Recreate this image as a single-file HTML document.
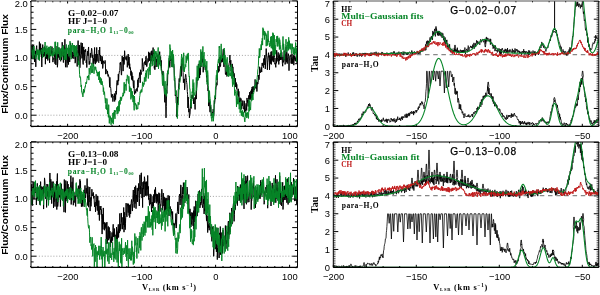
<!DOCTYPE html>
<html><head><meta charset="utf-8"><style>
html,body{margin:0;padding:0;background:#fff;width:600px;height:295px;overflow:hidden;font-family:"Liberation Sans",sans-serif;}
svg{display:block;will-change:transform;}
</style></head><body>
<svg width="600" height="295" viewBox="0 0 600 295"><line x1="36.0" y1="55.4" x2="294.5" y2="55.4" stroke="#999" stroke-width="0.9" stroke-dasharray="1 1.9"/>
<line x1="36.0" y1="115.2" x2="294.5" y2="115.2" stroke="#999" stroke-width="0.9" stroke-dasharray="1 1.9"/>
<path d="M67.60,126.3v-2.5M67.60,1.0v2.5M141.60,126.3v-2.5M141.60,1.0v2.5M215.60,126.3v-2.5M215.60,1.0v2.5M289.60,126.3v-2.5M289.60,1.0v2.5M30.60,126.3v-1.3M30.60,1.0v1.3M38.00,126.3v-1.3M38.00,1.0v1.3M45.40,126.3v-1.3M45.40,1.0v1.3M52.80,126.3v-1.3M52.80,1.0v1.3M60.20,126.3v-1.3M60.20,1.0v1.3M75.00,126.3v-1.3M75.00,1.0v1.3M82.40,126.3v-1.3M82.40,1.0v1.3M89.80,126.3v-1.3M89.80,1.0v1.3M97.20,126.3v-1.3M97.20,1.0v1.3M104.60,126.3v-1.3M104.60,1.0v1.3M112.00,126.3v-1.3M112.00,1.0v1.3M119.40,126.3v-1.3M119.40,1.0v1.3M126.80,126.3v-1.3M126.80,1.0v1.3M134.20,126.3v-1.3M134.20,1.0v1.3M149.00,126.3v-1.3M149.00,1.0v1.3M156.40,126.3v-1.3M156.40,1.0v1.3M163.80,126.3v-1.3M163.80,1.0v1.3M171.20,126.3v-1.3M171.20,1.0v1.3M178.60,126.3v-1.3M178.60,1.0v1.3M186.00,126.3v-1.3M186.00,1.0v1.3M193.40,126.3v-1.3M193.40,1.0v1.3M200.80,126.3v-1.3M200.80,1.0v1.3M208.20,126.3v-1.3M208.20,1.0v1.3M223.00,126.3v-1.3M223.00,1.0v1.3M230.40,126.3v-1.3M230.40,1.0v1.3M237.80,126.3v-1.3M237.80,1.0v1.3M245.20,126.3v-1.3M245.20,1.0v1.3M252.60,126.3v-1.3M252.60,1.0v1.3M260.00,126.3v-1.3M260.00,1.0v1.3M267.40,126.3v-1.3M267.40,1.0v1.3M274.80,126.3v-1.3M274.80,1.0v1.3M282.20,126.3v-1.3M282.20,1.0v1.3M297.00,126.3v-1.3M297.00,1.0v1.3" stroke="#000" stroke-width="1" fill="none"/>
<path d="M31.0,115.20h5.3M297.5,115.20h-5.3M31.0,86.60h5.3M297.5,86.60h-5.3M31.0,58.00h5.3M297.5,58.00h-5.3M31.0,29.40h5.3M297.5,29.40h-5.3M31.0,0.80h5.3M297.5,0.80h-5.3" stroke="#000" stroke-width="1" fill="none"/>
<path d="M31.0,126.64h2.6M297.5,126.64h-2.6M31.0,120.92h2.6M297.5,120.92h-2.6M31.0,109.48h2.6M297.5,109.48h-2.6M31.0,103.76h2.6M297.5,103.76h-2.6M31.0,98.04h2.6M297.5,98.04h-2.6M31.0,92.32h2.6M297.5,92.32h-2.6M31.0,80.88h2.6M297.5,80.88h-2.6M31.0,75.16h2.6M297.5,75.16h-2.6M31.0,69.44h2.6M297.5,69.44h-2.6M31.0,63.72h2.6M297.5,63.72h-2.6M31.0,52.28h2.6M297.5,52.28h-2.6M31.0,46.56h2.6M297.5,46.56h-2.6M31.0,40.84h2.6M297.5,40.84h-2.6M31.0,35.12h2.6M297.5,35.12h-2.6M31.0,23.68h2.6M297.5,23.68h-2.6M31.0,17.96h2.6M297.5,17.96h-2.6M31.0,12.24h2.6M297.5,12.24h-2.6M31.0,6.52h2.6M297.5,6.52h-2.6" stroke="#000" stroke-width="1.0" fill="none"/>
<text x="27.8" y="6.9" font-family="Liberation Sans" font-size="9.4" font-weight="normal" fill="#000" text-anchor="end" >2.0</text>
<text x="27.8" y="32.69999999999999" font-family="Liberation Sans" font-size="9.4" font-weight="normal" fill="#000" text-anchor="end" >1.5</text>
<text x="27.8" y="61.3" font-family="Liberation Sans" font-size="9.4" font-weight="normal" fill="#000" text-anchor="end" >1.0</text>
<text x="27.8" y="89.89999999999999" font-family="Liberation Sans" font-size="9.4" font-weight="normal" fill="#000" text-anchor="end" >0.5</text>
<text x="27.8" y="118.5" font-family="Liberation Sans" font-size="9.4" font-weight="normal" fill="#000" text-anchor="end" >0.0</text>
<text x="67.89999999999999" y="138.8" font-family="Liberation Sans" font-size="9.4" font-weight="normal" fill="#000" text-anchor="middle" >&#8722;200</text>
<text x="141.9" y="138.8" font-family="Liberation Sans" font-size="9.4" font-weight="normal" fill="#000" text-anchor="middle" >&#8722;100</text>
<text x="215.9" y="138.8" font-family="Liberation Sans" font-size="9.4" font-weight="normal" fill="#000" text-anchor="middle" >0</text>
<text x="289.90000000000003" y="138.8" font-family="Liberation Sans" font-size="9.4" font-weight="normal" fill="#000" text-anchor="middle" >100</text>
<text transform="translate(8.2,64) rotate(-90)" font-family="Liberation Sans" font-weight="bold" font-size="9.6" text-anchor="middle" textLength="99.5" lengthAdjust="spacingAndGlyphs">Flux/Continuum Flux</text>
<line x1="36.0" y1="196.4" x2="294.5" y2="196.4" stroke="#999" stroke-width="0.9" stroke-dasharray="1 1.9"/>
<line x1="36.0" y1="256.2" x2="294.5" y2="256.2" stroke="#999" stroke-width="0.9" stroke-dasharray="1 1.9"/>
<path d="M67.60,267.3v-2.5M67.60,142.0v2.5M141.60,267.3v-2.5M141.60,142.0v2.5M215.60,267.3v-2.5M215.60,142.0v2.5M289.60,267.3v-2.5M289.60,142.0v2.5M30.60,267.3v-1.3M30.60,142.0v1.3M38.00,267.3v-1.3M38.00,142.0v1.3M45.40,267.3v-1.3M45.40,142.0v1.3M52.80,267.3v-1.3M52.80,142.0v1.3M60.20,267.3v-1.3M60.20,142.0v1.3M75.00,267.3v-1.3M75.00,142.0v1.3M82.40,267.3v-1.3M82.40,142.0v1.3M89.80,267.3v-1.3M89.80,142.0v1.3M97.20,267.3v-1.3M97.20,142.0v1.3M104.60,267.3v-1.3M104.60,142.0v1.3M112.00,267.3v-1.3M112.00,142.0v1.3M119.40,267.3v-1.3M119.40,142.0v1.3M126.80,267.3v-1.3M126.80,142.0v1.3M134.20,267.3v-1.3M134.20,142.0v1.3M149.00,267.3v-1.3M149.00,142.0v1.3M156.40,267.3v-1.3M156.40,142.0v1.3M163.80,267.3v-1.3M163.80,142.0v1.3M171.20,267.3v-1.3M171.20,142.0v1.3M178.60,267.3v-1.3M178.60,142.0v1.3M186.00,267.3v-1.3M186.00,142.0v1.3M193.40,267.3v-1.3M193.40,142.0v1.3M200.80,267.3v-1.3M200.80,142.0v1.3M208.20,267.3v-1.3M208.20,142.0v1.3M223.00,267.3v-1.3M223.00,142.0v1.3M230.40,267.3v-1.3M230.40,142.0v1.3M237.80,267.3v-1.3M237.80,142.0v1.3M245.20,267.3v-1.3M245.20,142.0v1.3M252.60,267.3v-1.3M252.60,142.0v1.3M260.00,267.3v-1.3M260.00,142.0v1.3M267.40,267.3v-1.3M267.40,142.0v1.3M274.80,267.3v-1.3M274.80,142.0v1.3M282.20,267.3v-1.3M282.20,142.0v1.3M297.00,267.3v-1.3M297.00,142.0v1.3" stroke="#000" stroke-width="1" fill="none"/>
<path d="M31.0,256.20h5.3M297.5,256.20h-5.3M31.0,227.60h5.3M297.5,227.60h-5.3M31.0,199.00h5.3M297.5,199.00h-5.3M31.0,170.40h5.3M297.5,170.40h-5.3M31.0,141.80h5.3M297.5,141.80h-5.3" stroke="#000" stroke-width="1" fill="none"/>
<path d="M31.0,267.64h2.6M297.5,267.64h-2.6M31.0,261.92h2.6M297.5,261.92h-2.6M31.0,250.48h2.6M297.5,250.48h-2.6M31.0,244.76h2.6M297.5,244.76h-2.6M31.0,239.04h2.6M297.5,239.04h-2.6M31.0,233.32h2.6M297.5,233.32h-2.6M31.0,221.88h2.6M297.5,221.88h-2.6M31.0,216.16h2.6M297.5,216.16h-2.6M31.0,210.44h2.6M297.5,210.44h-2.6M31.0,204.72h2.6M297.5,204.72h-2.6M31.0,193.28h2.6M297.5,193.28h-2.6M31.0,187.56h2.6M297.5,187.56h-2.6M31.0,181.84h2.6M297.5,181.84h-2.6M31.0,176.12h2.6M297.5,176.12h-2.6M31.0,164.68h2.6M297.5,164.68h-2.6M31.0,158.96h2.6M297.5,158.96h-2.6M31.0,153.24h2.6M297.5,153.24h-2.6M31.0,147.52h2.6M297.5,147.52h-2.6" stroke="#000" stroke-width="1.0" fill="none"/>
<text x="27.8" y="147.9" font-family="Liberation Sans" font-size="9.4" font-weight="normal" fill="#000" text-anchor="end" >2.0</text>
<text x="27.8" y="173.7" font-family="Liberation Sans" font-size="9.4" font-weight="normal" fill="#000" text-anchor="end" >1.5</text>
<text x="27.8" y="202.3" font-family="Liberation Sans" font-size="9.4" font-weight="normal" fill="#000" text-anchor="end" >1.0</text>
<text x="27.8" y="230.9" font-family="Liberation Sans" font-size="9.4" font-weight="normal" fill="#000" text-anchor="end" >0.5</text>
<text x="27.8" y="259.5" font-family="Liberation Sans" font-size="9.4" font-weight="normal" fill="#000" text-anchor="end" >0.0</text>
<text x="67.89999999999999" y="279.8" font-family="Liberation Sans" font-size="9.4" font-weight="normal" fill="#000" text-anchor="middle" >&#8722;200</text>
<text x="141.9" y="279.8" font-family="Liberation Sans" font-size="9.4" font-weight="normal" fill="#000" text-anchor="middle" >&#8722;100</text>
<text x="215.9" y="279.8" font-family="Liberation Sans" font-size="9.4" font-weight="normal" fill="#000" text-anchor="middle" >0</text>
<text x="289.90000000000003" y="279.8" font-family="Liberation Sans" font-size="9.4" font-weight="normal" fill="#000" text-anchor="middle" >100</text>
<text transform="translate(8.2,205) rotate(-90)" font-family="Liberation Sans" font-weight="bold" font-size="9.6" text-anchor="middle" textLength="99.5" lengthAdjust="spacingAndGlyphs">Flux/Continuum Flux</text>
<line x1="334.3" y1="54.60" x2="597.8" y2="54.60" stroke="#888" stroke-width="1.1" stroke-dasharray="4.5 3.7" stroke-dashoffset="7.70"/>
<path d="M333.30,126.3v-2.5M333.30,1.0v2.5M416.30,126.3v-2.5M416.30,1.0v2.5M499.30,126.3v-2.5M499.30,1.0v2.5M582.30,126.3v-2.5M582.30,1.0v2.5M349.90,126.3v-1.3M349.90,1.0v1.3M366.50,126.3v-1.3M366.50,1.0v1.3M383.10,126.3v-1.3M383.10,1.0v1.3M399.70,126.3v-1.3M399.70,1.0v1.3M432.90,126.3v-1.3M432.90,1.0v1.3M449.50,126.3v-1.3M449.50,1.0v1.3M466.10,126.3v-1.3M466.10,1.0v1.3M482.70,126.3v-1.3M482.70,1.0v1.3M515.90,126.3v-1.3M515.90,1.0v1.3M532.50,126.3v-1.3M532.50,1.0v1.3M549.10,126.3v-1.3M549.10,1.0v1.3M565.70,126.3v-1.3M565.70,1.0v1.3M598.90,126.3v-1.3M598.90,1.0v1.3" stroke="#000" stroke-width="1" fill="none"/>
<path d="M333.3,126.30h5.0M598.8,126.30h-5.0M333.3,108.45h5.0M598.8,108.45h-5.0M333.3,90.60h5.0M598.8,90.60h-5.0M333.3,72.75h5.0M598.8,72.75h-5.0M333.3,54.90h5.0M598.8,54.90h-5.0M333.3,37.05h5.0M598.8,37.05h-5.0M333.3,19.20h5.0M598.8,19.20h-5.0M333.3,1.35h5.0M598.8,1.35h-5.0" stroke="#000" stroke-width="1" fill="none"/>
<path d="M333.3,124.52h2.2M598.8,124.52h-2.2M333.3,122.73h2.2M598.8,122.73h-2.2M333.3,120.94h2.2M598.8,120.94h-2.2M333.3,119.16h2.2M598.8,119.16h-2.2M333.3,117.38h2.2M598.8,117.38h-2.2M333.3,115.59h2.2M598.8,115.59h-2.2M333.3,113.80h2.2M598.8,113.80h-2.2M333.3,112.02h2.2M598.8,112.02h-2.2M333.3,110.23h2.2M598.8,110.23h-2.2M333.3,106.66h2.2M598.8,106.66h-2.2M333.3,104.88h2.2M598.8,104.88h-2.2M333.3,103.09h2.2M598.8,103.09h-2.2M333.3,101.31h2.2M598.8,101.31h-2.2M333.3,99.52h2.2M598.8,99.52h-2.2M333.3,97.74h2.2M598.8,97.74h-2.2M333.3,95.95h2.2M598.8,95.95h-2.2M333.3,94.17h2.2M598.8,94.17h-2.2M333.3,92.38h2.2M598.8,92.38h-2.2M333.3,88.81h2.2M598.8,88.81h-2.2M333.3,87.03h2.2M598.8,87.03h-2.2M333.3,85.25h2.2M598.8,85.25h-2.2M333.3,83.46h2.2M598.8,83.46h-2.2M333.3,81.67h2.2M598.8,81.67h-2.2M333.3,79.89h2.2M598.8,79.89h-2.2M333.3,78.10h2.2M598.8,78.10h-2.2M333.3,76.32h2.2M598.8,76.32h-2.2M333.3,74.53h2.2M598.8,74.53h-2.2M333.3,70.96h2.2M598.8,70.96h-2.2M333.3,69.18h2.2M598.8,69.18h-2.2M333.3,67.39h2.2M598.8,67.39h-2.2M333.3,65.61h2.2M598.8,65.61h-2.2M333.3,63.82h2.2M598.8,63.82h-2.2M333.3,62.04h2.2M598.8,62.04h-2.2M333.3,60.25h2.2M598.8,60.25h-2.2M333.3,58.47h2.2M598.8,58.47h-2.2M333.3,56.68h2.2M598.8,56.68h-2.2M333.3,53.11h2.2M598.8,53.11h-2.2M333.3,51.33h2.2M598.8,51.33h-2.2M333.3,49.54h2.2M598.8,49.54h-2.2M333.3,47.76h2.2M598.8,47.76h-2.2M333.3,45.97h2.2M598.8,45.97h-2.2M333.3,44.19h2.2M598.8,44.19h-2.2M333.3,42.40h2.2M598.8,42.40h-2.2M333.3,40.62h2.2M598.8,40.62h-2.2M333.3,38.83h2.2M598.8,38.83h-2.2M333.3,35.27h2.2M598.8,35.27h-2.2M333.3,33.48h2.2M598.8,33.48h-2.2M333.3,31.69h2.2M598.8,31.69h-2.2M333.3,29.91h2.2M598.8,29.91h-2.2M333.3,28.12h2.2M598.8,28.12h-2.2M333.3,26.34h2.2M598.8,26.34h-2.2M333.3,24.55h2.2M598.8,24.55h-2.2M333.3,22.77h2.2M598.8,22.77h-2.2M333.3,20.98h2.2M598.8,20.98h-2.2M333.3,17.41h2.2M598.8,17.41h-2.2M333.3,15.63h2.2M598.8,15.63h-2.2M333.3,13.84h2.2M598.8,13.84h-2.2M333.3,12.06h2.2M598.8,12.06h-2.2M333.3,10.27h2.2M598.8,10.27h-2.2M333.3,8.49h2.2M598.8,8.49h-2.2M333.3,6.70h2.2M598.8,6.70h-2.2M333.3,4.92h2.2M598.8,4.92h-2.2M333.3,3.13h2.2M598.8,3.13h-2.2" stroke="#333" stroke-width="0.8" fill="none"/>
<text x="329.9" y="129.6" font-family="Liberation Sans" font-size="9.4" font-weight="normal" fill="#000" text-anchor="end" >0</text>
<text x="329.9" y="111.74999999999999" font-family="Liberation Sans" font-size="9.4" font-weight="normal" fill="#000" text-anchor="end" >1</text>
<text x="329.9" y="93.89999999999999" font-family="Liberation Sans" font-size="9.4" font-weight="normal" fill="#000" text-anchor="end" >2</text>
<text x="329.9" y="76.05" font-family="Liberation Sans" font-size="9.4" font-weight="normal" fill="#000" text-anchor="end" >3</text>
<text x="329.9" y="58.19999999999999" font-family="Liberation Sans" font-size="9.4" font-weight="normal" fill="#000" text-anchor="end" >4</text>
<text x="329.9" y="40.349999999999994" font-family="Liberation Sans" font-size="9.4" font-weight="normal" fill="#000" text-anchor="end" >5</text>
<text x="329.9" y="22.49999999999999" font-family="Liberation Sans" font-size="9.4" font-weight="normal" fill="#000" text-anchor="end" >6</text>
<text x="329.9" y="6.8" font-family="Liberation Sans" font-size="9.4" font-weight="normal" fill="#000" text-anchor="end" >7</text>
<text x="333.6" y="138.8" font-family="Liberation Sans" font-size="9.4" font-weight="normal" fill="#000" text-anchor="middle" >&#8722;200</text>
<text x="416.6" y="138.8" font-family="Liberation Sans" font-size="9.4" font-weight="normal" fill="#000" text-anchor="middle" >&#8722;150</text>
<text x="499.6" y="138.8" font-family="Liberation Sans" font-size="9.4" font-weight="normal" fill="#000" text-anchor="middle" >&#8722;100</text>
<text x="582.5999999999999" y="138.8" font-family="Liberation Sans" font-size="9.4" font-weight="normal" fill="#000" text-anchor="middle" >&#8722;50</text>
<text transform="translate(318.3,63.8) rotate(-90)" font-family="Liberation Serif" font-weight="bold" font-size="10" text-anchor="middle" textLength="16.3" lengthAdjust="spacingAndGlyphs">Tau</text>
<line x1="334.3" y1="195.60" x2="597.8" y2="195.60" stroke="#888" stroke-width="1.1" stroke-dasharray="4.5 3.7" stroke-dashoffset="7.70"/>
<path d="M333.30,267.3v-2.5M333.30,142.0v2.5M416.30,267.3v-2.5M416.30,142.0v2.5M499.30,267.3v-2.5M499.30,142.0v2.5M582.30,267.3v-2.5M582.30,142.0v2.5M349.90,267.3v-1.3M349.90,142.0v1.3M366.50,267.3v-1.3M366.50,142.0v1.3M383.10,267.3v-1.3M383.10,142.0v1.3M399.70,267.3v-1.3M399.70,142.0v1.3M432.90,267.3v-1.3M432.90,142.0v1.3M449.50,267.3v-1.3M449.50,142.0v1.3M466.10,267.3v-1.3M466.10,142.0v1.3M482.70,267.3v-1.3M482.70,142.0v1.3M515.90,267.3v-1.3M515.90,142.0v1.3M532.50,267.3v-1.3M532.50,142.0v1.3M549.10,267.3v-1.3M549.10,142.0v1.3M565.70,267.3v-1.3M565.70,142.0v1.3M598.90,267.3v-1.3M598.90,142.0v1.3" stroke="#000" stroke-width="1" fill="none"/>
<path d="M333.3,267.30h5.0M598.8,267.30h-5.0M333.3,249.45h5.0M598.8,249.45h-5.0M333.3,231.60h5.0M598.8,231.60h-5.0M333.3,213.75h5.0M598.8,213.75h-5.0M333.3,195.90h5.0M598.8,195.90h-5.0M333.3,178.05h5.0M598.8,178.05h-5.0M333.3,160.20h5.0M598.8,160.20h-5.0M333.3,142.35h5.0M598.8,142.35h-5.0" stroke="#000" stroke-width="1" fill="none"/>
<path d="M333.3,265.51h2.2M598.8,265.51h-2.2M333.3,263.73h2.2M598.8,263.73h-2.2M333.3,261.94h2.2M598.8,261.94h-2.2M333.3,260.16h2.2M598.8,260.16h-2.2M333.3,258.38h2.2M598.8,258.38h-2.2M333.3,256.59h2.2M598.8,256.59h-2.2M333.3,254.81h2.2M598.8,254.81h-2.2M333.3,253.02h2.2M598.8,253.02h-2.2M333.3,251.24h2.2M598.8,251.24h-2.2M333.3,247.67h2.2M598.8,247.67h-2.2M333.3,245.88h2.2M598.8,245.88h-2.2M333.3,244.09h2.2M598.8,244.09h-2.2M333.3,242.31h2.2M598.8,242.31h-2.2M333.3,240.53h2.2M598.8,240.53h-2.2M333.3,238.74h2.2M598.8,238.74h-2.2M333.3,236.96h2.2M598.8,236.96h-2.2M333.3,235.17h2.2M598.8,235.17h-2.2M333.3,233.39h2.2M598.8,233.39h-2.2M333.3,229.81h2.2M598.8,229.81h-2.2M333.3,228.03h2.2M598.8,228.03h-2.2M333.3,226.25h2.2M598.8,226.25h-2.2M333.3,224.46h2.2M598.8,224.46h-2.2M333.3,222.68h2.2M598.8,222.68h-2.2M333.3,220.89h2.2M598.8,220.89h-2.2M333.3,219.11h2.2M598.8,219.11h-2.2M333.3,217.32h2.2M598.8,217.32h-2.2M333.3,215.54h2.2M598.8,215.54h-2.2M333.3,211.97h2.2M598.8,211.97h-2.2M333.3,210.18h2.2M598.8,210.18h-2.2M333.3,208.40h2.2M598.8,208.40h-2.2M333.3,206.61h2.2M598.8,206.61h-2.2M333.3,204.82h2.2M598.8,204.82h-2.2M333.3,203.04h2.2M598.8,203.04h-2.2M333.3,201.25h2.2M598.8,201.25h-2.2M333.3,199.47h2.2M598.8,199.47h-2.2M333.3,197.69h2.2M598.8,197.69h-2.2M333.3,194.12h2.2M598.8,194.12h-2.2M333.3,192.33h2.2M598.8,192.33h-2.2M333.3,190.55h2.2M598.8,190.55h-2.2M333.3,188.76h2.2M598.8,188.76h-2.2M333.3,186.98h2.2M598.8,186.98h-2.2M333.3,185.19h2.2M598.8,185.19h-2.2M333.3,183.41h2.2M598.8,183.41h-2.2M333.3,181.62h2.2M598.8,181.62h-2.2M333.3,179.83h2.2M598.8,179.83h-2.2M333.3,176.27h2.2M598.8,176.27h-2.2M333.3,174.48h2.2M598.8,174.48h-2.2M333.3,172.69h2.2M598.8,172.69h-2.2M333.3,170.91h2.2M598.8,170.91h-2.2M333.3,169.12h2.2M598.8,169.12h-2.2M333.3,167.34h2.2M598.8,167.34h-2.2M333.3,165.56h2.2M598.8,165.56h-2.2M333.3,163.77h2.2M598.8,163.77h-2.2M333.3,161.99h2.2M598.8,161.99h-2.2M333.3,158.42h2.2M598.8,158.42h-2.2M333.3,156.63h2.2M598.8,156.63h-2.2M333.3,154.84h2.2M598.8,154.84h-2.2M333.3,153.06h2.2M598.8,153.06h-2.2M333.3,151.28h2.2M598.8,151.28h-2.2M333.3,149.49h2.2M598.8,149.49h-2.2M333.3,147.70h2.2M598.8,147.70h-2.2M333.3,145.92h2.2M598.8,145.92h-2.2M333.3,144.13h2.2M598.8,144.13h-2.2" stroke="#333" stroke-width="0.8" fill="none"/>
<text x="329.9" y="270.6" font-family="Liberation Sans" font-size="9.4" font-weight="normal" fill="#000" text-anchor="end" >0</text>
<text x="329.9" y="252.75000000000003" font-family="Liberation Sans" font-size="9.4" font-weight="normal" fill="#000" text-anchor="end" >1</text>
<text x="329.9" y="234.90000000000003" font-family="Liberation Sans" font-size="9.4" font-weight="normal" fill="#000" text-anchor="end" >2</text>
<text x="329.9" y="217.05" font-family="Liberation Sans" font-size="9.4" font-weight="normal" fill="#000" text-anchor="end" >3</text>
<text x="329.9" y="199.20000000000002" font-family="Liberation Sans" font-size="9.4" font-weight="normal" fill="#000" text-anchor="end" >4</text>
<text x="329.9" y="181.35000000000002" font-family="Liberation Sans" font-size="9.4" font-weight="normal" fill="#000" text-anchor="end" >5</text>
<text x="329.9" y="163.5" font-family="Liberation Sans" font-size="9.4" font-weight="normal" fill="#000" text-anchor="end" >6</text>
<text x="329.9" y="147.8" font-family="Liberation Sans" font-size="9.4" font-weight="normal" fill="#000" text-anchor="end" >7</text>
<text x="333.6" y="279.8" font-family="Liberation Sans" font-size="9.4" font-weight="normal" fill="#000" text-anchor="middle" >&#8722;200</text>
<text x="416.6" y="279.8" font-family="Liberation Sans" font-size="9.4" font-weight="normal" fill="#000" text-anchor="middle" >&#8722;150</text>
<text x="499.6" y="279.8" font-family="Liberation Sans" font-size="9.4" font-weight="normal" fill="#000" text-anchor="middle" >&#8722;100</text>
<text x="582.5999999999999" y="279.8" font-family="Liberation Sans" font-size="9.4" font-weight="normal" fill="#000" text-anchor="middle" >&#8722;50</text>
<text transform="translate(318.3,204.8) rotate(-90)" font-family="Liberation Serif" font-weight="bold" font-size="10" text-anchor="middle" textLength="16.3" lengthAdjust="spacingAndGlyphs">Tau</text>
<defs>
<clipPath id="cTL"><rect x="31.0" y="1.0" width="266.5" height="125.3"/></clipPath>
<clipPath id="cBL"><rect x="31.0" y="142.0" width="266.5" height="125.30000000000001"/></clipPath>
<clipPath id="cTR"><rect x="333.3" y="1.0" width="265.49999999999994" height="125.3"/></clipPath>
<clipPath id="cBR"><rect x="333.3" y="142.0" width="265.49999999999994" height="125.30000000000001"/></clipPath>
</defs>
<g clip-path="url(#cTL)">
<polyline points="31.00,45.01 31.30,54.82 31.60,58.60 31.90,49.37 32.20,44.39 32.50,52.12 32.80,55.46 33.10,59.26 33.40,45.10 33.70,44.63 34.00,56.87 34.30,55.46 34.60,61.95 34.90,58.58 35.20,51.95 35.50,50.90 35.80,66.86 36.10,50.82 36.40,47.79 36.70,45.63 37.00,53.19 37.30,53.50 37.60,50.50 37.90,52.24 38.20,54.30 38.50,56.87 38.80,59.35 39.10,53.92 39.40,41.69 39.70,56.94 40.00,43.97 40.30,51.61 40.60,43.65 40.90,52.68 41.20,47.91 41.50,53.99 41.80,66.97 42.10,52.39 42.40,57.85 42.70,44.60 43.00,50.94 43.30,56.77 43.60,52.15 43.90,54.99 44.20,53.36 44.50,46.58 44.80,56.19 45.10,47.77 45.40,64.20 45.70,49.66 46.00,56.96 46.30,52.78 46.60,58.60 46.90,49.09 47.20,58.89 47.50,52.03 47.80,60.52 48.10,56.61 48.40,53.66 48.70,48.03 49.00,57.51 49.30,55.68 49.60,62.87 49.90,50.52 50.20,56.23 50.50,55.94 50.80,54.57 51.10,54.12 51.40,53.97 51.70,49.19 52.00,46.65 52.30,50.44 52.60,56.49 52.90,62.13 53.20,58.86 53.50,59.33 53.80,57.65 54.10,57.17 54.40,54.03 54.70,57.63 55.00,63.77 55.30,50.91 55.60,48.68 55.90,64.93 56.20,54.43 56.50,58.88 56.80,58.29 57.10,46.00 57.40,67.24 57.70,63.83 58.00,54.05 58.30,57.58 58.60,53.75 58.90,47.57 59.20,52.30 59.50,55.28 59.80,59.83 60.10,57.34 60.40,53.39 60.70,61.31 61.00,48.42 61.30,57.90 61.60,59.86 61.90,51.33 62.20,42.24 62.50,47.64 62.80,54.59 63.10,56.37 63.40,62.56 63.70,47.13 64.00,53.23 64.30,57.15 64.60,52.30 64.90,39.22 65.20,58.14 65.50,67.20 65.80,59.35 66.10,47.84 66.40,50.88 66.70,54.70 67.00,67.34 67.30,57.09 67.60,54.10 67.90,62.72 68.20,52.97 68.50,64.55 68.80,49.42 69.10,50.69 69.40,57.80 69.70,61.98 70.00,57.43 70.30,55.36 70.60,42.83 70.90,49.40 71.20,50.02 71.50,50.50 71.80,57.11 72.10,51.70 72.40,58.31 72.70,54.19 73.00,51.77 73.30,54.43 73.60,56.26 73.90,58.79 74.20,51.00 74.50,52.45 74.80,45.88 75.10,63.17 75.40,62.29 75.70,52.83 76.00,51.11 76.30,46.74 76.60,54.91 76.90,55.13 77.20,66.56 77.50,55.39 77.80,49.51 78.10,40.59 78.40,62.20 78.70,55.26 79.00,45.03 79.30,55.36 79.60,45.21 79.90,67.78 80.20,60.92 80.50,57.88 80.80,53.71 81.10,42.65 81.40,54.13 81.70,46.14 82.00,58.36 82.30,43.03 82.60,50.05 82.90,62.07 83.20,64.51 83.50,48.77 83.80,46.88 84.10,60.43 84.40,60.35 84.70,50.19 85.00,51.90 85.30,51.98 85.60,49.32 85.90,52.22 86.20,62.95 86.50,59.92 86.80,67.50 87.10,55.80 87.40,55.61 87.70,51.05 88.00,55.82 88.30,49.42 88.60,46.98 88.90,60.51 89.20,64.61 89.50,61.41 89.80,64.15 90.10,58.37 90.40,53.18 90.70,57.53 91.00,55.11 91.30,51.23 91.60,48.22 91.90,49.39 92.20,57.19 92.50,58.04 92.80,54.81 93.10,64.71 93.40,58.26 93.70,60.36 94.00,63.63 94.30,53.26 94.60,47.48 94.90,61.29 95.20,54.06 95.50,64.11 95.80,59.26 96.10,62.60 96.40,61.41 96.70,47.44 97.00,61.22 97.30,54.45 97.60,54.09 97.90,55.69 98.20,61.51 98.50,62.08 98.80,62.70 99.10,50.04 99.40,55.15 99.70,47.00 100.00,57.52 100.30,61.09 100.60,55.07 100.90,60.03 101.20,60.26 101.50,64.08 101.80,56.09 102.10,56.38 102.40,56.99 102.70,68.48 103.00,65.81 103.30,60.76 103.60,62.58 103.90,62.40 104.20,63.52 104.50,62.74 104.80,63.20 105.10,60.40 105.40,63.94 105.70,74.15 106.00,70.62 106.30,69.73 106.60,69.62 106.90,71.66 107.20,73.72 107.50,70.99 107.80,75.06 108.10,76.43 108.40,74.57 108.70,76.13 109.00,77.07 109.30,78.54 109.60,87.27 109.90,77.37 110.20,86.51 110.50,86.97 110.80,88.64 111.10,92.68 111.40,97.39 111.70,94.61 112.00,94.83 112.30,94.13 112.60,96.87 112.90,101.62 113.20,97.91 113.50,96.21 113.80,96.10 114.10,95.62 114.40,93.56 114.70,101.48 115.00,97.76 115.30,94.58 115.60,99.65 115.90,90.98 116.20,94.41 116.50,92.63 116.80,82.23 117.10,80.24 117.40,80.56 117.70,85.21 118.00,84.67 118.30,74.09 118.60,81.13 118.90,74.34 119.20,72.87 119.50,70.82 119.80,70.29 120.10,62.74 120.40,64.62 120.70,62.15 121.00,68.12 121.30,74.54 121.60,75.13 121.90,62.69 122.20,55.79 122.50,61.13 122.80,58.04 123.10,71.12 123.40,63.91 123.70,57.10 124.00,64.55 124.30,62.03 124.60,50.73 124.90,55.53 125.20,57.00 125.50,58.59 125.80,59.45 126.10,57.46 126.40,60.31 126.70,56.93 127.00,55.80 127.30,67.31 127.60,62.25 127.90,62.88 128.20,54.08 128.50,60.77 128.80,65.37 129.10,56.92 129.40,68.50 129.70,63.65 130.00,68.31 130.30,67.53 130.60,70.33 130.90,75.52 131.20,70.74 131.50,79.49 131.80,72.21 132.10,73.19 132.40,80.56 132.70,76.02 133.00,79.97 133.30,85.69 133.60,88.12 133.90,80.46 134.20,88.94 134.50,94.43 134.80,93.69 135.10,90.81 135.40,91.02 135.70,93.15 136.00,89.27 136.30,90.58 136.60,89.49 136.90,88.31 137.20,91.44 137.50,85.38 137.80,79.71 138.10,87.34 138.40,78.17 138.70,79.05 139.00,78.82 139.30,76.59 139.60,72.54 139.90,74.12 140.20,82.75 140.50,69.78 140.80,70.35 141.10,74.68 141.40,72.47 141.70,71.99 142.00,71.88 142.30,58.44 142.60,62.82 142.90,66.80 143.20,67.95 143.50,71.17 143.80,66.67 144.10,62.64 144.40,63.39 144.70,61.55 145.00,63.25 145.30,65.07 145.60,59.54 145.90,56.71 146.20,56.10 146.50,65.97 146.80,66.63 147.10,64.78 147.40,63.73 147.70,63.28 148.00,58.39 148.30,61.70 148.60,51.83 148.90,56.18 149.20,52.82 149.50,60.73 149.80,52.92 150.10,55.42 150.40,58.44 150.70,63.95 151.00,51.95 151.30,51.29 151.60,61.16 151.90,50.69 152.20,59.34 152.50,53.92 152.80,56.55 153.10,47.56 153.40,61.12 153.70,54.87 154.00,52.94 154.30,68.40 154.60,61.47 154.90,69.75 155.20,60.22 155.50,56.65 155.80,59.18 156.10,66.98 156.40,58.98 156.70,61.63 157.00,62.20 157.30,55.25 157.60,60.73 157.90,57.79 158.20,54.28 158.50,65.20 158.80,64.39 159.10,61.66 159.40,56.95 159.70,51.65 160.00,64.45 160.30,62.91 160.60,56.56 160.90,65.91 161.20,60.37 161.50,68.88 161.80,71.06 162.10,73.41 162.40,74.17 162.70,75.35 163.00,71.08 163.30,77.54 163.60,80.19 163.90,84.58 164.20,89.97 164.50,94.67 164.80,102.26 165.10,88.32 165.40,103.33 165.70,103.94 166.00,117.83 166.30,106.63 166.60,90.06 166.90,93.53 167.20,84.15 167.50,85.29 167.80,71.04 168.10,71.09 168.40,69.57 168.70,68.32 169.00,64.81 169.30,57.99 169.60,66.52 169.90,67.45 170.20,61.44 170.50,55.94 170.80,59.81 171.10,60.76 171.40,58.59 171.70,60.28 172.00,67.08 172.30,57.85 172.60,61.14 172.90,56.97 173.20,62.68 173.50,63.58 173.80,63.83 174.10,67.04 174.40,80.60 174.70,78.03 175.00,82.92 175.30,95.85 175.60,92.31 175.90,90.89 176.20,103.18 176.50,102.96 176.80,116.83 177.10,107.91 177.40,105.51 177.70,97.02 178.00,98.35 178.30,89.54 178.60,88.16 178.90,82.24 179.20,78.43 179.50,82.18 179.80,80.21 180.10,74.91 180.40,69.12 180.70,66.38 181.00,69.77 181.30,76.35 181.60,62.74 181.90,59.30 182.20,61.06 182.50,62.45 182.80,66.10 183.10,72.52 183.40,82.71 183.70,79.63 184.00,80.53 184.30,78.88 184.60,89.88 184.90,87.11 185.20,77.78 185.50,74.23 185.80,74.59 186.10,77.77 186.40,80.31 186.70,82.69 187.00,84.60 187.30,91.58 187.60,94.35 187.90,107.99 188.20,96.98 188.50,102.93 188.80,112.18 189.10,108.75 189.40,117.80 189.70,114.95 190.00,114.17 190.30,108.70 190.60,101.21 190.90,99.16 191.20,108.44 191.50,98.59 191.80,94.94 192.10,94.72 192.40,94.86 192.70,98.62 193.00,94.85 193.30,96.84 193.60,103.85 193.90,99.88 194.20,97.45 194.50,104.02 194.80,104.45 195.10,109.45 195.40,100.09 195.70,95.02 196.00,94.57 196.30,99.11 196.60,88.59 196.90,85.90 197.20,81.64 197.50,79.28 197.80,78.41 198.10,77.78 198.40,63.90 198.70,76.13 199.00,69.49 199.30,67.36 199.60,78.08 199.90,66.52 200.20,74.90 200.50,69.93 200.80,60.55 201.10,66.36 201.40,66.68 201.70,62.21 202.00,51.94 202.30,61.11 202.60,62.37 202.90,59.02 203.20,72.29 203.50,63.94 203.80,63.90 204.10,64.91 204.40,63.41 204.70,64.05 205.00,68.41 205.30,69.95 205.60,67.01 205.90,69.41 206.20,65.99 206.50,77.25 206.80,74.76 207.10,81.93 207.40,80.08 207.70,84.77 208.00,90.93 208.30,87.77 208.60,106.08 208.90,98.84 209.20,100.89 209.50,99.92 209.80,111.38 210.10,112.22 210.40,109.59 210.70,104.85 211.00,110.06 211.30,116.12 211.60,113.71 211.90,113.11 212.20,112.52 212.50,112.22 212.80,113.25 213.10,109.06 213.40,109.67 213.70,116.20 214.00,112.38 214.30,100.46 214.60,103.64 214.90,100.91 215.20,97.50 215.50,98.88 215.80,90.74 216.10,87.74 216.40,84.52 216.70,82.60 217.00,85.25 217.30,80.22 217.60,68.33 217.90,69.10 218.20,66.03 218.50,72.35 218.80,69.00 219.10,71.27 219.40,66.22 219.70,56.92 220.00,67.11 220.30,65.33 220.60,65.93 220.90,56.44 221.20,62.40 221.50,57.85 221.80,57.06 222.10,61.85 222.40,62.04 222.70,55.97 223.00,52.04 223.30,49.11 223.60,58.17 223.90,66.92 224.20,61.19 224.50,50.32 224.80,57.52 225.10,65.04 225.40,74.27 225.70,74.48 226.00,72.98 226.30,74.79 226.60,70.45 226.90,76.51 227.20,76.11 227.50,70.68 227.80,72.35 228.10,66.89 228.40,67.77 228.70,70.38 229.00,63.74 229.30,62.88 229.60,60.42 229.90,55.07 230.20,62.66 230.50,66.54 230.80,60.15 231.10,71.29 231.40,64.91 231.70,68.83 232.00,66.58 232.30,63.87 232.60,79.04 232.90,66.83 233.20,76.50 233.50,71.80 233.80,76.28 234.10,73.33 234.40,76.04 234.70,82.18 235.00,87.00 235.30,78.15 235.60,82.44 235.90,87.01 236.20,82.53 236.50,88.56 236.80,84.37 237.10,90.57 237.40,91.17 237.70,95.16 238.00,93.31 238.30,88.81 238.60,96.59 238.90,91.33 239.20,99.10 239.50,102.94 239.80,100.74 240.10,97.71 240.40,105.09 240.70,102.50 241.00,98.52 241.30,102.32 241.60,109.31 241.90,103.71 242.20,105.84 242.50,104.77 242.80,100.53 243.10,105.36 243.40,109.08 243.70,109.15 244.00,108.37 244.30,100.82 244.60,112.40 244.90,110.09 245.20,110.68 245.50,111.18 245.80,104.40 246.10,103.32 246.40,106.13 246.70,110.52 247.00,97.93 247.30,102.47 247.60,100.03 247.90,103.91 248.20,106.47 248.50,99.43 248.80,95.33 249.10,99.28 249.40,97.37 249.70,92.14 250.00,100.19 250.30,94.62 250.60,98.46 250.90,90.76 251.20,98.95 251.50,89.31 251.80,97.79 252.10,86.98 252.40,97.97 252.70,91.15 253.00,86.40 253.30,90.55 253.60,92.01 253.90,86.63 254.20,87.82 254.50,89.97 254.80,87.79 255.10,79.40 255.40,85.65 255.70,88.14 256.00,87.07 256.30,88.67 256.60,81.59 256.90,91.52 257.20,85.04 257.50,82.32 257.80,84.15 258.10,82.72 258.40,78.69 258.70,74.97 259.00,79.69 259.30,76.32 259.60,66.79 259.90,68.42 260.20,72.88 260.50,70.39 260.80,69.81 261.10,70.06 261.40,67.47 261.70,72.10 262.00,63.07 262.30,62.97 262.60,65.02 262.90,65.96 263.20,65.38 263.50,67.58 263.80,58.50 264.10,65.02 264.40,61.91 264.70,55.18 265.00,59.06 265.30,68.90 265.60,63.01 265.90,57.23 266.20,48.57 266.50,55.77 266.80,55.80 267.10,59.33 267.40,69.79 267.70,62.32 268.00,60.17 268.30,54.05 268.60,52.69 268.90,57.35 269.20,55.96 269.50,69.79 269.80,56.04 270.10,54.90 270.40,63.69 270.70,58.39 271.00,51.78 271.30,64.50 271.60,56.43 271.90,51.30 272.20,59.62 272.50,60.46 272.80,56.30 273.10,61.52 273.40,62.14 273.70,53.55 274.00,47.63 274.30,46.24 274.60,57.35 274.90,64.20 275.20,63.05 275.50,65.02 275.80,67.35 276.10,58.08 276.40,63.32 276.70,50.29 277.00,61.47 277.30,59.98 277.60,57.52 277.90,55.77 278.20,52.38 278.50,58.71 278.80,64.44 279.10,56.15 279.40,60.68 279.70,54.65 280.00,59.28 280.30,52.95 280.60,59.97 280.90,56.99 281.20,59.71 281.50,55.09 281.80,52.25 282.10,56.55 282.40,63.46 282.70,66.23 283.00,56.66 283.30,62.36 283.60,62.18 283.90,60.37 284.20,50.60 284.50,60.08 284.80,53.59 285.10,64.44 285.40,62.51 285.70,61.68 286.00,46.84 286.30,61.76 286.60,62.19 286.90,52.25 287.20,63.61 287.50,59.13 287.80,57.86 288.10,55.22 288.40,53.71 288.70,56.68 289.00,70.66 289.30,59.95 289.60,60.01 289.90,55.72 290.20,55.93 290.50,56.31 290.80,54.71 291.10,63.47 291.40,57.86 291.70,63.45 292.00,53.67 292.30,63.78 292.60,59.22 292.90,62.56 293.20,58.93 293.50,55.29 293.80,65.17 294.10,57.52 294.40,58.91 294.70,55.56 295.00,60.60 295.30,57.94 295.60,61.02 295.90,61.33 296.20,56.76 296.50,53.64 296.80,61.81 297.10,63.95 297.40,63.00" fill="none" stroke="#000" stroke-width="1.0" stroke-linejoin="round" />
<polyline points="31.00,45.78 31.30,52.42 31.60,50.39 31.90,49.58 32.20,55.31 32.50,51.74 32.80,50.38 33.10,58.60 33.40,49.50 33.70,46.45 34.00,46.01 34.30,49.36 34.60,54.05 34.90,54.81 35.20,55.94 35.50,58.76 35.80,58.24 36.10,54.06 36.40,56.79 36.70,54.13 37.00,49.30 37.30,54.84 37.60,51.81 37.90,50.74 38.20,59.54 38.50,54.65 38.80,49.64 39.10,51.26 39.40,60.60 39.70,50.58 40.00,54.50 40.30,54.04 40.60,53.60 40.90,53.90 41.20,49.61 41.50,49.68 41.80,50.89 42.10,50.09 42.40,54.76 42.70,57.71 43.00,47.95 43.30,53.70 43.60,47.57 43.90,48.72 44.20,50.53 44.50,51.92 44.80,49.73 45.10,42.02 45.40,57.03 45.70,50.38 46.00,48.91 46.30,54.19 46.60,49.05 46.90,45.71 47.20,53.41 47.50,53.12 47.80,48.11 48.10,54.79 48.40,52.92 48.70,46.86 49.00,58.44 49.30,52.48 49.60,46.84 49.90,53.21 50.20,51.90 50.50,55.28 50.80,45.96 51.10,55.55 51.40,55.15 51.70,54.15 52.00,53.81 52.30,56.63 52.60,54.23 52.90,51.85 53.20,47.97 53.50,55.79 53.80,55.27 54.10,52.51 54.40,51.92 54.70,54.21 55.00,41.85 55.30,52.57 55.60,41.84 55.90,52.25 56.20,55.52 56.50,58.88 56.80,49.37 57.10,52.98 57.40,50.96 57.70,42.31 58.00,54.16 58.30,51.16 58.60,51.49 58.90,47.43 59.20,51.04 59.50,51.53 59.80,56.33 60.10,52.36 60.40,60.22 60.70,49.51 61.00,50.07 61.30,50.90 61.60,47.84 61.90,57.14 62.20,53.65 62.50,45.92 62.80,51.45 63.10,55.61 63.40,45.28 63.70,51.56 64.00,49.99 64.30,59.97 64.60,52.57 64.90,49.24 65.20,48.61 65.50,58.43 65.80,48.96 66.10,59.86 66.40,44.52 66.70,50.00 67.00,49.79 67.30,47.91 67.60,49.86 67.90,53.47 68.20,48.01 68.50,44.90 68.80,56.04 69.10,56.51 69.40,47.83 69.70,51.81 70.00,41.14 70.30,54.72 70.60,45.18 70.90,48.28 71.20,59.17 71.50,45.40 71.80,50.53 72.10,46.13 72.40,42.99 72.70,45.71 73.00,51.46 73.30,45.11 73.60,47.97 73.90,53.24 74.20,49.66 74.50,45.02 74.80,56.27 75.10,50.73 75.40,55.86 75.70,46.00 76.00,56.96 76.30,45.75 76.60,45.17 76.90,51.24 77.20,52.36 77.50,55.65 77.80,53.50 78.10,59.46 78.40,64.84 78.70,60.94 79.00,61.63 79.30,67.87 79.60,74.65 79.90,77.54 80.20,76.66 80.50,77.19 80.80,82.15 81.10,86.98 81.40,84.96 81.70,92.17 82.00,91.83 82.30,94.23 82.60,93.45 82.90,96.96 83.20,93.23 83.50,89.04 83.80,93.25 84.10,89.70 84.40,92.14 84.70,89.30 85.00,86.73 85.30,87.19 85.60,84.36 85.90,82.21 86.20,82.96 86.50,83.74 86.80,80.50 87.10,78.79 87.40,76.18 87.70,78.05 88.00,75.92 88.30,77.45 88.60,75.19 88.90,80.13 89.20,68.11 89.50,72.34 89.80,73.72 90.10,74.43 90.40,65.80 90.70,66.26 91.00,69.75 91.30,73.08 91.60,72.78 91.90,62.83 92.20,68.75 92.50,72.73 92.80,68.74 93.10,65.06 93.40,66.38 93.70,64.31 94.00,73.71 94.30,68.59 94.60,68.15 94.90,66.71 95.20,69.57 95.50,66.94 95.80,66.87 96.10,70.46 96.40,69.96 96.70,72.64 97.00,71.69 97.30,76.21 97.60,72.49 97.90,74.35 98.20,74.98 98.50,71.96 98.80,79.98 99.10,74.35 99.40,71.39 99.70,82.45 100.00,81.03 100.30,77.34 100.60,83.62 100.90,84.41 101.20,84.49 101.50,78.65 101.80,84.83 102.10,81.30 102.40,84.03 102.70,85.32 103.00,85.27 103.30,91.79 103.60,87.67 103.90,94.64 104.20,93.90 104.50,91.71 104.80,96.16 105.10,99.67 105.40,103.15 105.70,98.28 106.00,108.85 106.30,104.94 106.60,109.58 106.90,98.54 107.20,101.28 107.50,113.88 107.80,108.14 108.10,112.83 108.40,117.35 108.70,104.66 109.00,115.08 109.30,123.41 109.60,118.39 109.90,115.55 110.20,118.73 110.50,116.68 110.80,121.34 111.10,124.81 111.40,117.80 111.70,122.02 112.00,120.47 112.30,122.53 112.60,122.83 112.90,112.95 113.20,124.16 113.50,122.45 113.80,112.33 114.10,116.27 114.40,110.13 114.70,115.91 115.00,118.87 115.30,110.60 115.60,111.78 115.90,110.53 116.20,110.66 116.50,109.54 116.80,107.42 117.10,114.19 117.40,109.81 117.70,106.34 118.00,113.47 118.30,105.85 118.60,111.14 118.90,101.35 119.20,111.28 119.50,102.87 119.80,100.04 120.10,104.43 120.40,96.91 120.70,97.05 121.00,101.01 121.30,97.34 121.60,99.49 121.90,97.51 122.20,96.86 122.50,95.37 122.80,96.42 123.10,92.79 123.40,95.75 123.70,94.12 124.00,82.52 124.30,82.23 124.60,93.18 124.90,84.89 125.20,86.18 125.50,84.13 125.80,84.58 126.10,90.62 126.40,79.10 126.70,80.94 127.00,79.76 127.30,74.86 127.60,75.38 127.90,78.76 128.20,80.88 128.50,83.54 128.80,76.24 129.10,78.87 129.40,91.71 129.70,86.29 130.00,91.12 130.30,87.81 130.60,87.97 130.90,99.39 131.20,88.40 131.50,90.68 131.80,97.52 132.10,96.24 132.40,91.34 132.70,98.88 133.00,102.11 133.30,95.05 133.60,99.65 133.90,105.62 134.20,110.34 134.50,96.06 134.80,102.39 135.10,105.40 135.40,102.99 135.70,103.68 136.00,105.59 136.30,109.22 136.60,104.74 136.90,109.50 137.20,108.55 137.50,107.77 137.80,108.91 138.10,102.11 138.40,102.64 138.70,104.84 139.00,104.77 139.30,102.59 139.60,97.14 139.90,95.69 140.20,91.73 140.50,93.20 140.80,90.34 141.10,90.36 141.40,89.41 141.70,92.37 142.00,91.22 142.30,86.95 142.60,81.84 142.90,84.93 143.20,85.83 143.50,86.54 143.80,82.99 144.10,84.48 144.40,77.40 144.70,81.92 145.00,81.35 145.30,75.80 145.60,73.17 145.90,81.37 146.20,70.37 146.50,77.39 146.80,72.08 147.10,70.89 147.40,70.53 147.70,68.78 148.00,69.99 148.30,78.53 148.60,76.19 148.90,67.24 149.20,69.67 149.50,71.27 149.80,63.40 150.10,74.93 150.40,64.38 150.70,66.88 151.00,57.36 151.30,55.63 151.60,55.51 151.90,56.75 152.20,66.07 152.50,58.13 152.80,64.90 153.10,57.24 153.40,53.99 153.70,60.32 154.00,56.91 154.30,49.47 154.60,59.18 154.90,65.57 155.20,57.40 155.50,51.53 155.80,53.93 156.10,51.26 156.40,57.00 156.70,53.09 157.00,58.05 157.30,59.86 157.60,66.65 157.90,52.48 158.20,47.48 158.50,68.83 158.80,62.10 159.10,57.65 159.40,62.82 159.70,54.70 160.00,58.25 160.30,66.10 160.60,62.39 160.90,66.97 161.20,70.73 161.50,70.89 161.80,70.81 162.10,77.17 162.40,83.84 162.70,85.54 163.00,75.14 163.30,85.67 163.60,72.41 163.90,76.54 164.20,87.13 164.50,88.92 164.80,93.88 165.10,81.18 165.40,94.61 165.70,89.06 166.00,90.68 166.30,95.34 166.60,96.33 166.90,82.00 167.20,73.15 167.50,73.25 167.80,70.79 168.10,74.25 168.40,67.04 168.70,60.94 169.00,57.44 169.30,55.32 169.60,60.39 169.90,44.53 170.20,49.04 170.50,48.66 170.80,59.65 171.10,55.03 171.40,51.36 171.70,59.66 172.00,66.96 172.30,62.50 172.60,49.99 172.90,56.78 173.20,67.42 173.50,54.49 173.80,61.93 174.10,70.63 174.40,80.09 174.70,76.39 175.00,86.04 175.30,88.24 175.60,94.75 175.90,91.03 176.20,90.49 176.50,95.33 176.80,109.57 177.10,116.68 177.40,118.55 177.70,109.01 178.00,103.50 178.30,104.71 178.60,97.23 178.90,88.02 179.20,89.33 179.50,83.50 179.80,82.51 180.10,80.70 180.40,74.77 180.70,69.92 181.00,66.87 181.30,58.77 181.60,54.14 181.90,55.57 182.20,64.18 182.50,57.69 182.80,64.07 183.10,69.26 183.40,70.58 183.70,52.82 184.00,66.14 184.30,71.99 184.60,67.38 184.90,68.32 185.20,64.44 185.50,65.68 185.80,66.75 186.10,55.63 186.40,62.69 186.70,57.20 187.00,60.52 187.30,53.96 187.60,58.83 187.90,58.24 188.20,52.92 188.50,57.04 188.80,71.69 189.10,76.59 189.40,75.99 189.70,88.84 190.00,88.61 190.30,98.61 190.60,98.99 190.90,105.74 191.20,107.40 191.50,99.24 191.80,100.84 192.10,91.70 192.40,93.17 192.70,87.53 193.00,79.46 193.30,98.19 193.60,83.59 193.90,82.70 194.20,91.70 194.50,94.79 194.80,95.60 195.10,93.76 195.40,93.83 195.70,93.58 196.00,89.72 196.30,77.40 196.60,90.51 196.90,79.08 197.20,65.74 197.50,78.84 197.80,70.92 198.10,71.41 198.40,80.30 198.70,64.90 199.00,63.48 199.30,60.53 199.60,66.36 199.90,68.18 200.20,65.73 200.50,63.55 200.80,49.44 201.10,62.31 201.40,66.11 201.70,56.04 202.00,55.01 202.30,51.36 202.60,57.68 202.90,46.41 203.20,66.83 203.50,55.82 203.80,54.63 204.10,52.21 204.40,63.43 204.70,67.05 205.00,59.34 205.30,64.70 205.60,66.52 205.90,71.53 206.20,70.62 206.50,75.32 206.80,61.19 207.10,84.44 207.40,71.21 207.70,70.64 208.00,74.75 208.30,85.32 208.60,90.53 208.90,102.44 209.20,99.15 209.50,90.69 209.80,96.11 210.10,98.45 210.40,100.89 210.70,106.22 211.00,107.20 211.30,118.17 211.60,117.41 211.90,121.37 212.20,118.48 212.50,113.18 212.80,117.76 213.10,113.00 213.40,121.23 213.70,116.75 214.00,104.85 214.30,101.09 214.60,98.47 214.90,95.52 215.20,98.01 215.50,86.62 215.80,85.66 216.10,77.25 216.40,74.85 216.70,80.18 217.00,70.17 217.30,78.41 217.60,63.84 217.90,63.33 218.20,60.39 218.50,58.92 218.80,63.19 219.10,46.39 219.40,47.86 219.70,46.08 220.00,62.50 220.30,55.40 220.60,55.90 220.90,56.54 221.20,43.87 221.50,59.55 221.80,56.45 222.10,58.09 222.40,57.42 222.70,56.99 223.00,57.69 223.30,55.29 223.60,57.67 223.90,62.92 224.20,47.99 224.50,64.78 224.80,64.17 225.10,55.23 225.40,64.23 225.70,63.53 226.00,59.54 226.30,71.63 226.60,64.07 226.90,62.86 227.20,57.27 227.50,75.50 227.80,65.93 228.10,66.91 228.40,64.98 228.70,76.74 229.00,66.88 229.30,75.53 229.60,73.80 229.90,74.09 230.20,73.28 230.50,76.11 230.80,71.61 231.10,64.70 231.40,64.60 231.70,78.45 232.00,67.68 232.30,81.46 232.60,86.65 232.90,72.48 233.20,83.40 233.50,84.41 233.80,81.29 234.10,77.69 234.40,86.71 234.70,95.48 235.00,89.63 235.30,91.55 235.60,93.44 235.90,94.76 236.20,97.11 236.50,107.03 236.80,94.18 237.10,90.99 237.40,104.20 237.70,99.05 238.00,100.24 238.30,97.11 238.60,104.00 238.90,103.88 239.20,109.19 239.50,106.26 239.80,102.06 240.10,112.73 240.40,110.24 240.70,101.55 241.00,109.78 241.30,115.74 241.60,112.02 241.90,111.11 242.20,116.15 242.50,110.37 242.80,110.51 243.10,117.07 243.40,114.05 243.70,112.15 244.00,116.83 244.30,117.42 244.60,121.23 244.90,122.02 245.20,117.19 245.50,116.09 245.80,111.14 246.10,116.14 246.40,112.93 246.70,118.06 247.00,117.33 247.30,116.02 247.60,112.29 247.90,113.50 248.20,118.18 248.50,118.46 248.80,107.89 249.10,99.59 249.40,111.22 249.70,101.05 250.00,106.54 250.30,107.07 250.60,110.09 250.90,102.27 251.20,101.38 251.50,98.50 251.80,100.72 252.10,93.88 252.40,99.42 252.70,97.44 253.00,99.92 253.30,92.71 253.60,93.69 253.90,91.97 254.20,89.91 254.50,85.27 254.80,85.41 255.10,86.34 255.40,86.64 255.70,87.32 256.00,80.18 256.30,81.99 256.60,81.98 256.90,81.59 257.20,77.25 257.50,74.54 257.80,69.85 258.10,68.67 258.40,65.20 258.70,56.45 259.00,57.89 259.30,48.38 259.60,57.70 259.90,56.75 260.20,49.36 260.50,49.85 260.80,47.99 261.10,44.44 261.40,50.05 261.70,41.11 262.00,41.51 262.30,38.05 262.60,45.13 262.90,27.70 263.20,35.28 263.50,28.91 263.80,31.98 264.10,31.25 264.40,39.56 264.70,31.31 265.00,31.99 265.30,35.61 265.60,32.91 265.90,33.06 266.20,46.21 266.50,35.07 266.80,34.53 267.10,45.79 267.40,39.38 267.70,44.85 268.00,30.84 268.30,37.91 268.60,42.10 268.90,40.92 269.20,42.80 269.50,46.69 269.80,43.39 270.10,46.31 270.40,44.64 270.70,36.74 271.00,41.99 271.30,48.21 271.60,36.12 271.90,44.40 272.20,45.10 272.50,49.19 272.80,32.67 273.10,55.03 273.40,33.59 273.70,42.47 274.00,55.70 274.30,35.12 274.60,55.79 274.90,44.70 275.20,54.26 275.50,51.70 275.80,44.39 276.10,39.14 276.40,41.96 276.70,36.44 277.00,36.07 277.30,46.31 277.60,35.92 277.90,46.43 278.20,44.07 278.50,43.82 278.80,38.75 279.10,37.73 279.40,49.53 279.70,39.57 280.00,41.88 280.30,44.29 280.60,49.33 280.90,56.90 281.20,56.93 281.50,50.32 281.80,49.76 282.10,49.81 282.40,44.94 282.70,45.09 283.00,36.46 283.30,49.69 283.60,43.76 283.90,48.94 284.20,59.72 284.50,51.93 284.80,53.71 285.10,52.27 285.40,44.13 285.70,43.73 286.00,39.20 286.30,44.41 286.60,48.77 286.90,51.93 287.20,51.37 287.50,46.19 287.80,41.79 288.10,48.69 288.40,50.34 288.70,37.29 289.00,49.30 289.30,40.67 289.60,46.40 289.90,48.32 290.20,43.57 290.50,46.38 290.80,49.42 291.10,43.70 291.40,53.45 291.70,53.39 292.00,52.83 292.30,43.73 292.60,48.73 292.90,48.06 293.20,50.66 293.50,54.39 293.80,47.13 294.10,50.38 294.40,55.04 294.70,48.52 295.00,54.60 295.30,50.44 295.60,42.53 295.90,50.49 296.20,51.62 296.50,48.48 296.80,61.95 297.10,48.81 297.40,42.69" fill="none" stroke="#078628" stroke-width="1.0" stroke-linejoin="round" />
</g>
<g clip-path="url(#cBL)">
<polyline points="31.00,197.45 31.30,201.92 31.60,184.79 31.90,183.97 32.20,194.20 32.50,205.46 32.80,194.65 33.10,181.87 33.40,185.09 33.70,190.99 34.00,199.18 34.30,191.39 34.60,188.55 34.90,189.67 35.20,192.92 35.50,185.52 35.80,191.60 36.10,193.77 36.40,204.94 36.70,191.19 37.00,199.52 37.30,183.34 37.60,198.68 37.90,193.05 38.20,187.39 38.50,191.58 38.80,199.12 39.10,189.20 39.40,200.18 39.70,204.22 40.00,205.06 40.30,205.06 40.60,181.62 40.90,194.73 41.20,186.45 41.50,199.68 41.80,192.62 42.10,193.87 42.40,195.82 42.70,187.28 43.00,192.90 43.30,186.29 43.60,209.07 43.90,188.47 44.20,192.33 44.50,177.89 44.80,180.25 45.10,185.46 45.40,198.76 45.70,198.57 46.00,194.62 46.30,187.14 46.60,207.41 46.90,184.06 47.20,185.46 47.50,196.38 47.80,184.36 48.10,194.64 48.40,200.38 48.70,191.96 49.00,195.85 49.30,192.88 49.60,187.10 49.90,172.98 50.20,182.70 50.50,192.59 50.80,179.30 51.10,188.10 51.40,194.39 51.70,203.60 52.00,181.61 52.30,188.45 52.60,194.62 52.90,197.09 53.20,181.57 53.50,208.01 53.80,186.20 54.10,201.76 54.40,191.27 54.70,196.26 55.00,206.56 55.30,198.76 55.60,194.05 55.90,184.81 56.20,187.68 56.50,181.40 56.80,209.56 57.10,180.39 57.40,173.50 57.70,206.57 58.00,203.60 58.30,190.23 58.60,200.05 58.90,186.48 59.20,188.52 59.50,197.36 59.80,196.50 60.10,189.55 60.40,206.59 60.70,199.36 61.00,194.50 61.30,183.74 61.60,194.53 61.90,190.85 62.20,192.84 62.50,199.99 62.80,188.83 63.10,195.68 63.40,200.01 63.70,196.44 64.00,212.17 64.30,179.50 64.60,193.13 64.90,184.09 65.20,193.13 65.50,212.41 65.80,180.52 66.10,191.39 66.40,199.02 66.70,194.52 67.00,201.14 67.30,181.35 67.60,201.65 67.90,186.22 68.20,184.16 68.50,198.43 68.80,197.73 69.10,188.14 69.40,187.46 69.70,192.40 70.00,193.93 70.30,192.68 70.60,186.01 70.90,175.69 71.20,204.48 71.50,195.49 71.80,184.33 72.10,181.77 72.40,188.71 72.70,190.93 73.00,177.46 73.30,205.23 73.60,197.60 73.90,191.75 74.20,197.04 74.50,196.12 74.80,202.64 75.10,195.56 75.40,204.23 75.70,206.46 76.00,192.00 76.30,190.93 76.60,187.61 76.90,192.69 77.20,188.88 77.50,194.61 77.80,196.92 78.10,198.74 78.40,185.67 78.70,202.98 79.00,192.25 79.30,193.81 79.60,190.74 79.90,179.33 80.20,196.69 80.50,181.15 80.80,203.26 81.10,195.11 81.40,206.75 81.70,199.81 82.00,200.23 82.30,205.56 82.60,194.59 82.90,206.64 83.20,193.99 83.50,196.94 83.80,189.88 84.10,199.14 84.40,200.12 84.70,191.27 85.00,185.42 85.30,194.86 85.60,198.31 85.90,194.05 86.20,188.12 86.50,190.05 86.80,193.43 87.10,178.56 87.40,191.27 87.70,205.56 88.00,186.57 88.30,194.04 88.60,207.15 88.90,200.44 89.20,201.87 89.50,194.73 89.80,186.97 90.10,211.09 90.40,197.80 90.70,197.42 91.00,206.39 91.30,201.08 91.60,196.37 91.90,189.21 92.20,195.46 92.50,196.04 92.80,193.31 93.10,192.68 93.40,192.39 93.70,198.39 94.00,195.98 94.30,202.72 94.60,207.00 94.90,203.22 95.20,201.94 95.50,211.99 95.80,206.93 96.10,194.30 96.40,199.53 96.70,205.71 97.00,199.61 97.30,210.63 97.60,196.01 97.90,195.95 98.20,214.70 98.50,213.13 98.80,200.54 99.10,211.80 99.40,220.54 99.70,206.24 100.00,206.68 100.30,207.41 100.60,209.75 100.90,206.00 101.20,214.64 101.50,209.57 101.80,219.81 102.10,234.07 102.40,214.28 102.70,227.12 103.00,229.41 103.30,207.93 103.60,223.93 103.90,223.75 104.20,222.24 104.50,230.23 104.80,222.73 105.10,228.55 105.40,224.23 105.70,226.50 106.00,222.74 106.30,244.03 106.60,228.83 106.90,222.14 107.20,243.61 107.50,241.34 107.80,229.46 108.10,226.61 108.40,226.35 108.70,240.20 109.00,229.77 109.30,227.42 109.60,238.40 109.90,231.06 110.20,232.84 110.50,246.83 110.80,239.75 111.10,242.53 111.40,236.73 111.70,242.58 112.00,232.45 112.30,240.12 112.60,240.57 112.90,230.42 113.20,224.30 113.50,236.69 113.80,232.06 114.10,236.95 114.40,228.52 114.70,236.17 115.00,239.02 115.30,248.38 115.60,244.45 115.90,234.74 116.20,241.64 116.50,227.10 116.80,239.12 117.10,231.65 117.40,239.48 117.70,232.27 118.00,228.03 118.30,224.37 118.60,237.52 118.90,228.93 119.20,233.08 119.50,231.12 119.80,213.41 120.10,231.24 120.40,224.18 120.70,229.07 121.00,229.32 121.30,212.95 121.60,222.53 121.90,223.62 122.20,226.04 122.50,229.18 122.80,217.37 123.10,219.80 123.40,225.01 123.70,207.48 124.00,232.16 124.30,212.26 124.60,227.14 124.90,218.43 125.20,229.71 125.50,223.26 125.80,215.22 126.10,203.13 126.40,215.12 126.70,215.87 127.00,216.83 127.30,203.53 127.60,205.95 127.90,205.66 128.20,212.63 128.50,203.74 128.80,208.56 129.10,215.59 129.40,205.13 129.70,217.54 130.00,209.21 130.30,204.57 130.60,214.02 130.90,208.94 131.20,202.44 131.50,199.53 131.80,203.07 132.10,205.47 132.40,211.05 132.70,203.72 133.00,196.18 133.30,189.96 133.60,201.83 133.90,202.34 134.20,207.66 134.50,193.77 134.80,186.97 135.10,203.60 135.40,194.81 135.70,185.65 136.00,208.68 136.30,202.08 136.60,195.04 136.90,196.57 137.20,187.88 137.50,201.92 137.80,189.95 138.10,189.56 138.40,190.58 138.70,183.40 139.00,200.98 139.30,206.00 139.60,198.29 139.90,174.86 140.20,189.01 140.50,186.01 140.80,194.09 141.10,173.14 141.40,172.79 141.70,186.49 142.00,198.09 142.30,188.17 142.60,207.57 142.90,182.15 143.20,189.14 143.50,187.30 143.80,181.38 144.10,197.06 144.40,176.73 144.70,178.63 145.00,184.03 145.30,182.78 145.60,195.71 145.90,181.78 146.20,189.95 146.50,181.69 146.80,195.73 147.10,185.36 147.40,189.08 147.70,175.41 148.00,195.42 148.30,186.36 148.60,199.58 148.90,198.08 149.20,199.75 149.50,205.40 149.80,201.35 150.10,193.88 150.40,202.66 150.70,204.18 151.00,194.60 151.30,206.53 151.60,212.03 151.90,203.28 152.20,202.05 152.50,204.09 152.80,208.10 153.10,196.53 153.40,206.41 153.70,194.43 154.00,202.83 154.30,202.38 154.60,189.69 154.90,202.64 155.20,199.79 155.50,187.29 155.80,196.04 156.10,195.26 156.40,193.87 156.70,203.24 157.00,195.39 157.30,201.57 157.60,194.21 157.90,200.26 158.20,215.00 158.50,205.74 158.80,192.68 159.10,197.31 159.40,203.22 159.70,193.44 160.00,211.71 160.30,204.78 160.60,204.65 160.90,205.55 161.20,200.57 161.50,197.48 161.80,189.26 162.10,194.33 162.40,207.10 162.70,210.22 163.00,204.34 163.30,193.10 163.60,203.41 163.90,206.03 164.20,196.98 164.50,215.29 164.80,198.28 165.10,206.05 165.40,198.70 165.70,212.50 166.00,197.76 166.30,200.37 166.60,214.27 166.90,198.14 167.20,203.18 167.50,210.71 167.80,209.56 168.10,195.24 168.40,211.49 168.70,205.48 169.00,215.96 169.30,195.85 169.60,213.08 169.90,210.72 170.20,206.44 170.50,207.68 170.80,214.54 171.10,209.04 171.40,212.78 171.70,211.68 172.00,218.84 172.30,223.58 172.60,211.52 172.90,222.64 173.20,225.77 173.50,233.99 173.80,222.88 174.10,234.50 174.40,223.74 174.70,227.79 175.00,224.97 175.30,224.00 175.60,218.93 175.90,213.53 176.20,228.09 176.50,226.78 176.80,215.07 177.10,213.31 177.40,211.51 177.70,202.02 178.00,201.99 178.30,211.50 178.60,214.01 178.90,203.78 179.20,196.86 179.50,194.17 179.80,196.18 180.10,204.99 180.40,198.36 180.70,184.89 181.00,185.42 181.30,197.28 181.60,196.67 181.90,208.29 182.20,205.29 182.50,194.61 182.80,187.13 183.10,194.01 183.40,182.64 183.70,185.94 184.00,199.47 184.30,195.86 184.60,198.05 184.90,202.90 185.20,187.34 185.50,198.28 185.80,193.54 186.10,196.55 186.40,196.98 186.70,200.44 187.00,187.04 187.30,188.41 187.60,200.40 187.90,204.36 188.20,198.53 188.50,202.37 188.80,194.49 189.10,212.21 189.40,210.77 189.70,219.91 190.00,208.84 190.30,212.97 190.60,216.10 190.90,226.99 191.20,223.50 191.50,224.31 191.80,212.38 192.10,218.59 192.40,212.90 192.70,220.20 193.00,225.85 193.30,218.83 193.60,210.66 193.90,229.39 194.20,206.44 194.50,221.94 194.80,218.92 195.10,211.48 195.40,218.20 195.70,200.78 196.00,203.66 196.30,204.65 196.60,208.52 196.90,203.99 197.20,216.15 197.50,201.12 197.80,201.39 198.10,193.92 198.40,204.74 198.70,206.15 199.00,194.81 199.30,191.36 199.60,190.48 199.90,207.95 200.20,205.36 200.50,201.87 200.80,205.15 201.10,203.29 201.40,203.08 201.70,188.87 202.00,203.50 202.30,204.78 202.60,207.74 202.90,206.58 203.20,196.06 203.50,203.64 203.80,193.28 204.10,213.94 204.40,195.83 204.70,211.17 205.00,202.07 205.30,203.00 205.60,203.60 205.90,208.60 206.20,214.57 206.50,220.76 206.80,212.18 207.10,221.32 207.40,222.92 207.70,232.56 208.00,215.88 208.30,223.58 208.60,227.70 208.90,225.45 209.20,230.24 209.50,222.90 209.80,226.51 210.10,226.17 210.40,227.59 210.70,227.38 211.00,234.28 211.30,227.19 211.60,232.42 211.90,241.37 212.20,226.54 212.50,230.93 212.80,236.41 213.10,232.11 213.40,233.29 213.70,256.29 214.00,245.03 214.30,239.54 214.60,237.98 214.90,231.95 215.20,235.31 215.50,225.70 215.80,249.19 216.10,240.27 216.40,251.82 216.70,244.17 217.00,227.70 217.30,259.61 217.60,248.09 217.90,251.05 218.20,239.07 218.50,238.90 218.80,241.91 219.10,258.00 219.40,232.85 219.70,234.24 220.00,247.17 220.30,226.55 220.60,254.74 220.90,232.90 221.20,251.93 221.50,240.79 221.80,238.94 222.10,232.25 222.40,253.42 222.70,239.06 223.00,230.12 223.30,246.19 223.60,239.63 223.90,244.85 224.20,237.09 224.50,243.24 224.80,243.77 225.10,239.84 225.40,225.52 225.70,242.23 226.00,248.74 226.30,240.29 226.60,243.57 226.90,241.62 227.20,231.95 227.50,242.38 227.80,230.97 228.10,223.94 228.40,221.10 228.70,239.16 229.00,235.73 229.30,234.02 229.60,223.47 229.90,212.75 230.20,231.91 230.50,224.25 230.80,219.44 231.10,218.52 231.40,217.86 231.70,208.00 232.00,224.20 232.30,223.26 232.60,222.92 232.90,212.99 233.20,205.40 233.50,203.09 233.80,208.84 234.10,221.37 234.40,214.29 234.70,206.64 235.00,208.17 235.30,209.61 235.60,203.56 235.90,203.82 236.20,202.80 236.50,196.48 236.80,191.74 237.10,194.81 237.40,205.62 237.70,186.06 238.00,192.97 238.30,192.91 238.60,195.87 238.90,192.33 239.20,200.74 239.50,192.52 239.80,194.89 240.10,199.77 240.40,184.59 240.70,202.16 241.00,201.58 241.30,184.66 241.60,193.24 241.90,188.37 242.20,190.91 242.50,199.07 242.80,179.53 243.10,199.22 243.40,196.02 243.70,192.66 244.00,208.93 244.30,188.68 244.60,180.98 244.90,194.89 245.20,193.06 245.50,187.27 245.80,176.02 246.10,177.79 246.40,204.31 246.70,180.70 247.00,202.49 247.30,198.26 247.60,175.61 247.90,193.60 248.20,196.99 248.50,200.53 248.80,202.21 249.10,201.70 249.40,191.97 249.70,190.43 250.00,190.80 250.30,196.26 250.60,185.32 250.90,184.34 251.20,209.62 251.50,199.58 251.80,200.44 252.10,190.70 252.40,186.05 252.70,189.27 253.00,186.52 253.30,187.82 253.60,180.81 253.90,197.19 254.20,195.10 254.50,198.52 254.80,193.12 255.10,187.27 255.40,207.87 255.70,199.72 256.00,196.94 256.30,199.33 256.60,190.48 256.90,198.24 257.20,187.16 257.50,200.37 257.80,199.84 258.10,199.12 258.40,195.81 258.70,193.88 259.00,194.60 259.30,198.33 259.60,189.55 259.90,198.28 260.20,198.77 260.50,183.50 260.80,180.15 261.10,195.19 261.40,190.41 261.70,186.92 262.00,183.63 262.30,184.64 262.60,180.61 262.90,190.29 263.20,181.31 263.50,180.10 263.80,192.00 264.10,204.28 264.40,202.20 264.70,191.65 265.00,195.80 265.30,191.10 265.60,192.01 265.90,187.12 266.20,193.01 266.50,185.03 266.80,187.40 267.10,191.75 267.40,192.33 267.70,208.19 268.00,186.36 268.30,184.63 268.60,197.72 268.90,197.20 269.20,198.01 269.50,191.98 269.80,181.61 270.10,190.24 270.40,183.37 270.70,192.36 271.00,206.00 271.30,190.53 271.60,193.66 271.90,201.02 272.20,182.92 272.50,198.57 272.80,190.32 273.10,187.74 273.40,190.15 273.70,185.46 274.00,199.28 274.30,193.60 274.60,189.40 274.90,196.51 275.20,181.67 275.50,175.29 275.80,202.72 276.10,188.54 276.40,198.51 276.70,186.10 277.00,179.25 277.30,184.68 277.60,199.70 277.90,195.64 278.20,188.13 278.50,197.93 278.80,190.66 279.10,194.14 279.40,184.80 279.70,175.83 280.00,193.48 280.30,197.87 280.60,186.22 280.90,204.72 281.20,195.04 281.50,205.96 281.80,197.92 282.10,202.17 282.40,191.25 282.70,182.29 283.00,209.49 283.30,202.83 283.60,198.34 283.90,186.49 284.20,199.87 284.50,185.75 284.80,197.19 285.10,200.06 285.40,197.16 285.70,186.23 286.00,197.96 286.30,194.87 286.60,197.55 286.90,202.74 287.20,188.89 287.50,187.61 287.80,178.52 288.10,204.53 288.40,187.99 288.70,203.02 289.00,196.48 289.30,202.39 289.60,195.61 289.90,197.32 290.20,192.32 290.50,197.23 290.80,186.58 291.10,201.33 291.40,182.18 291.70,190.48 292.00,191.42 292.30,194.83 292.60,193.42 292.90,187.37 293.20,194.69 293.50,178.07 293.80,189.29 294.10,193.80 294.40,189.47 294.70,201.10 295.00,193.35 295.30,197.68 295.60,186.60 295.90,200.88 296.20,199.60 296.50,184.13 296.80,204.21 297.10,186.68 297.40,186.56" fill="none" stroke="#000" stroke-width="1.0" stroke-linejoin="round" />
<polyline points="31.00,194.93 31.30,191.22 31.60,204.90 31.90,194.99 32.20,193.16 32.50,194.61 32.80,189.11 33.10,187.93 33.40,195.16 33.70,189.53 34.00,196.79 34.30,190.89 34.60,181.82 34.90,184.54 35.20,187.19 35.50,180.65 35.80,191.71 36.10,190.50 36.40,197.60 36.70,187.20 37.00,190.87 37.30,195.54 37.60,196.51 37.90,186.33 38.20,201.05 38.50,188.64 38.80,199.19 39.10,190.56 39.40,189.87 39.70,185.10 40.00,191.58 40.30,205.20 40.60,188.65 40.90,201.23 41.20,200.04 41.50,190.11 41.80,198.83 42.10,200.42 42.40,190.64 42.70,189.34 43.00,198.89 43.30,194.49 43.60,204.74 43.90,194.97 44.20,185.80 44.50,192.20 44.80,185.64 45.10,196.86 45.40,196.59 45.70,190.14 46.00,187.40 46.30,197.73 46.60,190.36 46.90,199.65 47.20,186.89 47.50,190.99 47.80,189.44 48.10,186.60 48.40,205.48 48.70,202.37 49.00,189.00 49.30,197.25 49.60,182.23 49.90,199.94 50.20,198.98 50.50,190.71 50.80,190.66 51.10,194.15 51.40,195.38 51.70,190.65 52.00,187.83 52.30,191.26 52.60,190.29 52.90,197.33 53.20,193.31 53.50,194.19 53.80,183.19 54.10,190.62 54.40,190.58 54.70,189.86 55.00,192.20 55.30,191.14 55.60,184.08 55.90,198.37 56.20,198.26 56.50,189.96 56.80,196.59 57.10,187.57 57.40,185.68 57.70,191.82 58.00,202.03 58.30,192.44 58.60,184.18 58.90,194.46 59.20,189.77 59.50,188.94 59.80,195.17 60.10,183.02 60.40,182.78 60.70,184.75 61.00,199.55 61.30,193.86 61.60,189.80 61.90,189.40 62.20,197.22 62.50,200.69 62.80,189.25 63.10,195.03 63.40,206.19 63.70,197.09 64.00,191.71 64.30,195.61 64.60,194.31 64.90,197.59 65.20,195.80 65.50,190.90 65.80,193.12 66.10,196.02 66.40,189.88 66.70,194.32 67.00,188.62 67.30,201.13 67.60,203.02 67.90,188.97 68.20,198.97 68.50,195.05 68.80,194.63 69.10,192.67 69.40,195.71 69.70,200.01 70.00,187.11 70.30,200.13 70.60,192.74 70.90,187.95 71.20,194.04 71.50,198.04 71.80,193.87 72.10,196.12 72.40,192.49 72.70,191.36 73.00,200.29 73.30,189.12 73.60,200.32 73.90,196.53 74.20,193.00 74.50,193.33 74.80,192.99 75.10,194.49 75.40,194.45 75.70,193.93 76.00,183.60 76.30,182.63 76.60,196.80 76.90,191.23 77.20,191.60 77.50,193.94 77.80,188.58 78.10,203.87 78.40,194.98 78.70,194.02 79.00,188.98 79.30,200.16 79.60,199.27 79.90,203.68 80.20,200.31 80.50,190.51 80.80,187.95 81.10,203.09 81.40,191.39 81.70,194.69 82.00,194.44 82.30,198.89 82.60,199.86 82.90,191.97 83.20,194.90 83.50,190.04 83.80,202.64 84.10,199.74 84.40,193.07 84.70,206.97 85.00,202.83 85.30,198.93 85.60,202.43 85.90,202.47 86.20,207.28 86.50,210.06 86.80,209.43 87.10,215.58 87.40,208.34 87.70,217.66 88.00,223.22 88.30,226.40 88.60,228.28 88.90,225.29 89.20,225.63 89.50,232.12 89.80,242.68 90.10,238.87 90.40,237.89 90.70,236.98 91.00,245.72 91.30,244.48 91.60,249.55 91.90,249.35 92.20,237.29 92.50,249.86 92.80,256.45 93.10,248.54 93.40,244.59 93.70,244.75 94.00,243.58 94.30,266.92 94.60,261.82 94.90,248.21 95.20,261.72 95.50,245.01 95.80,248.57 96.10,247.09 96.40,251.01 96.70,257.02 97.00,266.94 97.30,257.68 97.60,251.53 97.90,253.51 98.20,250.64 98.50,255.11 98.80,245.78 99.10,254.25 99.40,255.84 99.70,259.65 100.00,245.90 100.30,255.65 100.60,254.58 100.90,246.10 101.20,237.07 101.50,248.16 101.80,259.29 102.10,250.34 102.40,269.95 102.70,256.95 103.00,247.00 103.30,251.86 103.60,256.25 103.90,256.44 104.20,250.88 104.50,256.30 104.80,270.19 105.10,259.92 105.40,254.13 105.70,249.20 106.00,239.05 106.30,254.28 106.60,249.79 106.90,252.61 107.20,248.75 107.50,259.03 107.80,261.40 108.10,247.67 108.40,242.48 108.70,255.60 109.00,263.92 109.30,256.41 109.60,256.99 109.90,242.42 110.20,249.00 110.50,257.78 110.80,256.13 111.10,253.20 111.40,257.71 111.70,259.89 112.00,253.94 112.30,247.77 112.60,242.37 112.90,254.86 113.20,251.94 113.50,251.88 113.80,261.84 114.10,248.18 114.40,251.16 114.70,258.30 115.00,246.40 115.30,236.64 115.60,249.01 115.90,259.52 116.20,248.59 116.50,251.35 116.80,238.92 117.10,262.45 117.40,239.75 117.70,248.10 118.00,251.86 118.30,268.25 118.60,254.11 118.90,247.69 119.20,241.72 119.50,250.85 119.80,243.76 120.10,248.45 120.40,253.60 120.70,262.63 121.00,244.71 121.30,263.75 121.60,238.26 121.90,268.17 122.20,248.23 122.50,250.36 122.80,249.57 123.10,255.01 123.40,252.80 123.70,250.68 124.00,247.85 124.30,249.01 124.60,253.67 124.90,249.10 125.20,247.92 125.50,242.12 125.80,253.42 126.10,256.99 126.40,245.36 126.70,260.89 127.00,252.93 127.30,254.01 127.60,240.12 127.90,257.97 128.20,262.88 128.50,268.10 128.80,248.52 129.10,252.77 129.40,258.91 129.70,257.30 130.00,248.33 130.30,253.52 130.60,260.37 130.90,256.97 131.20,252.07 131.50,260.33 131.80,240.74 132.10,255.31 132.40,246.73 132.70,248.82 133.00,257.62 133.30,264.59 133.60,254.54 133.90,251.87 134.20,263.33 134.50,256.34 134.80,233.47 135.10,245.38 135.40,244.26 135.70,243.49 136.00,236.64 136.30,251.97 136.60,247.72 136.90,258.56 137.20,242.93 137.50,245.17 137.80,238.15 138.10,250.20 138.40,251.20 138.70,253.36 139.00,247.93 139.30,235.93 139.60,247.75 139.90,232.27 140.20,233.47 140.50,235.54 140.80,250.42 141.10,230.17 141.40,227.31 141.70,234.92 142.00,240.58 142.30,235.38 142.60,234.39 142.90,223.89 143.20,226.11 143.50,236.73 143.80,227.73 144.10,221.67 144.40,222.90 144.70,233.77 145.00,235.54 145.30,225.69 145.60,216.38 145.90,232.72 146.20,215.96 146.50,220.29 146.80,221.66 147.10,217.89 147.40,215.90 147.70,227.42 148.00,217.66 148.30,206.19 148.60,212.82 148.90,227.51 149.20,217.32 149.50,211.60 149.80,227.33 150.10,224.84 150.40,222.14 150.70,227.27 151.00,218.85 151.30,222.81 151.60,225.50 151.90,215.47 152.20,229.74 152.50,210.17 152.80,235.30 153.10,218.18 153.40,220.04 153.70,206.31 154.00,222.15 154.30,208.19 154.60,218.50 154.90,213.95 155.20,207.12 155.50,228.69 155.80,215.79 156.10,210.46 156.40,212.04 156.70,217.96 157.00,216.04 157.30,222.94 157.60,211.55 157.90,218.32 158.20,212.82 158.50,211.34 158.80,224.11 159.10,211.05 159.40,204.65 159.70,223.74 160.00,214.42 160.30,222.92 160.60,222.25 160.90,221.74 161.20,217.87 161.50,229.63 161.80,207.89 162.10,225.73 162.40,214.62 162.70,217.87 163.00,211.61 163.30,221.82 163.60,218.34 163.90,210.37 164.20,214.11 164.50,217.28 164.80,211.81 165.10,231.36 165.40,217.57 165.70,209.81 166.00,221.49 166.30,215.46 166.60,209.17 166.90,210.72 167.20,200.55 167.50,219.97 167.80,226.31 168.10,213.35 168.40,207.57 168.70,200.13 169.00,204.39 169.30,214.48 169.60,209.39 169.90,213.44 170.20,209.03 170.50,216.15 170.80,217.23 171.10,221.99 171.40,222.87 171.70,225.19 172.00,219.44 172.30,224.92 172.60,219.99 172.90,226.65 173.20,231.29 173.50,235.77 173.80,225.41 174.10,229.41 174.40,233.55 174.70,230.67 175.00,237.87 175.30,239.79 175.60,238.03 175.90,253.27 176.20,242.56 176.50,247.81 176.80,237.76 177.10,253.71 177.40,252.19 177.70,248.71 178.00,232.38 178.30,241.48 178.60,234.87 178.90,238.61 179.20,233.02 179.50,226.87 179.80,224.34 180.10,233.16 180.40,229.88 180.70,207.72 181.00,214.14 181.30,219.41 181.60,209.32 181.90,212.24 182.20,205.00 182.50,217.48 182.80,208.09 183.10,198.59 183.40,208.84 183.70,200.37 184.00,206.39 184.30,189.91 184.60,182.58 184.90,201.79 185.20,196.76 185.50,184.09 185.80,179.98 186.10,200.09 186.40,200.85 186.70,195.50 187.00,198.91 187.30,204.03 187.60,194.54 187.90,213.73 188.20,198.74 188.50,210.82 188.80,213.70 189.10,213.50 189.40,214.81 189.70,228.20 190.00,215.93 190.30,228.88 190.60,241.69 190.90,230.50 191.20,229.14 191.50,238.31 191.80,230.54 192.10,242.99 192.40,243.91 192.70,242.77 193.00,239.40 193.30,245.15 193.60,238.98 193.90,229.50 194.20,241.29 194.50,223.72 194.80,237.14 195.10,221.35 195.40,216.41 195.70,217.72 196.00,229.35 196.30,218.10 196.60,215.10 196.90,201.02 197.20,211.37 197.50,207.28 197.80,204.94 198.10,199.71 198.40,191.31 198.70,212.49 199.00,192.32 199.30,204.37 199.60,203.28 199.90,198.99 200.20,197.88 200.50,201.36 200.80,191.89 201.10,193.31 201.40,196.02 201.70,193.93 202.00,188.50 202.30,168.65 202.60,189.20 202.90,177.05 203.20,198.67 203.50,198.69 203.80,188.24 204.10,188.30 204.40,168.08 204.70,187.15 205.00,183.09 205.30,208.56 205.60,181.29 205.90,214.90 206.20,194.73 206.50,179.94 206.80,214.94 207.10,198.96 207.40,205.39 207.70,213.03 208.00,192.26 208.30,203.63 208.60,210.98 208.90,222.67 209.20,213.08 209.50,221.66 209.80,204.60 210.10,225.75 210.40,216.09 210.70,223.13 211.00,229.18 211.30,236.71 211.60,224.36 211.90,234.76 212.20,229.27 212.50,238.36 212.80,229.76 213.10,247.26 213.40,226.17 213.70,226.95 214.00,249.25 214.30,231.48 214.60,245.43 214.90,246.84 215.20,224.43 215.50,238.09 215.80,236.66 216.10,240.31 216.40,227.74 216.70,243.77 217.00,244.24 217.30,232.40 217.60,243.15 217.90,245.27 218.20,227.86 218.50,243.20 218.80,252.35 219.10,251.18 219.40,234.88 219.70,238.10 220.00,245.45 220.30,248.80 220.60,252.35 220.90,245.67 221.20,251.97 221.50,238.75 221.80,260.96 222.10,242.79 222.40,235.69 222.70,239.06 223.00,227.93 223.30,237.13 223.60,240.92 223.90,247.95 224.20,253.51 224.50,235.67 224.80,236.56 225.10,249.08 225.40,251.47 225.70,248.40 226.00,243.32 226.30,230.39 226.60,235.18 226.90,225.81 227.20,232.64 227.50,248.63 227.80,250.65 228.10,234.47 228.40,241.25 228.70,246.81 229.00,226.20 229.30,222.40 229.60,226.75 229.90,213.92 230.20,234.24 230.50,226.72 230.80,223.74 231.10,224.79 231.40,226.39 231.70,221.21 232.00,211.45 232.30,222.35 232.60,212.03 232.90,215.93 233.20,206.70 233.50,209.92 233.80,195.78 234.10,206.78 234.40,201.36 234.70,210.44 235.00,193.11 235.30,192.00 235.60,204.52 235.90,182.00 236.20,202.95 236.50,196.57 236.80,192.99 237.10,197.09 237.40,193.51 237.70,187.80 238.00,200.77 238.30,187.00 238.60,194.86 238.90,191.78 239.20,186.80 239.50,187.22 239.80,194.24 240.10,188.64 240.40,202.65 240.70,198.61 241.00,187.84 241.30,199.68 241.60,172.65 241.90,205.35 242.20,180.73 242.50,180.88 242.80,200.31 243.10,178.02 243.40,185.27 243.70,193.83 244.00,174.41 244.30,189.94 244.60,198.42 244.90,185.32 245.20,202.93 245.50,183.87 245.80,202.50 246.10,194.26 246.40,192.01 246.70,189.02 247.00,182.99 247.30,199.31 247.60,181.40 247.90,190.77 248.20,196.44 248.50,194.49 248.80,196.14 249.10,185.67 249.40,180.52 249.70,192.42 250.00,189.33 250.30,199.00 250.60,175.00 250.90,190.35 251.20,193.58 251.50,186.74 251.80,177.68 252.10,190.52 252.40,198.45 252.70,184.89 253.00,183.06 253.30,182.38 253.60,182.45 253.90,176.27 254.20,208.76 254.50,188.37 254.80,199.27 255.10,199.18 255.40,185.68 255.70,194.49 256.00,204.16 256.30,200.32 256.60,197.76 256.90,184.46 257.20,185.07 257.50,190.33 257.80,201.80 258.10,184.51 258.40,195.12 258.70,198.79 259.00,196.06 259.30,189.91 259.60,184.99 259.90,195.17 260.20,187.37 260.50,192.74 260.80,186.06 261.10,185.90 261.40,186.39 261.70,182.27 262.00,196.93 262.30,179.50 262.60,192.77 262.90,186.57 263.20,193.62 263.50,177.41 263.80,189.92 264.10,190.31 264.40,200.60 264.70,197.62 265.00,192.78 265.30,189.44 265.60,190.33 265.90,197.69 266.20,199.88 266.50,194.52 266.80,199.14 267.10,178.64 267.40,197.23 267.70,205.03 268.00,190.98 268.30,185.69 268.60,200.60 268.90,176.04 269.20,199.18 269.50,181.29 269.80,193.82 270.10,181.43 270.40,201.42 270.70,190.62 271.00,185.70 271.30,190.01 271.60,200.55 271.90,201.73 272.20,192.03 272.50,188.61 272.80,201.66 273.10,191.38 273.40,186.04 273.70,204.81 274.00,178.36 274.30,192.81 274.60,202.58 274.90,193.80 275.20,192.51 275.50,197.64 275.80,183.30 276.10,190.59 276.40,190.35 276.70,198.26 277.00,194.21 277.30,191.41 277.60,200.18 277.90,200.87 278.20,181.74 278.50,207.71 278.80,193.70 279.10,187.33 279.40,203.79 279.70,172.43 280.00,181.84 280.30,193.07 280.60,185.96 280.90,182.17 281.20,189.00 281.50,202.29 281.80,191.41 282.10,197.34 282.40,196.65 282.70,190.95 283.00,191.43 283.30,186.12 283.60,192.81 283.90,197.08 284.20,189.74 284.50,190.83 284.80,194.79 285.10,191.70 285.40,193.49 285.70,177.33 286.00,194.05 286.30,179.02 286.60,195.86 286.90,189.93 287.20,187.82 287.50,182.00 287.80,197.96 288.10,187.99 288.40,187.85 288.70,177.05 289.00,202.58 289.30,187.09 289.60,184.86 289.90,199.71 290.20,195.20 290.50,172.79 290.80,190.24 291.10,202.29 291.40,189.20 291.70,185.62 292.00,197.15 292.30,196.64 292.60,184.48 292.90,186.07 293.20,186.84 293.50,187.10 293.80,181.57 294.10,185.87 294.40,195.92 294.70,179.43 295.00,198.50 295.30,194.64 295.60,196.48 295.90,196.64 296.20,184.85 296.50,179.33 296.80,199.34 297.10,190.54 297.40,194.11" fill="none" stroke="#078628" stroke-width="1.0" stroke-linejoin="round" />
</g>
<g clip-path="url(#cTR)">
<polyline points="333.50,126.18 333.80,126.01 334.10,125.56 334.40,126.34 334.70,126.10 335.00,126.12 335.30,126.05 335.60,126.60 335.90,126.34 336.20,126.47 336.50,125.86 336.80,125.78 337.10,125.55 337.40,125.86 337.70,125.04 338.00,126.63 338.30,126.01 338.60,125.98 338.90,126.31 339.20,125.78 339.50,126.04 339.80,126.27 340.10,125.25 340.40,126.68 340.70,125.98 341.00,126.19 341.30,125.45 341.60,125.63 341.90,126.67 342.20,125.66 342.50,125.71 342.80,126.11 343.10,126.55 343.40,124.87 343.70,126.57 344.00,126.01 344.30,126.30 344.60,125.39 344.90,126.02 345.20,126.64 345.50,125.82 345.80,125.56 346.10,125.65 346.40,125.60 346.70,126.24 347.00,125.94 347.30,125.60 347.60,126.23 347.90,125.29 348.20,125.11 348.50,126.91 348.80,125.50 349.10,126.65 349.40,125.77 349.70,125.70 350.00,126.08 350.30,125.26 350.60,125.15 350.90,125.37 351.20,125.17 351.50,125.67 351.80,126.26 352.10,124.39 352.40,124.44 352.70,125.28 353.00,125.04 353.30,125.30 353.60,124.07 353.90,124.78 354.20,124.27 354.50,123.17 354.80,124.37 355.10,122.90 355.40,123.97 355.70,123.00 356.00,122.87 356.30,124.27 356.60,123.56 356.90,122.44 357.20,122.13 357.50,120.90 357.80,122.24 358.10,121.44 358.40,119.87 358.70,118.85 359.00,120.02 359.30,119.56 359.60,120.23 359.90,118.13 360.20,117.83 360.50,118.59 360.80,117.77 361.10,118.10 361.40,117.77 361.70,115.32 362.00,113.57 362.30,115.24 362.60,113.98 362.90,114.42 363.20,111.59 363.50,113.25 363.80,113.05 364.10,111.95 364.40,112.73 364.70,111.88 365.00,111.63 365.30,112.53 365.60,112.17 365.90,111.69 366.20,110.19 366.50,109.39 366.80,109.47 367.10,108.64 367.40,106.65 367.70,107.78 368.00,108.08 368.30,105.58 368.60,103.99 368.90,106.13 369.20,104.15 369.50,103.51 369.80,105.87 370.10,104.59 370.40,107.59 370.70,106.90 371.00,108.13 371.30,110.00 371.60,110.47 371.90,109.41 372.20,107.20 372.50,109.92 372.80,109.53 373.10,112.68 373.40,114.03 373.70,113.43 374.00,113.86 374.30,114.25 374.60,114.91 374.90,114.06 375.20,116.18 375.50,115.14 375.80,114.55 376.10,116.59 376.40,119.08 376.70,117.29 377.00,115.76 377.30,119.88 377.60,118.92 377.90,119.58 378.20,118.69 378.50,120.07 378.80,121.59 379.10,119.44 379.40,121.13 379.70,121.08 380.00,120.19 380.30,121.14 380.60,121.50 380.90,119.99 381.20,122.00 381.50,119.55 381.80,121.91 382.10,121.29 382.40,120.84 382.70,119.60 383.00,119.53 383.30,117.78 383.60,120.28 383.90,120.10 384.20,120.88 384.50,121.41 384.80,120.33 385.10,119.62 385.40,121.38 385.70,120.16 386.00,120.20 386.30,118.79 386.60,121.71 386.90,119.55 387.20,122.96 387.50,119.43 387.80,119.98 388.10,120.77 388.40,119.82 388.70,118.91 389.00,119.37 389.30,119.84 389.60,120.65 389.90,122.27 390.20,121.85 390.50,121.34 390.80,121.91 391.10,118.03 391.40,119.97 391.70,119.99 392.00,119.31 392.30,121.19 392.60,119.68 392.90,119.05 393.20,121.53 393.50,119.50 393.80,119.96 394.10,118.29 394.40,121.31 394.70,120.15 395.00,121.88 395.30,122.74 395.60,120.77 395.90,119.39 396.20,118.79 396.50,121.83 396.80,119.41 397.10,120.42 397.40,119.86 397.70,116.66 398.00,119.62 398.30,119.58 398.60,119.57 398.90,119.08 399.20,119.50 399.50,117.85 399.80,119.85 400.10,118.34 400.40,119.08 400.70,120.86 401.00,118.91 401.30,117.20 401.60,118.87 401.90,116.43 402.20,118.37 402.50,119.83 402.80,116.57 403.10,117.60 403.40,116.56 403.70,117.77 404.00,117.85 404.30,117.54 404.60,116.84 404.90,114.65 405.20,115.77 405.50,116.18 405.80,117.59 406.10,113.83 406.40,117.58 406.70,115.06 407.00,113.70 407.30,117.51 407.60,115.91 407.90,114.10 408.20,115.45 408.50,115.70 408.80,112.93 409.10,116.20 409.40,113.31 409.70,115.25 410.00,113.32 410.30,111.91 410.60,113.03 410.90,113.02 411.20,113.71 411.50,111.31 411.80,112.04 412.10,113.59 412.40,112.59 412.70,112.29 413.00,113.39 413.30,111.04 413.60,115.12 413.90,111.53 414.20,112.81 414.50,112.02 414.80,113.36 415.10,111.34 415.40,110.50 415.70,111.40 416.00,111.46 416.30,110.10 416.60,112.47 416.90,110.44 417.20,110.82 417.50,110.31 417.80,109.59 418.10,107.64 418.40,109.48 418.70,106.51 419.00,106.70 419.30,107.83 419.60,106.80 419.90,103.81 420.20,104.34 420.50,103.15 420.80,105.27 421.10,102.92 421.40,102.95 421.70,101.61 422.00,101.38 422.30,103.76 422.60,102.56 422.90,104.79 423.20,105.00 423.50,106.06 423.80,105.81 424.10,108.99 424.40,103.59 424.70,102.39 425.00,101.99 425.30,101.21 425.60,97.15 425.90,91.37 426.20,88.82 426.50,83.76 426.60,71.20 427.20,71.20 428.20,98.00 429.20,71.20 429.40,71.20 430.40,86.00 431.40,71.20 432.40,71.20 433.40,80.00 434.40,71.20 434.85,71.20 435.65,81.26 436.45,71.20 437.30,71.20 438.30,79.00 439.30,71.20 439.00,71.20 440.00,86.00 441.00,71.20 443.40,71.20 444.40,93.00 445.40,71.20 445.30,71.20 446.30,88.00 447.30,71.20 447.70,71.20 448.70,87.00 449.70,71.20 450.60,71.20 450.80,71.70 451.10,73.84 451.40,76.85 451.70,75.39 452.00,75.01 452.30,74.39 452.60,81.99 452.90,80.36 453.20,79.98 453.50,79.94 453.80,76.95 454.10,85.57 454.40,83.15 454.70,87.24 455.00,93.80 455.30,88.25 455.60,90.05 455.90,94.79 456.20,91.90 456.50,94.03 456.80,90.88 457.10,92.75 457.40,91.60 457.70,100.65 458.00,102.44 458.30,98.26 458.60,100.20 458.90,100.42 459.20,109.04 459.50,106.10 459.80,104.01 460.10,107.05 460.40,109.54 460.70,104.62 461.00,109.51 461.30,110.12 461.60,109.48 461.90,111.80 462.20,113.29 462.50,111.60 462.80,111.58 463.10,114.57 463.40,113.92 463.70,115.01 464.00,117.98 464.30,115.72 464.60,115.17 464.90,113.44 465.20,115.98 465.50,116.07 465.80,116.50 466.10,116.53 466.40,116.84 466.70,116.29 467.00,116.26 467.30,116.94 467.60,115.37 467.90,115.11 468.20,115.20 468.50,116.70 468.80,114.46 469.10,116.17 469.40,116.63 469.70,117.33 470.00,115.84 470.30,116.89 470.60,116.61 470.90,115.68 471.20,116.14 471.50,115.60 471.80,114.25 472.10,114.91 472.40,114.00 472.70,117.06 473.00,114.29 473.30,113.57 473.60,112.35 473.90,113.80 474.20,114.00 474.50,113.36 474.80,111.44 475.10,111.59 475.40,111.28 475.70,112.54 476.00,111.07 476.30,111.43 476.60,113.30 476.90,108.04 477.20,109.62 477.50,109.41 477.80,106.73 478.10,109.97 478.40,107.47 478.70,107.95 479.00,107.78 479.30,108.68 479.60,104.67 479.90,104.16 480.20,102.48 480.50,101.99 480.80,106.92 481.10,102.36 481.40,99.55 481.70,103.35 482.00,104.74 482.30,99.34 482.60,100.46 482.90,97.53 483.20,95.90 483.50,98.62 483.80,96.32 484.10,95.71 484.40,97.11 484.70,97.03 485.00,95.20 485.30,97.11 485.60,92.93 485.90,92.72 486.20,94.16 486.50,95.83 486.80,94.70 487.10,92.04 487.40,89.82 487.70,86.42 488.00,90.72 487.50,86.29 488.05,82.00 488.35,82.00 488.90,86.29 488.30,88.82 488.60,94.00 488.90,90.88 489.20,88.17 489.50,94.58 489.80,93.78 490.10,93.30 490.40,95.16 490.70,95.49 491.00,96.61 491.30,93.47 491.60,97.32 491.90,98.67 492.20,96.24 492.50,101.40 492.80,99.39 493.10,96.56 493.40,103.62 493.70,100.56 494.00,101.83 494.30,101.89 494.60,106.25 494.90,103.31 495.20,102.49 495.50,103.08 495.80,105.79 496.10,106.31 496.40,104.52 496.70,107.73 497.00,105.45 497.30,107.28 497.60,108.31 497.90,108.35 498.20,108.77 498.50,109.22 498.80,108.57 499.10,110.01 499.40,110.60 499.70,109.06 500.00,109.34 500.30,111.85 500.60,111.86 500.90,112.52 501.20,113.64 501.50,113.62 501.80,112.93 502.10,114.64 502.40,113.57 502.70,116.91 503.00,116.51 503.30,115.69 503.60,115.32 503.90,117.12 504.20,116.75 504.50,116.46 504.80,118.40 505.10,118.15 505.40,118.94 505.70,117.57 506.00,119.97 506.30,119.62 506.60,115.52 506.90,114.87 507.20,116.05 507.50,118.91 507.80,117.73 508.10,116.99 508.40,117.04 508.70,115.13 509.00,116.69 509.30,115.13 509.60,116.50 509.90,115.70 510.20,115.37 510.50,115.26 510.80,116.46 511.10,117.92 511.40,113.45 511.70,116.25 512.00,114.79 512.30,116.98 512.60,116.37 512.90,113.91 513.20,114.89 513.50,116.37 513.80,116.53 514.10,113.70 514.40,113.10 514.70,114.54 515.00,115.67 515.30,115.71 515.60,115.53 515.90,116.29 516.20,116.82 516.50,116.84 516.80,116.31 517.10,118.60 517.40,118.82 517.70,119.83 518.00,119.42 518.30,119.49 518.60,121.27 518.90,121.90 519.20,123.30 519.50,120.92 519.80,122.28 520.10,122.84 520.40,125.00 520.70,121.03 521.00,123.95 521.30,122.42 521.60,122.21 521.90,123.92 522.20,123.86 522.50,121.05 522.80,122.10 523.10,123.23 523.40,122.78 523.70,124.26 524.00,122.53 524.30,123.05 524.60,121.34 524.90,123.81 525.20,123.37 525.50,124.01 525.80,122.74 526.10,125.03 526.40,122.82 526.70,124.99 527.00,125.07 527.30,122.64 527.60,123.65 527.90,122.91 528.20,121.89 528.50,124.01 528.80,123.55 529.10,124.76 529.40,125.00 529.70,122.05 530.00,123.32 530.30,123.97 530.60,124.39 530.90,123.79 531.20,122.96 531.50,123.46 531.80,124.28 532.10,122.55 532.40,122.51 532.70,122.58 533.00,123.15 533.30,124.93 533.60,123.36 533.90,124.42 534.20,125.03 534.50,124.90 534.80,124.05 535.10,123.76 535.40,123.84 535.70,123.61 536.00,123.26 536.30,124.35 536.60,124.76 536.90,123.44 537.20,122.96 537.50,123.44 537.80,123.18 538.10,123.57 538.40,122.74 538.70,122.36 539.00,120.60 539.30,121.24 539.60,121.07 539.90,120.49 540.20,121.12 540.50,120.35 540.80,119.18 541.10,120.01 541.40,120.43 541.70,121.43 542.00,118.37 542.30,117.51 542.60,119.33 542.90,120.83 543.20,118.89 543.50,120.77 543.80,120.43 544.10,122.12 544.40,121.14 544.70,122.00 545.00,122.73 545.30,122.75 545.60,121.69 545.90,122.51 546.20,121.93 546.50,124.26 546.80,123.74 547.10,121.90 547.40,121.94 547.70,122.61 548.00,121.73 548.30,121.65 548.60,122.67 548.90,122.98 549.20,121.49 549.50,121.09 549.80,118.28 550.10,116.68 550.40,114.89 550.70,113.39 551.00,111.42 551.30,113.44 551.60,111.29 551.90,108.13 552.20,107.43 552.50,104.91 552.80,106.47 553.10,104.27 553.40,103.38 553.70,102.27 554.00,99.79 554.30,100.15 553.70,99.53 554.25,97.50 554.55,97.50 555.10,99.53 554.60,101.75 554.90,99.87 555.20,100.70 555.50,102.56 555.80,102.52 556.10,103.34 556.40,104.00 556.70,105.24 557.00,107.88 557.30,104.89 557.60,107.41 557.90,108.58 558.20,111.75 558.50,111.31 558.80,114.22 559.10,113.44 559.40,117.01 559.70,114.26 560.00,119.80 560.30,116.96 560.60,119.04 560.90,119.27 561.20,121.08 561.50,123.77 561.80,124.05 562.10,123.48 562.40,124.42 562.70,125.56 563.00,124.64 563.30,123.83 563.60,124.48 563.90,124.57 564.20,122.66 564.50,123.77 564.80,124.37 565.10,125.98 565.40,125.02 565.70,124.64 566.00,123.05 566.30,124.10 566.60,123.20 566.90,124.67 567.20,124.09 567.50,125.36 567.80,124.67 568.10,124.76 568.40,125.06 568.70,125.63 569.00,124.54 569.30,124.42 569.60,125.06 569.90,127.09 570.20,123.85 570.50,122.71 570.80,122.92 571.10,120.13 571.40,121.34 571.70,118.65 572.00,118.63 572.30,117.76 572.60,116.16 572.90,116.81 573.20,115.12 573.50,115.18 573.80,113.42 574.10,110.73 574.40,111.22 574.70,109.88 575.00,107.85 575.30,106.75 575.60,107.47 575.90,103.67 576.20,106.34 576.50,103.83 576.80,103.72 577.10,103.91 577.40,105.58 577.70,99.00 578.00,97.48 578.30,99.88 578.60,94.99 578.90,93.74 579.20,88.41 579.50,91.90 579.80,88.05 580.10,81.93 580.40,86.97 580.70,83.59 581.00,81.63 581.30,78.15 581.60,84.50 581.90,78.12 582.20,80.15 582.50,76.82 581.90,75.98 582.45,71.00 582.75,71.00 583.30,75.98 582.80,78.20 583.10,83.73 583.40,85.13 583.70,87.06 584.00,87.16 584.30,91.01 584.60,93.29 584.90,96.78 585.20,96.27 585.50,99.20 585.80,102.04 586.10,98.72 586.40,105.45 586.70,109.09 587.00,109.02 587.30,110.06 587.60,112.12 587.90,114.29 588.20,111.60 588.50,114.62 588.80,115.88 589.10,116.52 589.40,119.88 589.70,118.34 590.00,120.10 590.30,121.23 590.60,122.40 590.90,120.33 591.20,120.93 591.50,121.14 591.80,123.94 592.10,123.07 592.40,124.09 592.70,124.39 593.00,124.98 593.30,122.05 593.60,122.94 593.90,122.61 594.20,120.32 594.50,122.89 594.80,123.35 595.10,120.36 595.40,122.15 595.70,121.58 596.00,121.23 596.30,119.68 596.60,119.44 596.90,122.97 597.20,121.47 597.50,120.10 597.80,121.06 598.10,118.29 598.40,120.01 598.70,118.46" fill="none" stroke="#000" stroke-width="0.8" stroke-linejoin="round" />
<polyline points="333.30,126.20 333.80,126.20 334.30,126.20 334.80,126.20 335.30,126.20 335.80,126.20 336.30,126.20 336.80,126.20 337.30,126.20 337.80,126.20 338.30,126.20 338.80,126.20 339.30,126.20 339.80,126.20 340.30,126.20 340.80,126.20 341.30,126.20 341.80,126.20 342.30,126.20 342.80,126.20 343.30,126.20 343.80,126.19 344.30,126.19 344.80,126.19 345.30,126.19 345.80,126.18 346.30,126.17 346.80,126.17 347.30,126.16 347.80,126.14 348.30,126.13 348.80,126.10 349.30,126.08 349.80,126.04 350.30,126.00 350.80,125.95 351.30,125.88 351.80,125.80 352.30,125.71 352.80,125.60 353.30,125.46 353.80,125.30 354.30,125.11 354.80,124.90 355.30,124.64 355.80,124.35 356.30,124.02 356.80,123.64 357.30,123.22 357.80,122.75 358.30,122.22 358.80,121.65 359.30,121.02 359.80,120.35 360.30,119.62 360.80,118.86 361.30,118.05 361.80,117.21 362.30,116.34 362.80,115.45 363.30,114.56 363.80,113.67 364.30,112.79 364.80,111.93 365.30,111.12 365.80,110.35 366.30,109.65 366.80,109.02 367.30,108.48 367.80,108.03 368.30,107.69 368.80,107.45 369.30,107.32 369.80,107.31 370.30,107.41 370.80,107.63 371.30,107.96 371.80,108.38 372.30,108.91 372.80,109.52 373.30,110.21 373.80,110.96 374.30,111.77 374.80,112.61 375.30,113.49 375.80,114.38 376.30,115.27 376.80,116.16 377.30,117.03 377.80,117.88 378.30,118.70 378.80,119.47 379.30,120.21 379.80,120.89 380.30,121.53 380.80,122.11 381.30,122.65 381.80,123.13 382.30,123.56 382.80,123.95 383.30,124.29 383.80,124.59 384.30,124.85 384.80,125.07 385.30,125.27 385.80,125.43 386.30,125.57 386.80,125.69 387.30,125.79 387.80,125.87 388.30,125.94 388.80,125.99 389.30,126.03 389.80,126.07 390.30,126.10 390.80,126.12 391.30,126.14 391.80,126.15 392.30,126.16 392.80,126.17 393.30,126.18 393.80,126.19 394.30,126.19 394.80,126.19 395.30,126.19 395.80,126.20 396.30,126.20 396.80,126.20 397.30,126.20 397.80,126.20 398.30,126.20 398.80,126.20 399.30,126.20 399.80,126.20 400.30,126.20 400.80,126.20 401.30,126.20 401.80,126.20 402.30,126.20 402.80,126.20 403.30,126.19 403.80,126.19 404.30,126.19 404.80,126.19 405.30,126.18 405.80,126.18 406.30,126.17 406.80,126.16 407.30,126.16 407.80,126.14 408.30,126.13 408.80,126.11 409.30,126.09 409.80,126.06 410.30,126.03 410.80,125.99 411.30,125.94 411.80,125.89 412.30,125.82 412.80,125.74 413.30,125.64 413.80,125.53 414.30,125.39 414.80,125.23 415.30,125.04 415.80,124.83 416.30,124.58 416.80,124.28 417.30,123.95 417.80,123.57 418.30,123.13 418.80,122.63 419.30,122.07 419.80,121.44 420.30,120.73 420.80,119.94 421.30,119.06 421.80,118.09 422.30,117.02 422.80,115.85 423.30,114.58 423.80,113.19 424.30,111.69 424.80,110.08 425.30,108.36 425.80,106.53 426.30,104.59 426.80,102.55 427.30,100.41 427.80,98.18 428.30,95.87 428.80,93.49 429.30,91.05 429.80,88.58 430.30,86.08 430.80,83.57 431.30,81.08 431.80,78.61 432.30,76.20 432.80,73.86 433.30,71.62 433.80,69.49 434.30,67.49 434.80,65.65 435.30,63.98 435.80,62.51 436.30,61.24 436.80,60.20 437.30,59.38 437.80,58.81 438.30,58.48 438.80,58.41 439.30,58.58 439.80,59.01 440.30,59.68 440.80,60.59 441.30,61.72 441.80,63.08 442.30,64.63 442.80,66.37 443.30,68.27 443.80,70.32 444.30,72.50 444.80,74.79 445.30,77.16 445.80,79.59 446.30,82.07 446.80,84.57 447.30,87.08 447.80,89.57 448.30,92.03 448.80,94.44 449.30,96.80 449.80,99.07 450.30,101.27 450.80,103.37 451.30,105.37 451.80,107.27 452.30,109.05 452.80,110.73 453.30,112.29 453.80,113.73 454.30,115.07 454.80,116.30 455.30,117.42 455.80,118.44 456.30,119.36 456.80,120.19 457.30,120.93 457.80,121.59 458.30,122.17 458.80,122.68 459.30,123.12 459.80,123.49 460.30,123.81 460.80,124.08 461.30,124.29 461.80,124.46 462.30,124.59 462.80,124.68 463.30,124.72 463.80,124.73 464.30,124.70 464.80,124.64 465.30,124.55 465.80,124.42 466.30,124.26 466.80,124.06 467.30,123.83 467.80,123.56 468.30,123.26 468.80,122.92 469.30,122.54 469.80,122.13 470.30,121.67 470.80,121.17 471.30,120.63 471.80,120.04 472.30,119.42 472.80,118.75 473.30,118.04 473.80,117.28 474.30,116.49 474.80,115.66 475.30,114.79 475.80,113.88 476.30,112.95 476.80,111.99 477.30,111.01 477.80,110.00 478.30,108.99 478.80,107.97 479.30,106.94 479.80,105.92 480.30,104.92 480.80,103.93 481.30,102.97 481.80,102.04 482.30,101.15 482.80,100.31 483.30,99.52 483.80,98.80 484.30,98.14 484.80,97.55 485.30,97.04 485.80,96.62 486.30,96.28 486.80,96.03 487.30,95.87 487.80,95.80 488.30,95.83 488.80,95.95 489.30,96.17 489.80,96.47 490.30,96.86 490.80,97.34 491.30,97.89 491.80,98.52 492.30,99.22 492.80,99.99 493.30,100.81 493.80,101.68 494.30,102.59 494.80,103.54 495.30,104.52 495.80,105.52 496.30,106.53 496.80,107.56 497.30,108.58 497.80,109.60 498.30,110.61 498.80,111.60 499.30,112.57 499.80,113.52 500.30,114.43 500.80,115.32 501.30,116.17 501.80,116.98 502.30,117.75 502.80,118.48 503.30,119.17 503.80,119.82 504.30,120.42 504.80,120.99 505.30,121.51 505.80,121.99 506.30,122.44 506.80,122.85 507.30,123.22 507.80,123.56 508.30,123.87 508.80,124.15 509.30,124.40 509.80,124.63 510.30,124.83 510.80,125.01 511.30,125.16 511.80,125.31 512.30,125.43 512.80,125.54 513.30,125.63 513.80,125.72 514.30,125.79 514.80,125.85 515.30,125.90 515.80,125.95 516.30,125.99 516.80,126.02 517.30,126.05 517.80,126.08 518.30,126.10 518.80,126.12 519.30,126.13 519.80,126.14 520.30,126.15 520.80,126.16 521.30,126.17 521.80,126.17 522.30,126.18 522.80,126.18 523.30,126.19 523.80,126.19 524.30,126.19 524.80,126.19 525.30,126.19 525.80,126.20 526.30,126.20 526.80,126.20 527.30,126.20 527.80,126.20 528.30,126.20 528.80,126.20 529.30,126.20 529.80,126.20 530.30,126.20 530.80,126.20 531.30,126.20 531.80,126.20 532.30,126.20 532.80,126.20 533.30,126.19 533.80,126.18 534.30,126.16 534.80,126.13 535.30,126.07 535.80,125.97 536.30,125.82 536.80,125.59 537.30,125.26 537.80,124.82 538.30,124.25 538.80,123.54 539.30,122.72 539.80,121.83 540.30,120.93 540.80,120.09 541.30,119.39 541.80,118.91 542.30,118.70 542.80,118.79 543.30,119.16 543.80,119.77 544.30,120.55 544.80,121.42 545.30,122.28 545.80,123.06 546.30,123.69 546.80,124.13 547.30,124.33 547.80,124.27 548.30,123.91 548.80,123.23 549.30,122.20 549.80,120.81 550.30,119.08 550.80,117.02 551.30,114.70 551.80,112.24 552.30,109.78 552.80,107.49 553.30,105.55 553.80,104.12 554.30,103.33 554.80,103.26 555.30,103.91 555.80,105.22 556.30,107.07 556.80,109.31 557.30,111.75 557.80,114.23 558.30,116.59 558.80,118.73 559.30,120.58 559.80,122.10 560.30,123.30 560.80,124.22 561.30,124.89 561.80,125.36 562.30,125.68 562.80,125.88 563.30,126.02 563.80,126.10 564.30,126.14 564.80,126.17 565.30,126.18 565.80,126.19 566.30,126.19 566.80,126.18 567.30,126.17 567.80,126.13 568.30,126.06 568.80,125.93 569.30,125.71 569.80,125.35 570.30,124.78 570.80,123.95 571.30,122.77 571.80,121.22 572.30,119.29 572.80,117.00 573.30,114.45 573.80,111.78 574.30,109.13 574.80,106.64 575.30,104.39 575.80,102.38 576.30,100.53 576.80,98.71 577.30,96.75 577.80,94.53 578.30,92.00 578.80,89.23 579.30,86.37 579.80,83.67 580.30,81.40 580.80,79.82 581.30,79.09 581.80,79.28 582.30,80.33 582.80,82.08 583.30,84.30 583.80,86.76 584.30,89.29 584.80,91.83 585.30,94.40 585.80,97.12 586.30,100.10 586.80,103.37 587.30,106.90 587.80,110.51 588.30,114.01 588.80,117.18 589.30,119.86 589.80,121.96 590.30,123.49 590.80,124.52 591.30,125.14 591.80,125.44 592.30,125.51 592.80,125.39 593.30,125.12 593.80,124.71 594.30,124.18 594.80,123.55 595.30,122.85 595.80,122.13 596.30,121.44 596.80,120.85 597.30,120.43 597.80,120.22 598.30,120.24 598.80,120.50" fill="none" stroke="#078628" stroke-width="1.1" stroke-linejoin="round" />
<polyline points="333.50,53.75 333.80,54.76 334.10,56.13 334.40,53.27 334.70,55.65 335.00,54.35 335.30,55.92 335.60,54.64 335.90,54.81 336.20,55.35 336.50,54.39 336.80,54.90 337.10,54.73 337.40,56.23 337.70,55.19 338.00,53.33 338.30,55.20 338.60,55.08 338.90,54.86 339.20,56.11 339.50,55.80 339.80,53.42 340.10,56.05 340.40,54.35 340.70,54.34 341.00,54.25 341.30,54.60 341.60,55.45 341.90,53.56 342.20,54.55 342.50,53.97 342.80,54.40 343.10,54.17 343.40,55.15 343.70,55.31 344.00,53.64 344.30,54.78 344.60,53.04 344.90,54.69 345.20,55.25 345.50,54.34 345.80,56.82 346.10,55.02 346.40,53.81 346.70,54.90 347.00,53.88 347.30,55.02 347.60,54.42 347.90,54.57 348.20,52.48 348.50,53.78 348.80,55.23 349.10,55.23 349.40,55.26 349.70,54.78 350.00,55.49 350.30,55.42 350.60,55.02 350.90,55.60 351.20,55.38 351.50,54.09 351.80,55.04 352.10,55.42 352.40,54.35 352.70,52.64 353.00,54.23 353.30,54.76 353.60,52.38 353.90,53.11 354.20,53.38 354.50,56.04 354.80,55.22 355.10,54.16 355.40,55.31 355.70,54.78 356.00,53.01 356.30,54.07 356.60,55.33 356.90,54.16 357.20,56.76 357.50,53.99 357.80,54.05 358.10,54.21 358.40,54.46 358.70,54.39 359.00,55.64 359.30,56.38 359.60,54.18 359.90,52.94 360.20,54.01 360.50,54.47 360.80,55.95 361.10,55.02 361.40,54.44 361.70,56.68 362.00,53.29 362.30,53.23 362.60,55.71 362.90,54.94 363.20,54.35 363.50,53.13 363.80,54.66 364.10,54.57 364.40,53.63 364.70,54.36 365.00,52.84 365.30,55.30 365.60,53.10 365.90,55.14 366.20,53.29 366.50,53.25 366.80,53.99 367.10,53.37 367.40,54.84 367.70,53.29 368.00,54.27 368.30,54.82 368.60,54.98 368.90,54.98 369.20,53.92 369.50,55.99 369.80,53.98 370.10,53.52 370.40,54.35 370.70,55.88 371.00,52.49 371.30,53.59 371.60,55.44 371.90,54.13 372.20,52.76 372.50,54.60 372.80,54.56 373.10,53.82 373.40,52.71 373.70,53.67 374.00,53.35 374.30,55.23 374.60,52.87 374.90,52.13 375.20,54.17 375.50,53.60 375.80,55.10 376.10,51.72 376.40,53.63 376.70,54.75 377.00,53.60 377.30,54.08 377.60,53.12 377.90,55.41 378.20,52.54 378.50,53.78 378.80,53.64 379.10,53.66 379.40,54.41 379.70,53.58 380.00,53.83 380.30,54.23 380.60,53.98 380.90,54.66 381.20,52.82 381.50,55.32 381.80,52.06 382.10,52.07 382.40,52.98 382.70,52.54 383.00,54.26 383.30,54.24 383.60,54.62 383.90,54.58 384.20,54.30 384.50,55.92 384.80,52.98 385.10,53.66 385.40,53.36 385.70,54.82 386.00,53.55 386.30,53.18 386.60,52.74 386.90,53.73 387.20,52.77 387.50,54.40 387.80,54.25 388.10,53.83 388.40,54.19 388.70,54.03 389.00,54.95 389.30,53.24 389.60,52.90 389.90,53.41 390.20,53.28 390.50,54.14 390.80,53.23 391.10,52.54 391.40,53.39 391.70,54.08 392.00,52.61 392.30,54.37 392.60,55.09 392.90,52.74 393.20,53.02 393.50,52.91 393.80,51.35 394.10,53.30 394.40,51.62 394.70,52.91 395.00,53.91 395.30,55.29 395.60,54.02 395.90,53.41 396.20,54.23 396.50,53.44 396.80,52.82 397.10,54.41 397.40,52.70 397.70,54.11 398.00,54.82 398.30,53.05 398.60,52.90 398.90,51.64 399.20,53.32 399.50,53.06 399.80,54.07 400.10,53.51 400.40,52.72 400.70,53.14 401.00,53.65 401.30,52.04 401.60,53.20 401.90,53.04 402.20,53.54 402.50,54.29 402.80,54.27 403.10,51.47 403.40,52.17 403.70,54.95 404.00,54.66 404.30,52.53 404.60,51.77 404.90,53.19 405.20,52.64 405.50,52.31 405.80,52.42 406.10,54.65 406.40,53.29 406.70,54.58 407.00,53.24 407.30,52.60 407.60,54.88 407.90,54.00 408.20,53.32 408.50,54.15 408.80,52.71 409.10,51.96 409.40,51.99 409.70,51.96 410.00,52.26 410.30,52.75 410.60,53.68 410.90,53.29 411.20,52.01 411.50,52.00 411.80,50.43 412.10,54.60 412.40,51.88 412.70,53.97 413.00,51.83 413.30,52.24 413.60,52.59 413.90,53.50 414.20,53.09 414.50,51.46 414.80,52.80 415.10,54.06 415.40,52.77 415.70,52.00 416.00,53.48 416.30,54.19 416.60,53.59 416.90,53.17 417.20,50.92 417.50,52.75 417.80,52.72 418.10,53.99 418.40,52.14 418.70,53.58 419.00,52.16 419.30,52.68 419.60,52.00 419.90,53.94 420.20,53.19 420.50,51.68 420.80,51.04 421.10,50.17 421.40,51.25 421.70,51.45 422.00,51.37 422.30,50.04 422.60,51.11 422.90,51.55 423.20,50.28 423.50,49.31 423.80,49.93 424.10,48.90 424.40,49.67 424.70,49.01 425.00,50.60 425.30,47.33 425.60,44.36 425.90,50.14 426.20,45.48 426.50,41.46 426.80,43.83 427.10,42.50 427.40,40.60 427.70,43.11 428.00,47.10 428.30,41.92 428.60,40.93 428.90,43.36 429.20,41.08 429.50,39.63 429.80,38.73 430.10,37.34 430.40,41.86 430.70,38.95 431.00,39.10 431.30,36.30 431.60,38.48 431.90,36.58 432.20,35.90 432.50,39.84 432.80,30.95 433.10,35.31 433.40,32.37 433.70,34.62 434.00,34.63 434.30,31.46 434.60,28.90 434.90,31.68 435.20,36.44 435.50,36.28 435.80,31.27 435.30,30.07 435.85,26.50 436.15,26.50 436.70,30.07 436.10,28.62 436.40,31.20 436.70,30.18 437.00,33.18 437.30,32.07 437.60,35.08 437.90,31.59 438.20,35.90 438.50,31.93 438.80,30.87 439.10,35.21 439.40,34.56 439.70,31.38 440.00,35.64 440.30,34.67 440.60,32.45 440.90,35.58 441.20,36.51 441.50,33.90 441.80,32.67 442.10,37.95 442.40,36.43 442.70,33.29 443.00,33.63 443.30,37.15 443.60,39.77 443.90,36.12 444.20,41.31 444.50,38.35 444.80,43.22 445.10,37.41 445.40,39.84 445.70,44.55 446.00,44.19 446.30,40.12 446.60,43.18 446.90,39.85 447.20,46.68 447.50,47.44 447.80,43.56 448.10,47.17 448.40,45.67 448.70,49.49 449.00,46.70 449.30,47.89 449.60,44.23 449.90,48.37 450.20,48.98 450.50,51.52 450.80,52.38 451.10,49.71 451.40,50.20 451.70,49.08 452.00,48.74 452.30,51.11 452.60,52.62 452.90,50.70 453.20,52.55 453.50,50.08 453.80,51.84 454.10,48.38 454.40,48.15 454.70,51.47 454.30,48.25 454.85,45.00 455.15,45.00 455.70,48.25 455.00,49.99 455.30,51.78 455.60,50.01 455.90,48.72 456.20,51.29 456.50,49.84 456.80,52.55 457.10,52.47 457.40,47.70 457.70,52.69 458.00,50.88 458.30,50.90 458.60,52.34 458.90,50.34 459.20,50.94 459.50,52.96 459.80,52.47 460.10,52.62 460.40,49.71 460.70,50.90 461.00,50.94 461.30,52.66 461.60,50.28 461.90,51.14 462.20,52.64 462.50,50.29 462.80,52.41 463.10,50.58 463.40,52.75 463.70,49.91 464.00,51.61 464.30,51.50 464.60,52.21 464.90,47.52 465.20,52.71 465.50,54.20 465.80,50.79 466.10,50.08 466.40,50.17 466.70,48.88 467.00,50.29 467.30,52.38 467.60,49.52 467.90,47.88 468.20,45.58 468.50,46.49 468.80,51.63 469.10,50.44 469.40,47.56 469.70,47.17 470.00,47.58 470.30,47.36 470.60,45.86 470.90,47.16 471.20,46.22 471.50,48.07 471.80,46.96 472.10,47.57 472.40,48.66 472.70,44.59 473.00,47.49 473.30,47.27 473.60,45.20 473.90,42.83 474.20,45.53 474.50,48.54 474.80,46.49 475.10,43.25 475.40,43.78 475.70,46.93 476.00,43.23 476.30,42.93 476.60,40.32 476.90,43.09 477.20,44.07 477.50,42.08 477.80,40.96 478.10,43.75 478.40,43.67 478.70,42.87 479.00,42.20 479.30,44.14 479.60,44.54 479.90,44.92 480.20,41.13 480.50,39.44 480.80,39.28 481.10,40.85 481.40,42.27 481.70,42.09 482.00,39.81 482.30,39.78 482.60,39.35 482.90,39.57 483.20,40.59 483.50,40.83 483.80,42.31 484.10,40.65 484.40,40.03 484.70,38.95 485.00,40.09 484.60,42.53 485.15,47.00 485.45,47.00 486.00,42.53 485.30,40.05 485.60,43.59 485.90,39.43 486.20,41.19 485.80,39.34 486.35,37.00 486.65,37.00 487.20,39.34 486.50,37.77 486.80,41.58 487.10,39.55 487.40,38.75 487.70,38.65 488.00,37.97 488.30,41.19 488.60,40.61 488.90,39.68 489.20,40.16 489.50,41.58 489.80,40.23 490.10,38.72 490.40,44.64 490.70,39.16 491.00,43.26 491.30,43.83 491.60,42.76 491.90,42.60 492.20,44.53 492.50,46.10 492.80,44.85 493.10,48.76 493.40,46.73 493.70,45.37 494.00,47.98 494.30,45.48 494.60,45.75 494.90,51.11 495.20,49.75 495.50,45.52 495.80,49.33 496.10,50.97 496.40,50.37 496.70,50.20 497.00,51.25 497.30,52.46 497.60,49.75 497.90,48.43 498.20,50.10 498.50,51.40 498.80,51.03 499.10,48.38 499.40,50.55 499.70,53.45 500.00,49.68 500.30,49.31 500.60,54.53 500.90,49.20 501.20,50.18 501.50,53.62 501.80,48.74 502.10,49.38 502.40,48.27 502.70,49.79 503.00,50.18 503.30,51.18 503.60,53.32 503.90,53.13 504.20,50.01 504.50,51.90 504.80,51.42 505.10,48.83 505.40,50.29 505.70,51.37 506.00,49.00 506.30,52.57 506.60,50.44 506.90,50.38 507.20,53.52 507.50,48.05 507.80,51.62 508.10,50.29 508.40,51.36 508.70,52.55 509.00,52.20 509.30,49.75 509.60,49.62 509.90,52.21 510.20,50.34 510.50,49.66 510.80,50.39 511.10,51.86 511.40,51.72 511.70,51.93 512.00,52.77 512.30,48.79 512.60,50.15 512.90,52.69 513.20,50.53 513.50,51.33 513.80,50.39 514.10,52.16 514.40,51.67 514.70,53.26 515.00,48.42 515.30,52.52 515.60,51.61 515.90,51.52 516.20,49.02 516.50,50.16 516.80,50.87 517.10,50.60 517.40,49.55 517.70,52.51 518.00,51.66 518.30,51.02 518.60,50.52 518.90,52.28 519.20,50.93 519.50,53.26 519.80,51.56 520.10,51.94 520.40,53.17 520.70,52.35 521.00,52.32 521.30,51.59 521.60,55.20 521.90,53.73 522.20,52.64 522.50,51.18 522.80,52.33 523.10,51.92 523.40,53.01 523.70,49.17 524.00,51.95 524.30,51.95 524.60,51.05 524.90,54.34 525.20,53.82 525.50,51.57 525.80,52.84 526.10,51.26 526.40,51.42 526.70,52.38 527.00,51.96 527.30,51.89 527.60,53.99 527.90,52.23 528.20,53.38 528.50,55.22 528.80,50.24 529.10,55.22 529.40,53.36 529.70,50.75 530.00,51.83 530.30,53.55 530.60,52.51 530.90,52.20 531.20,52.71 531.50,52.12 531.80,51.55 532.10,52.74 532.40,54.93 532.70,52.83 533.00,50.52 533.30,51.10 533.60,51.59 533.90,54.14 534.20,53.53 534.50,51.63 534.80,54.20 535.10,51.31 535.40,55.76 535.70,53.24 536.00,53.68 536.30,53.43 536.60,53.60 536.90,53.17 537.20,52.89 537.50,51.76 537.80,52.87 538.10,52.69 538.40,54.86 538.70,51.37 539.00,50.68 539.30,49.41 539.60,51.89 539.90,46.89 540.20,46.52 540.50,47.03 540.80,47.69 541.10,48.02 541.40,46.37 541.70,41.93 542.00,42.73 542.30,44.45 542.60,43.44 542.90,45.98 543.20,45.44 543.50,47.59 543.80,46.02 544.10,46.92 544.40,47.99 544.70,47.96 545.00,48.41 545.30,49.21 545.60,49.84 545.90,51.43 546.20,49.97 546.50,48.52 546.80,48.65 547.10,48.38 547.40,47.00 547.70,47.21 548.00,47.79 548.30,45.13 548.60,43.46 548.90,42.89 549.20,42.63 549.50,40.99 549.80,40.82 550.10,39.39 550.40,40.81 550.70,37.83 551.00,35.65 551.30,34.90 551.60,37.08 551.90,35.23 552.20,35.40 552.50,32.59 552.80,31.98 553.10,30.29 553.40,32.07 553.70,32.56 554.00,32.22 554.30,31.80 554.60,31.21 554.90,31.74 555.20,31.81 555.50,32.96 555.80,32.75 556.10,31.30 556.40,30.02 556.70,32.94 557.00,35.53 557.30,34.47 557.60,36.96 557.90,37.55 558.20,39.51 558.50,39.74 558.80,41.28 559.10,41.76 559.40,43.18 559.70,43.24 560.00,45.01 560.30,45.19 560.60,47.31 560.90,49.20 561.20,46.72 561.50,51.32 561.80,52.67 562.10,52.31 562.40,52.67 562.70,53.04 563.00,49.40 563.30,52.05 563.60,51.46 563.90,52.05 564.20,53.98 564.50,51.51 564.80,51.56 565.10,51.13 565.40,51.29 565.70,52.43 566.00,51.82 566.30,55.02 566.60,53.30 566.90,55.78 567.20,53.26 567.50,53.46 567.80,52.21 568.10,51.23 568.40,53.81 568.70,51.41 569.00,49.59 569.30,50.34 569.60,53.05 569.90,47.30 570.20,50.64 570.50,48.13 570.80,49.79 571.10,48.45 571.40,47.66 571.70,46.59 572.00,40.90 572.30,39.16 572.60,36.19 572.90,36.57 573.20,35.46 573.50,28.34 573.80,24.27 574.10,21.19 574.40,16.66 574.70,16.80 575.00,10.31 575.30,8.79 575.60,2.43 575.90,3.00 576.20,6.22 576.50,6.39 576.80,4.04 577.10,1.75 577.40,5.77 577.70,2.00 578.00,4.56 578.30,3.77 578.60,7.03 578.90,6.98 579.20,4.39 579.50,3.70 579.80,5.58 580.10,6.52 580.40,8.38 580.70,4.85 581.00,4.64 581.30,4.67 581.60,7.07 581.90,5.14 582.20,3.24 582.50,5.34 582.80,7.67 583.10,10.40 583.40,13.65 583.70,11.73 584.00,17.34 584.30,20.74 584.60,19.72 584.90,21.25 585.20,26.85 585.50,30.18 585.80,30.40 586.10,28.66 586.40,30.56 586.70,33.31 587.00,35.61 587.30,33.67 587.60,42.48 587.90,37.40 588.20,41.06 588.50,43.33 588.80,46.87 589.10,44.74 589.40,44.42 589.70,48.38 590.00,48.92 590.30,50.87 590.60,48.24 590.90,49.20 591.20,49.46 591.50,49.62 591.80,48.79 592.10,47.71 592.40,44.76 592.70,45.17 593.00,42.68 593.30,42.98 593.60,43.20 593.90,44.01 594.20,43.31 594.50,41.34 594.80,42.48 595.10,39.00 595.40,40.66 595.70,35.21 596.00,37.08 596.30,37.06 596.60,38.49 596.90,38.26 597.20,38.48 597.50,38.10 597.80,38.62 598.10,38.38 598.40,40.83 598.70,43.38" fill="none" stroke="#000" stroke-width="0.8" stroke-linejoin="round" />
<polyline points="554.60,0.00 554.60,30.00" fill="none" stroke="#000" stroke-width="1.0" stroke-linejoin="round" />
<polyline points="333.30,55.20 333.80,55.18 334.30,55.17 334.80,55.15 335.30,55.14 335.80,55.12 336.30,55.11 336.80,55.09 337.30,55.08 337.80,55.06 338.30,55.04 338.80,55.03 339.30,55.01 339.80,55.00 340.30,54.98 340.80,54.97 341.30,54.95 341.80,54.94 342.30,54.92 342.80,54.90 343.30,54.89 343.80,54.87 344.30,54.86 344.80,54.84 345.30,54.83 345.80,54.81 346.30,54.80 346.80,54.78 347.30,54.76 347.80,54.75 348.30,54.73 348.80,54.72 349.30,54.70 349.80,54.69 350.30,54.67 350.80,54.66 351.30,54.64 351.80,54.62 352.30,54.61 352.80,54.59 353.30,54.58 353.80,54.56 354.30,54.55 354.80,54.53 355.30,54.51 355.80,54.50 356.30,54.48 356.80,54.47 357.30,54.45 357.80,54.44 358.30,54.42 358.80,54.41 359.30,54.39 359.80,54.37 360.30,54.36 360.80,54.34 361.30,54.33 361.80,54.31 362.30,54.30 362.80,54.28 363.30,54.27 363.80,54.25 364.30,54.23 364.80,54.22 365.30,54.20 365.80,54.19 366.30,54.17 366.80,54.16 367.30,54.14 367.80,54.13 368.30,54.11 368.80,54.09 369.30,54.08 369.80,54.06 370.30,54.05 370.80,54.03 371.30,54.02 371.80,54.00 372.30,53.99 372.80,53.97 373.30,53.95 373.80,53.94 374.30,53.92 374.80,53.91 375.30,53.89 375.80,53.88 376.30,53.86 376.80,53.85 377.30,53.83 377.80,53.81 378.30,53.80 378.80,53.78 379.30,53.77 379.80,53.75 380.30,53.74 380.80,53.72 381.30,53.71 381.80,53.69 382.30,53.67 382.80,53.66 383.30,53.64 383.80,53.63 384.30,53.61 384.80,53.60 385.30,53.58 385.80,53.57 386.30,53.55 386.80,53.53 387.30,53.52 387.80,53.50 388.30,53.49 388.80,53.47 389.30,53.46 389.80,53.44 390.30,53.42 390.80,53.41 391.30,53.39 391.80,53.38 392.30,53.36 392.80,53.35 393.30,53.33 393.80,53.32 394.30,53.30 394.80,53.28 395.30,53.27 395.80,53.25 396.30,53.24 396.80,53.22 397.30,53.21 397.80,53.19 398.30,53.18 398.80,53.16 399.30,53.14 399.80,53.13 400.30,53.11 400.80,53.10 401.30,53.08 401.80,53.07 402.30,53.05 402.80,53.04 403.30,53.02 403.80,53.00 404.30,52.99 404.80,52.97 405.30,52.96 405.80,52.94 406.30,52.93 406.80,52.91 407.30,52.89 407.80,52.88 408.30,52.86 408.80,52.84 409.30,52.83 409.80,52.81 410.30,52.79 410.80,52.77 411.30,52.75 411.80,52.73 412.30,52.71 412.80,52.69 413.30,52.66 413.80,52.63 414.30,52.60 414.80,52.57 415.30,52.53 415.80,52.48 416.30,52.43 416.80,52.37 417.30,52.30 417.80,52.21 418.30,52.12 418.80,52.01 419.30,51.88 419.80,51.74 420.30,51.58 420.80,51.40 421.30,51.20 421.80,50.97 422.30,50.70 422.80,50.40 423.30,50.06 423.80,49.68 424.30,49.26 424.80,48.79 425.30,48.27 425.80,47.70 426.30,47.09 426.80,46.43 427.30,45.73 427.80,44.98 428.30,44.19 428.80,43.37 429.30,42.51 429.80,41.63 430.30,40.74 430.80,39.83 431.30,38.93 431.80,38.03 432.30,37.15 432.80,36.31 433.30,35.50 433.80,34.75 434.30,34.06 434.80,33.44 435.30,32.89 435.80,32.44 436.30,32.08 436.80,31.82 437.30,31.66 437.80,31.61 438.30,31.67 438.80,31.83 439.30,32.10 439.80,32.46 440.30,32.92 440.80,33.47 441.30,34.10 441.80,34.80 442.30,35.56 442.80,36.37 443.30,37.22 443.80,38.10 444.30,39.01 444.80,39.92 445.30,40.83 445.80,41.73 446.30,42.62 446.80,43.48 447.30,44.31 447.80,45.10 448.30,45.86 448.80,46.57 449.30,47.24 449.80,47.85 450.30,48.42 450.80,48.95 451.30,49.42 451.80,49.85 452.30,50.24 452.80,50.59 453.30,50.89 453.80,51.16 454.30,51.40 454.80,51.61 455.30,51.78 455.80,51.94 456.30,52.07 456.80,52.18 457.30,52.27 457.80,52.34 458.30,52.40 458.80,52.45 459.30,52.48 459.80,52.50 460.30,52.52 460.80,52.52 461.30,52.52 461.80,52.50 462.30,52.48 462.80,52.44 463.30,52.40 463.80,52.35 464.30,52.29 464.80,52.21 465.30,52.12 465.80,52.02 466.30,51.91 466.80,51.77 467.30,51.62 467.80,51.46 468.30,51.27 468.80,51.07 469.30,50.84 469.80,50.59 470.30,50.32 470.80,50.02 471.30,49.70 471.80,49.36 472.30,49.00 472.80,48.61 473.30,48.20 473.80,47.77 474.30,47.32 474.80,46.85 475.30,46.37 475.80,45.88 476.30,45.38 476.80,44.87 477.30,44.36 477.80,43.86 478.30,43.36 478.80,42.87 479.30,42.40 479.80,41.94 480.30,41.52 480.80,41.12 481.30,40.75 481.80,40.42 482.30,40.14 482.80,39.89 483.30,39.70 483.80,39.55 484.30,39.45 484.80,39.41 485.30,39.42 485.80,39.48 486.30,39.59 486.80,39.75 487.30,39.97 487.80,40.23 488.30,40.53 488.80,40.87 489.30,41.25 489.80,41.66 490.30,42.10 490.80,42.56 491.30,43.04 491.80,43.54 492.30,44.05 492.80,44.56 493.30,45.08 493.80,45.59 494.30,46.10 494.80,46.59 495.30,47.08 495.80,47.55 496.30,48.00 496.80,48.43 497.30,48.84 497.80,49.23 498.30,49.60 498.80,49.94 499.30,50.26 499.80,50.56 500.30,50.83 500.80,51.09 501.30,51.32 501.80,51.53 502.30,51.72 502.80,51.89 503.30,52.05 503.80,52.18 504.30,52.31 504.80,52.42 505.30,52.51 505.80,52.60 506.30,52.67 506.80,52.74 507.30,52.80 507.80,52.85 508.30,52.89 508.80,52.93 509.30,52.96 509.80,52.99 510.30,53.01 510.80,53.03 511.30,53.05 511.80,53.07 512.30,53.08 512.80,53.10 513.30,53.11 513.80,53.12 514.30,53.13 514.80,53.13 515.30,53.14 515.80,53.15 516.30,53.16 516.80,53.16 517.30,53.17 517.80,53.17 518.30,53.18 518.80,53.19 519.30,53.19 519.80,53.20 520.30,53.20 520.80,53.21 521.30,53.21 521.80,53.22 522.30,53.22 522.80,53.23 523.30,53.23 523.80,53.24 524.30,53.24 524.80,53.25 525.30,53.25 525.80,53.26 526.30,53.26 526.80,53.27 527.30,53.27 527.80,53.28 528.30,53.28 528.80,53.29 529.30,53.29 529.80,53.30 530.30,53.30 530.80,53.31 531.30,53.31 531.80,53.32 532.30,53.32 532.80,53.32 533.30,53.32 533.80,53.31 534.30,53.29 534.80,53.25 535.30,53.18 535.80,53.05 536.30,52.85 536.80,52.55 537.30,52.12 537.80,51.54 538.30,50.78 538.80,49.84 539.30,48.76 539.80,47.58 540.30,46.38 540.80,45.26 541.30,44.33 541.80,43.70 542.30,43.42 542.80,43.52 543.30,43.99 543.80,44.75 544.30,45.68 544.80,46.64 545.30,47.48 545.80,48.07 546.30,48.29 546.80,48.08 547.30,47.44 547.80,46.41 548.30,45.10 548.80,43.61 549.30,42.05 549.80,40.49 550.30,38.95 550.80,37.41 551.30,35.84 551.80,34.24 552.30,32.63 552.80,31.11 553.30,29.79 553.80,28.82 554.30,28.33 554.80,28.42 555.30,29.13 555.80,30.44 556.30,32.25 556.80,34.45 557.30,36.90 557.80,39.42 558.30,41.90 558.80,44.21 559.30,46.27 559.80,48.03 560.30,49.49 560.80,50.65 561.30,51.55 561.80,52.21 562.30,52.70 562.80,53.03 563.30,53.26 563.80,53.41 564.30,53.51 564.80,53.57 565.30,53.60 565.80,53.61 566.30,53.61 566.80,53.59 567.30,53.54 567.80,53.46 568.30,53.31 568.80,53.07 569.30,52.68 569.80,52.09 570.30,51.22 570.80,49.96 571.30,48.18 571.80,45.76 572.30,42.55 572.80,38.42 573.30,33.27 573.80,27.03 574.30,19.74 574.80,11.49 575.30,2.50 575.80,-6.91 576.30,-16.31 576.80,-25.23 577.30,-33.16 577.80,-39.61 578.30,-44.17 578.80,-46.57 579.30,-46.69 579.80,-44.61 580.30,-40.58 580.80,-34.98 581.30,-28.30 581.80,-21.07 582.30,-13.75 582.80,-6.74 583.30,-0.29 583.80,5.50 584.30,10.65 584.80,15.27 585.30,19.52 585.80,23.54 586.30,27.45 586.80,31.27 587.30,34.98 587.80,38.50 588.30,41.73 588.80,44.58 589.30,47.00 589.80,48.96 590.30,50.45 590.80,51.54 591.30,52.26 591.80,52.67 592.30,52.82 592.80,52.74 593.30,52.45 593.80,51.96 594.30,51.27 594.80,50.37 595.30,49.25 595.80,47.95 596.30,46.48 596.80,44.91 597.30,43.30 597.80,41.75 598.30,40.36 598.80,39.22" fill="none" stroke="#078628" stroke-width="1.1" stroke-linejoin="round" />
<polyline points="333.50,53.57 333.80,54.55 334.10,54.96 334.40,53.19 334.70,54.46 335.00,57.08 335.30,53.62 335.60,54.37 335.90,55.04 336.20,52.90 336.50,54.84 336.80,55.81 337.10,54.72 337.40,53.79 337.70,54.96 338.00,54.09 338.30,55.08 338.60,54.91 338.90,54.79 339.20,54.08 339.50,56.27 339.80,55.15 340.10,55.55 340.40,55.14 340.70,54.68 341.00,55.39 341.30,55.10 341.60,55.21 341.90,55.12 342.20,54.60 342.50,55.09 342.80,55.21 343.10,55.85 343.40,54.28 343.70,55.95 344.00,52.79 344.30,53.98 344.60,54.91 344.90,54.34 345.20,55.33 345.50,52.93 345.80,53.55 346.10,53.35 346.40,54.83 346.70,56.16 347.00,53.77 347.30,54.31 347.60,53.85 347.90,55.56 348.20,55.35 348.50,55.43 348.80,54.06 349.10,54.54 349.40,54.20 349.70,54.28 350.00,54.51 350.30,55.19 350.60,53.21 350.90,56.14 351.20,54.96 351.50,56.63 351.80,56.03 352.10,55.01 352.40,55.22 352.70,55.76 353.00,54.01 353.30,55.79 353.60,54.85 353.90,55.04 354.20,54.30 354.50,54.79 354.80,54.02 355.10,53.92 355.40,55.09 355.70,55.61 356.00,55.05 356.30,53.52 356.60,54.58 356.90,54.22 357.20,54.61 357.50,54.16 357.80,54.28 358.10,55.07 358.40,54.49 358.70,54.79 359.00,54.35 359.30,53.95 359.60,54.40 359.90,53.39 360.20,55.06 360.50,54.73 360.80,54.63 361.10,55.68 361.40,53.83 361.70,55.80 362.00,55.53 362.30,55.01 362.60,53.88 362.90,55.07 363.20,54.31 363.50,54.03 363.80,54.86 364.10,55.01 364.40,53.98 364.70,54.68 365.00,56.76 365.30,53.80 365.60,55.18 365.90,54.48 366.20,54.11 366.50,55.15 366.80,53.36 367.10,53.03 367.40,54.70 367.70,54.92 368.00,54.34 368.30,55.69 368.60,54.35 368.90,54.89 369.20,53.29 369.50,56.10 369.80,54.25 370.10,54.63 370.40,55.11 370.70,54.04 371.00,55.01 371.30,54.74 371.60,55.71 371.90,53.68 372.20,54.57 372.50,54.61 372.80,54.07 373.10,53.67 373.40,54.92 373.70,53.18 374.00,53.40 374.30,54.52 374.60,54.53 374.90,53.85 375.20,54.08 375.50,53.52 375.80,55.11 376.10,54.84 376.40,56.12 376.70,53.95 377.00,55.16 377.30,54.25 377.60,54.44 377.90,53.28 378.20,56.62 378.50,55.17 378.80,55.13 379.10,54.64 379.40,53.49 379.70,53.22 380.00,53.32 380.30,55.03 380.60,53.72 380.90,54.44 381.20,54.64 381.50,54.52 381.80,54.05 382.10,54.10 382.40,54.66 382.70,54.55 383.00,53.58 383.30,55.49 383.60,55.37 383.90,55.30 384.20,55.05 384.50,54.26 384.80,56.10 385.10,54.12 385.40,54.27 385.70,54.14 386.00,55.50 386.30,55.07 386.60,53.94 386.90,54.68 387.20,54.33 387.50,55.83 387.80,55.76 388.10,54.53 388.40,54.92 388.70,55.01 389.00,55.62 389.30,55.47 389.60,55.20 389.90,55.10 390.20,54.74 390.50,54.28 390.80,55.39 391.10,56.03 391.40,56.56 391.70,54.69 392.00,55.38 392.30,54.49 392.60,54.94 392.90,54.27 393.20,54.93 393.50,54.33 393.80,54.86 394.10,55.57 394.40,54.07 394.70,54.48 395.00,54.37 395.30,55.53 395.60,55.07 395.90,54.86 396.20,54.90 396.50,55.73 396.80,56.82 397.10,54.77 397.40,55.49 397.70,55.22 398.00,54.27 398.30,53.93 398.60,54.60 398.90,54.70 399.20,54.99 399.50,54.67 399.80,54.26 400.10,56.57 400.40,53.42 400.70,54.24 401.00,56.96 401.30,56.40 401.60,55.89 401.90,55.75 402.20,58.37 402.50,57.09 402.80,56.41 403.10,57.49 403.40,58.94 403.70,57.85 404.00,57.79 404.30,58.00 404.60,58.44 404.90,57.48 405.20,58.24 405.50,59.02 405.80,60.50 406.10,57.44 406.40,58.41 406.70,57.25 407.00,59.97 407.30,56.90 407.60,56.83 407.90,58.28 408.20,58.22 408.50,55.88 408.80,58.41 409.10,57.35 409.40,57.25 409.70,56.34 410.00,54.76 410.30,57.95 410.60,55.01 410.90,55.45 411.20,55.06 411.50,56.21 411.80,54.65 412.10,54.43 412.40,55.38 412.70,55.25 413.00,54.58 413.30,54.58 413.60,54.84 413.90,54.16 414.20,53.43 414.50,53.73 414.80,54.80 415.10,54.52 415.40,54.45 415.70,54.15 416.00,53.03 416.30,53.01 416.60,52.96 416.90,51.94 417.20,51.47 417.50,51.45 417.80,52.16 418.10,51.68 418.40,52.09 418.70,52.68 419.00,51.68 419.30,51.08 419.60,50.56 419.90,49.98 420.20,50.84 420.50,50.25 420.80,50.99 421.10,49.67 421.40,50.01 421.70,48.68 422.00,50.59 422.30,48.57 422.60,48.75 422.90,49.73 423.20,48.19 423.50,49.90 423.80,50.78 424.10,47.26 424.40,48.63 424.70,49.63 425.00,48.86 425.30,46.55 425.60,46.90 425.90,47.36 426.20,45.75 426.50,45.20 426.80,46.37 427.10,46.65 427.40,46.11 427.70,47.15 428.00,46.12 428.30,46.22 428.60,46.63 428.90,46.12 429.20,44.34 429.50,44.67 429.80,44.90 430.10,43.22 430.40,44.25 430.70,43.79 431.00,43.13 431.30,43.80 431.60,42.67 431.90,44.33 432.20,43.69 432.50,42.65 432.80,42.28 433.10,42.47 433.40,41.20 433.70,43.12 434.00,42.72 434.30,43.24 434.60,43.72 434.90,41.35 435.20,43.90 435.50,44.39 435.80,43.53 436.10,43.38 436.40,43.23 436.70,44.73 437.00,42.11 437.30,42.91 437.60,43.18 437.90,46.20 438.20,42.05 438.50,43.61 438.80,44.64 439.10,44.82 439.40,44.98 439.70,44.00 440.00,42.28 440.30,43.33 440.60,43.85 440.90,44.34 441.20,44.25 441.50,44.55 441.80,44.45 442.10,45.06 442.40,42.76 442.70,44.93 443.00,45.92 443.30,44.69 443.60,44.96 443.90,42.04 444.20,44.55 444.50,43.88 444.80,44.00 445.10,45.99 445.40,44.48 445.70,47.50 446.00,44.90 446.30,47.04 446.60,47.33 446.90,48.22 447.20,49.19 447.50,48.59 447.80,49.24 448.10,47.47 448.40,48.16 448.70,49.09 449.00,50.32 449.30,51.21 449.60,49.53 449.90,50.53 450.20,50.99 450.50,51.22 450.80,51.29 451.10,50.51 451.40,50.58 451.70,52.63 452.00,50.90 452.30,53.86 452.60,52.71 452.90,52.61 453.20,53.26 453.50,52.35 453.80,52.42 454.10,53.55 454.40,52.16 454.70,54.98 455.00,54.06 455.30,54.48 455.60,54.86 455.90,54.80 456.20,54.53 456.50,53.22 456.80,54.70 457.10,54.94 457.40,54.43 457.70,54.02 458.00,54.68 458.30,54.50 458.60,53.52 458.90,54.12 459.20,53.63 459.50,53.66 459.80,54.50 460.10,54.23 460.40,54.96 460.70,54.27 461.00,55.86 461.30,54.71 461.60,55.50 461.90,54.84 462.20,55.64 462.50,54.33 462.80,56.49 463.10,56.38 463.40,56.32 463.70,55.89 464.00,55.71 464.30,55.57 464.60,54.45 464.90,56.43 465.20,56.17 465.50,57.39 465.80,55.75 466.10,54.59 466.40,55.94 466.70,57.23 467.00,56.63 467.30,54.50 467.60,55.14 467.90,56.16 468.20,54.94 468.50,55.49 468.80,54.99 469.10,55.87 469.40,54.57 469.70,56.65 470.00,55.12 470.30,53.86 470.60,55.28 470.90,54.35 471.20,54.78 471.50,55.82 471.80,54.29 472.10,54.63 472.40,54.50 472.70,54.66 473.00,53.16 473.30,53.90 473.60,53.98 473.90,53.89 474.20,53.17 474.50,54.12 474.80,54.73 475.10,54.91 475.40,54.28 475.70,55.59 476.00,53.09 476.30,53.06 476.60,52.53 476.90,52.71 477.20,54.31 477.50,52.70 477.80,54.14 478.10,52.89 478.40,52.94 478.70,51.83 479.00,52.20 479.30,51.64 479.60,52.76 479.90,50.80 480.20,51.65 480.50,51.26 480.80,51.14 481.10,49.33 481.40,52.54 481.70,49.59 482.00,52.12 482.30,49.79 482.60,50.88 482.90,50.73 483.20,50.96 483.50,51.32 483.80,51.44 484.10,52.68 484.40,50.11 484.70,51.89 485.00,52.01 485.30,48.96 485.60,50.33 485.90,49.39 486.20,50.75 486.50,50.13 486.80,51.65 487.10,49.86 487.40,52.28 487.70,51.63 488.00,52.37 488.30,49.18 488.60,50.45 488.90,51.09 489.20,51.36 489.50,52.62 489.80,50.44 490.10,52.75 490.40,52.47 490.70,53.14 491.00,52.11 491.30,52.77 491.60,53.01 491.90,54.20 492.20,52.82 492.50,51.87 492.80,53.71 493.10,55.94 493.40,54.97 493.70,55.26 494.00,54.54 494.30,55.23 494.60,54.74 494.90,53.99 495.20,55.06 495.50,54.17 495.80,55.58 496.10,53.08 496.40,54.48 496.70,55.82 497.00,55.18 497.30,54.75 497.60,56.88 497.90,55.63 498.20,55.39 498.50,56.68 498.80,54.93 499.10,55.46 499.40,53.21 499.70,54.86 500.00,55.47 500.30,54.28 500.60,56.04 500.90,56.22 501.20,55.39 501.50,54.69 501.80,54.29 502.10,56.48 502.40,57.35 502.70,55.57 503.00,56.18 503.30,56.72 503.60,55.30 503.90,56.51 504.20,54.56 504.50,54.80 504.80,57.00 505.10,54.65 505.40,56.20 505.70,53.66 506.00,54.15 506.30,56.33 506.60,55.02 506.90,54.41 507.20,54.58 507.50,54.31 507.80,55.64 508.10,55.19 508.40,54.45 508.70,53.64 509.00,53.81 509.30,55.60 509.60,54.74 509.90,55.89 510.20,54.49 510.50,55.76 510.80,54.46 511.10,54.76 511.40,56.93 511.70,56.15 512.00,55.54 512.30,55.95 512.60,54.88 512.90,54.27 513.20,56.80 513.50,57.12 513.80,56.71 514.10,56.87 514.40,54.72 514.70,56.27 515.00,55.92 515.30,56.13 515.60,56.00 515.90,55.14 516.20,56.07 516.50,54.87 516.80,55.29 517.10,55.89 517.40,54.32 517.70,54.96 518.00,55.57 518.30,56.59 518.60,57.47 518.90,56.51 519.20,55.72 519.50,55.15 519.80,55.68 520.10,55.93 520.40,56.38 520.70,55.02 521.00,54.63 521.30,55.23 521.60,55.71 521.90,56.91 522.20,55.75 522.50,55.97 522.80,56.26 523.10,55.71 523.40,55.95 523.70,55.77 524.00,57.95 524.30,55.67 524.60,55.97 524.90,55.53 525.20,56.92 525.50,57.61 525.80,58.00 526.10,56.64 526.40,55.23 526.70,55.42 527.00,55.70 527.30,55.68 527.60,55.40 527.90,58.05 528.20,54.73 528.50,56.46 528.80,56.87 529.10,56.27 529.40,56.41 529.70,56.83 530.00,56.16 530.30,55.95 530.60,55.28 530.90,55.36 531.20,54.31 531.50,53.64 531.80,55.42 532.10,56.41 532.40,54.46 532.70,53.12 533.00,55.08 533.30,54.98 533.60,54.18 533.90,53.75 534.20,53.81 534.50,54.49 534.80,54.57 535.10,53.55 535.40,53.93 535.70,53.51 536.00,53.68 536.30,53.95 536.60,54.09 536.90,53.85 537.20,54.21 537.50,53.40 537.80,52.74 538.10,53.83 538.40,53.33 538.70,52.89 539.00,51.71 539.30,53.70 539.60,50.04 539.90,51.43 540.20,50.86 540.50,49.41 540.80,50.29 541.10,50.55 541.40,49.85 541.70,51.02 542.00,51.20 542.30,51.81 542.60,50.93 542.90,52.27 543.20,51.27 543.50,52.70 543.80,51.10 544.10,54.39 544.40,51.59 544.70,51.60 545.00,54.45 545.30,53.23 545.60,54.31 545.90,53.98 546.20,52.97 546.50,53.81 546.80,55.45 547.10,53.42 547.40,54.86 547.70,53.13 548.00,55.22 548.30,53.40 548.60,54.44 548.90,53.99 549.20,52.66 549.50,54.13 549.80,54.31 550.10,53.78 550.40,54.27 550.70,54.45 551.00,54.15 551.30,54.92 551.60,53.54 551.90,53.77 552.20,53.68 552.50,53.40 552.80,53.03 553.10,55.34 553.40,53.49 553.70,53.57 554.00,55.22 554.30,53.79 554.60,54.00 554.90,54.21 555.20,53.36 555.50,54.33 555.80,53.45 556.10,54.45 556.40,53.97 556.70,54.56 557.00,55.18 557.30,55.92 557.60,52.41 557.90,54.38 558.20,54.03 558.50,54.70 558.80,54.26 559.10,54.09 559.40,53.57 559.70,53.68 560.00,54.62 560.30,53.80 560.60,53.09 560.90,54.31 561.20,53.57 561.50,53.56 561.80,52.38 562.10,53.62 562.40,54.04 562.70,52.34 563.00,54.21 563.30,54.46 563.60,53.72 563.90,54.18 564.20,54.09 564.50,54.31 564.80,54.01 565.10,54.29 565.40,53.11 565.70,53.41 566.00,53.63 566.30,53.23 566.60,53.80 566.90,54.28 567.20,53.59 567.50,52.33 567.80,54.18 568.10,53.41 568.40,52.23 568.70,53.31 569.00,53.38 569.30,53.78 569.60,53.51 569.90,53.34 570.20,53.75 570.50,52.53 570.80,51.51 571.10,51.25 571.40,51.39 571.70,50.43 572.00,51.52 572.30,51.20 572.60,48.86 572.90,49.76 573.20,49.97 573.50,48.28 573.80,49.71 574.10,49.02 574.40,48.07 574.70,47.86 575.00,48.73 575.30,48.99 575.60,47.83 575.90,49.02 576.20,48.43 576.50,48.20 576.80,45.20 577.10,45.04 577.40,46.31 577.70,43.50 578.00,43.43 578.30,43.97 578.60,42.79 578.90,41.69 579.20,41.29 579.50,40.25 579.80,40.58 580.10,39.92 580.40,41.07 580.70,42.96 581.00,42.73 581.30,41.80 581.60,43.77 581.90,44.84 582.20,44.33 582.50,46.78 582.80,46.25 583.10,47.58 583.40,47.49 583.70,47.29 584.00,49.09 584.30,47.83 584.60,50.56 584.90,49.26 585.20,48.16 585.50,50.74 585.80,50.76 586.10,51.91 586.40,50.88 586.70,52.21 587.00,51.62 587.30,52.98 587.60,50.26 587.90,51.55 588.20,51.70 588.50,52.46 588.80,52.85 589.10,55.32 589.40,54.09 589.70,53.75 590.00,54.05 590.30,53.09 590.60,54.64 590.90,55.20 591.20,54.86 591.50,55.28 591.80,54.07 592.10,55.42 592.40,53.42 592.70,55.13 593.00,56.09 593.30,55.09 593.60,54.74 593.90,54.98 594.20,54.38 594.50,55.57 594.80,54.63 595.10,54.74 595.40,55.56 595.70,54.56 596.00,55.13 596.30,53.96 596.60,54.88 596.90,53.98 597.20,53.05 597.50,54.41 597.80,52.17 598.10,55.03 598.40,54.71 598.70,53.22" fill="none" stroke="#c01c1c" stroke-width="1.0" stroke-linejoin="round" />
</g>
<g clip-path="url(#cBR)">
<polyline points="333.50,266.25 333.80,266.74 334.10,267.04 334.40,267.42 334.70,265.85 335.00,266.15 335.30,266.05 335.60,266.35 335.90,266.43 336.20,265.88 336.50,266.64 336.80,265.81 337.10,266.77 337.40,266.06 337.70,266.65 338.00,266.73 338.30,266.45 338.60,266.21 338.90,266.12 339.20,265.95 339.50,267.28 339.80,266.81 340.10,267.44 340.40,266.70 340.70,266.68 341.00,266.22 341.30,266.38 341.60,265.73 341.90,267.01 342.20,267.01 342.50,267.26 342.80,267.24 343.10,266.00 343.40,265.38 343.70,266.90 344.00,266.64 344.30,266.02 344.60,266.05 344.90,266.92 345.20,267.41 345.50,266.73 345.80,266.17 346.10,266.93 346.40,267.07 346.70,265.91 347.00,266.89 347.30,266.02 347.60,266.52 347.90,266.76 348.20,266.54 348.50,265.75 348.80,266.70 349.10,265.79 349.40,266.86 349.70,265.54 350.00,266.26 350.30,265.39 350.60,264.43 350.90,263.88 351.20,264.19 351.50,265.75 351.80,266.12 352.10,267.06 352.40,265.93 352.70,267.05 353.00,266.95 353.30,267.20 353.60,267.22 353.90,266.05 354.20,265.84 354.50,266.11 354.80,266.18 355.10,267.21 355.40,265.50 355.70,266.53 356.00,267.01 356.30,266.42 356.60,265.78 356.90,266.06 357.20,266.78 357.50,266.88 357.80,266.42 358.10,266.67 358.40,267.21 358.70,266.33 359.00,267.51 359.30,266.00 359.60,267.47 359.90,265.77 360.20,267.18 360.50,266.51 360.80,265.72 361.10,266.56 361.40,266.78 361.70,266.80 362.00,266.56 362.30,266.41 362.60,266.35 362.90,266.55 363.20,266.17 363.50,264.45 363.80,263.15 364.10,262.46 364.40,264.15 364.70,265.79 365.00,267.12 365.30,265.06 365.60,264.93 365.90,264.51 366.20,264.59 366.50,265.69 366.80,263.97 367.10,264.08 367.40,263.95 367.70,262.90 368.00,263.41 368.30,263.77 368.60,263.74 368.90,264.14 369.20,264.11 369.50,264.34 369.80,263.40 370.10,265.34 370.40,265.03 370.70,264.21 371.00,264.43 371.30,264.20 371.60,263.46 371.90,265.49 372.20,264.46 372.50,265.28 372.80,265.27 373.10,262.96 373.40,262.83 373.70,263.64 374.00,262.64 374.30,263.03 374.60,263.65 374.90,264.60 375.20,264.03 375.50,265.29 375.80,266.28 376.10,265.50 376.40,264.97 376.70,264.89 377.00,264.71 377.30,264.19 377.60,263.22 377.90,263.73 378.20,260.86 378.50,262.47 378.80,260.64 379.10,258.90 379.40,256.80 379.70,259.67 380.00,257.34 380.30,257.13 380.60,257.84 380.90,254.70 381.20,255.63 381.50,255.13 381.80,255.53 382.10,253.91 382.40,256.92 382.70,256.06 383.00,257.97 383.30,254.16 383.60,250.42 383.90,250.19 384.20,246.48 384.50,244.72 384.80,243.66 385.10,242.25 385.40,238.78 385.70,238.77 386.00,238.51 386.30,232.74 386.60,230.35 386.90,226.41 387.20,221.94 387.60,213.80 388.38,213.80 389.18,223.30 389.98,213.80 390.40,213.80 391.40,239.00 392.40,213.80 392.93,213.80 393.73,231.33 394.53,213.80 396.80,213.80 397.80,232.00 398.80,213.80 399.45,213.80 400.25,222.17 401.05,213.80 402.50,213.80 403.50,242.00 404.50,213.80 406.80,213.80 407.80,229.00 408.80,213.80 409.32,213.80 410.12,228.70 410.92,213.80 411.00,213.80 412.00,222.00 413.00,213.80 413.53,213.80 414.33,233.99 415.13,213.80 416.00,213.80 417.00,240.00 418.00,213.80 418.40,213.80 419.20,231.76 420.00,213.80 421.30,213.80 422.30,243.00 423.30,213.80 425.30,213.80 426.30,232.00 427.30,213.80 429.00,213.80 430.00,243.00 431.00,213.80 432.40,213.80 433.40,239.00 434.40,213.80 435.00,213.80 435.80,236.94 436.60,213.80 436.70,213.80 437.70,242.00 438.70,213.80 439.30,213.80 440.10,219.73 440.90,213.80 442.40,213.80 443.40,248.00 444.40,213.80 446.50,213.80 447.50,236.00 448.50,213.80 449.38,213.80 450.18,228.52 450.98,213.80 451.00,213.80 452.00,240.00 453.00,213.80 455.00,213.80 456.00,228.00 457.00,213.80 457.50,213.80 458.50,235.00 459.50,213.80 461.00,213.80 462.00,235.00 463.00,213.80 465.00,213.80 466.00,226.00 467.00,213.80 468.00,213.80 469.00,230.00 470.00,213.80 472.00,213.80 473.00,236.00 474.00,213.80 476.00,213.80 477.00,245.00 478.00,213.80 480.00,213.80 481.00,228.00 482.00,213.80 484.00,213.80 485.00,237.00 486.00,213.80 487.00,213.80 488.00,230.00 489.00,213.80 489.30,213.80 490.30,245.00 491.30,213.80 491.50,213.80 492.00,227.39 492.30,223.93 492.60,225.68 492.90,226.95 493.20,221.38 493.50,219.37 493.80,221.55 494.10,227.43 494.40,230.60 494.70,227.86 495.00,223.10 495.30,233.98 495.60,224.41 495.90,229.33 496.20,230.09 496.50,233.83 496.80,237.55 497.10,230.25 497.40,235.00 497.70,237.97 498.00,234.50 498.30,238.78 498.60,240.63 498.90,237.50 499.20,238.75 499.50,243.11 499.80,243.74 500.10,245.77 500.40,250.91 500.70,248.62 501.00,248.37 501.30,246.96 501.60,250.56 501.90,248.54 502.20,252.38 502.50,251.86 502.80,247.31 503.10,248.61 503.40,250.08 503.70,249.87 504.00,248.80 504.30,248.95 504.60,251.59 504.90,250.04 505.20,248.87 505.50,250.53 505.80,252.13 506.10,252.92 506.40,250.67 506.70,249.92 507.00,249.03 507.30,249.08 506.80,247.22 507.35,243.00 507.65,243.00 508.20,247.22 507.60,250.04 507.90,250.60 508.20,250.83 508.50,249.44 508.80,251.37 509.10,251.69 509.40,251.74 509.70,248.16 510.00,251.91 510.30,252.16 510.60,255.31 510.90,253.34 511.20,255.16 511.50,255.45 511.80,257.84 512.10,257.55 512.40,258.53 512.70,259.78 513.00,259.44 513.30,259.70 513.60,258.86 513.90,259.92 514.20,262.83 514.50,260.79 514.80,261.75 515.10,261.57 515.40,261.81 515.70,260.35 516.00,264.54 516.30,261.79 516.60,261.95 516.90,263.77 517.20,260.30 517.50,262.28 517.80,261.60 518.10,259.81 518.40,260.59 518.70,257.72 519.00,256.89 519.30,255.03 519.60,254.73 519.90,255.18 520.20,249.74 520.50,251.34 520.80,248.25 521.10,247.62 520.50,245.05 521.05,240.00 521.35,240.00 521.90,245.05 521.40,244.32 521.70,244.29 522.00,246.15 522.30,248.73 522.60,248.69 522.90,249.90 523.20,250.87 523.50,248.94 523.80,253.26 524.10,251.86 524.40,253.80 524.70,253.54 525.00,254.80 525.30,255.96 525.60,253.57 525.90,258.88 526.20,257.68 526.50,259.36 526.80,259.22 527.10,259.84 527.40,259.25 527.70,260.89 528.00,260.01 528.30,262.09 528.60,263.80 528.90,261.11 529.20,262.34 529.50,262.83 529.80,264.24 530.10,264.49 530.40,263.84 530.70,264.09 531.00,264.14 531.30,264.16 531.60,264.40 531.90,264.64 532.20,264.76 532.50,264.67 532.80,263.98 533.10,264.60 533.40,263.92 533.70,264.11 534.00,262.48 534.30,262.73 534.60,263.12 534.90,263.06 535.20,262.45 535.50,263.70 535.80,261.96 536.10,263.00 536.40,262.10 536.70,260.56 537.00,259.43 537.30,258.65 537.60,257.05 537.90,255.13 538.20,254.84 538.50,253.81 538.80,253.14 539.10,251.87 539.40,250.56 539.70,251.05 540.00,251.71 540.30,248.29 540.60,246.41 540.90,247.35 541.20,245.84 541.50,245.45 541.80,244.41 542.10,245.34 542.40,245.65 542.70,247.53 543.00,241.89 542.30,242.01 542.85,239.00 543.15,239.00 543.70,242.01 543.30,240.87 543.60,243.52 543.90,244.36 544.20,247.58 544.50,247.89 544.80,245.99 545.10,244.99 545.40,249.17 545.70,248.67 546.00,251.64 546.30,250.55 546.60,251.22 546.90,250.66 547.20,252.75 547.50,254.88 547.80,253.22 548.10,255.14 548.40,254.89 548.70,257.39 549.00,256.93 549.30,257.35 549.60,256.78 549.90,255.04 550.20,254.41 550.50,257.08 550.80,254.78 551.10,253.61 551.40,253.62 551.70,255.94 552.00,253.61 552.30,254.38 552.60,249.86 552.90,254.91 553.20,252.60 552.50,251.63 553.05,250.00 553.35,250.00 553.90,251.63 553.50,254.86 553.80,253.63 554.10,254.69 554.40,256.54 554.70,258.52 555.00,257.20 555.30,256.71 555.60,259.17 555.90,260.86 556.20,257.54 556.50,258.62 556.80,260.66 557.10,260.08 557.40,258.87 557.70,261.50 558.00,262.27 558.30,262.75 558.60,263.49 558.90,261.27 559.20,262.06 559.50,262.60 559.80,263.12 560.10,262.30 560.40,263.06 560.70,262.56 561.00,263.96 561.30,264.37 561.60,262.98 561.90,264.11 562.20,263.06 562.50,264.22 562.80,263.07 563.10,264.37 563.40,265.10 563.70,265.05 564.00,263.39 564.30,264.80 564.60,264.62 564.90,265.83 565.20,265.15 565.50,265.68 565.80,264.15 566.10,263.51 566.40,262.37 566.70,264.23 567.00,263.58 567.30,263.90 567.60,263.31 567.90,263.51 568.20,264.53 568.50,261.68 568.80,263.31 569.10,263.95 569.40,262.98 569.70,264.38 570.00,261.64 570.30,260.73 570.60,258.62 570.90,257.04 571.20,258.82 571.50,252.16 571.80,252.02 572.10,250.10 572.40,248.08 572.70,244.44 573.00,243.37 573.30,240.20 573.60,240.17 573.90,235.11 573.30,226.75 573.85,217.00 574.15,217.00 574.70,226.75 574.20,229.06 574.50,226.20 574.80,227.86 575.10,226.17 575.40,225.82 575.70,228.43 576.00,224.86 576.30,221.95 576.60,224.54 576.90,231.48 577.20,225.95 577.50,231.80 577.80,233.28 578.10,228.74 578.40,227.34 578.70,230.43 579.00,229.33 579.30,230.32 579.60,228.05 579.90,222.38 580.20,229.67 580.50,223.80 580.80,222.60 581.10,221.72 581.40,216.22 581.70,217.03 582.00,219.98 582.30,221.19 582.60,219.81 582.90,222.79 582.30,219.68 582.85,213.50 583.15,213.50 583.70,219.68 583.20,222.74 583.50,224.18 583.80,225.98 584.10,226.49 584.40,230.77 584.70,235.46 585.00,239.03 585.30,242.00 585.60,245.26 585.90,249.68 586.20,251.62 586.50,253.62 586.80,255.05 587.10,257.63 587.40,260.74 587.70,262.62 588.00,263.74 588.30,263.45 588.60,263.36 588.90,263.04 588.30,263.30 588.85,262.00 589.15,262.00 589.70,263.30 589.20,265.46 589.50,263.25 589.80,264.85 590.10,264.01 590.40,264.77 590.70,263.86 591.00,264.32 591.30,265.48 591.60,266.04 591.90,265.12 592.20,265.96 592.50,265.77 592.80,266.08 593.10,265.80 593.40,265.67 593.70,267.30 594.00,265.83 594.30,266.43 594.60,265.63 594.90,265.94 595.20,265.15 595.50,264.91 595.80,265.17 595.30,264.06 595.85,262.00 596.15,262.00 596.70,264.06 596.10,265.75 596.40,264.20 596.70,265.96 597.00,264.83 597.30,265.03 597.60,263.98 597.90,265.33 597.30,263.87 597.85,263.00 598.15,263.00 598.70,263.87 598.20,264.17 598.50,264.54 598.80,262.57" fill="none" stroke="#000" stroke-width="0.8" stroke-linejoin="round" />
<polyline points="333.30,267.20 333.80,267.20 334.30,267.20 334.80,267.20 335.30,267.20 335.80,267.20 336.30,267.20 336.80,267.20 337.30,267.20 337.80,267.20 338.30,267.20 338.80,267.20 339.30,267.20 339.80,267.20 340.30,267.20 340.80,267.20 341.30,267.20 341.80,267.20 342.30,267.20 342.80,267.20 343.30,267.20 343.80,267.20 344.30,267.20 344.80,267.20 345.30,267.20 345.80,267.20 346.30,267.20 346.80,267.20 347.30,267.20 347.80,267.20 348.30,267.20 348.80,267.20 349.30,267.20 349.80,267.20 350.30,267.20 350.80,267.20 351.30,267.20 351.80,267.20 352.30,267.20 352.80,267.20 353.30,267.20 353.80,267.20 354.30,267.20 354.80,267.20 355.30,267.20 355.80,267.20 356.30,267.20 356.80,267.20 357.30,267.20 357.80,267.20 358.30,267.20 358.80,267.20 359.30,267.20 359.80,267.20 360.30,267.20 360.80,267.20 361.30,267.20 361.80,267.20 362.30,267.20 362.80,267.20 363.30,267.20 363.80,267.20 364.30,267.20 364.80,267.20 365.30,267.20 365.80,267.20 366.30,267.20 366.80,267.20 367.30,267.20 367.80,267.20 368.30,267.20 368.80,267.20 369.30,267.20 369.80,267.20 370.30,267.20 370.80,267.20 371.30,267.20 371.80,267.20 372.30,267.20 372.80,267.20 373.30,267.20 373.80,267.20 374.30,267.20 374.80,267.20 375.30,267.20 375.80,267.20 376.30,267.20 376.80,267.20 377.30,267.20 377.80,267.20 378.30,267.20 378.80,267.20 379.30,267.20 379.80,267.20 380.30,267.20 380.80,267.20 381.30,267.20 381.80,267.20 382.30,267.20 382.80,267.20 383.30,267.20 383.80,267.20 384.30,267.20 384.80,267.20 385.30,267.20 385.80,267.20 386.30,267.20 386.80,267.20 387.30,267.20 387.80,267.20 388.30,267.20 388.80,267.20 389.30,267.20 389.80,267.20 390.30,267.20 390.80,267.20 391.30,267.20 391.80,267.20 392.30,267.20 392.80,267.20 393.30,267.20 393.80,267.20 394.30,267.20 394.80,267.20 395.30,267.20 395.80,267.20 396.30,267.20 396.80,267.20 397.30,267.20 397.80,267.20 398.30,267.20 398.80,267.20 399.30,267.20 399.80,267.20 400.30,267.20 400.80,267.20 401.30,267.20 401.80,267.20 402.30,267.20 402.80,267.20 403.30,267.20 403.80,267.20 404.30,267.20 404.80,267.20 405.30,267.20 405.80,267.20 406.30,267.20 406.80,267.20 407.30,267.20 407.80,267.20 408.30,267.20 408.80,267.20 409.30,267.20 409.80,267.20 410.30,267.20 410.80,267.20 411.30,267.20 411.80,267.20 412.30,267.20 412.80,267.20 413.30,267.20 413.80,267.20 414.30,267.20 414.80,267.20 415.30,267.20 415.80,267.20 416.30,267.20 416.80,267.20 417.30,267.20 417.80,267.20 418.30,267.20 418.80,267.20 419.30,267.20 419.80,267.20 420.30,267.20 420.80,267.20 421.30,267.20 421.80,267.20 422.30,267.20 422.80,267.20 423.30,267.20 423.80,267.20 424.30,267.20 424.80,267.20 425.30,267.20 425.80,267.20 426.30,267.20 426.80,267.20 427.30,267.20 427.80,267.20 428.30,267.20 428.80,267.20 429.30,267.20 429.80,267.20 430.30,267.20 430.80,267.20 431.30,267.20 431.80,267.20 432.30,267.20 432.80,267.20 433.30,267.20 433.80,267.20 434.30,267.20 434.80,267.20 435.30,267.20 435.80,267.20 436.30,267.20 436.80,267.20 437.30,267.20 437.80,267.20 438.30,267.20 438.80,267.20 439.30,267.20 439.80,267.20 440.30,267.20 440.80,267.20 441.30,267.20 441.80,267.20 442.30,267.20 442.80,267.20 443.30,267.20 443.80,267.20 444.30,267.20 444.80,267.20 445.30,267.20 445.80,267.20 446.30,267.20 446.80,267.20 447.30,267.20 447.80,267.20 448.30,267.20 448.80,267.20 449.30,267.20 449.80,267.20 450.30,267.20 450.80,267.20 451.30,267.20 451.80,267.20 452.30,267.20 452.80,267.20 453.30,267.20 453.80,267.20 454.30,267.20 454.80,267.20 455.30,267.20 455.80,267.20 456.30,267.20 456.80,267.20 457.30,267.20 457.80,267.20 458.30,267.20 458.80,267.20 459.30,267.20 459.80,267.20 460.30,267.20 460.80,267.20 461.30,267.20 461.80,267.20 462.30,267.20 462.80,267.20 463.30,267.20 463.80,267.20 464.30,267.20 464.80,267.20 465.30,267.20 465.80,267.20 466.30,267.20 466.80,267.20 467.30,267.20 467.80,267.20 468.30,267.20 468.80,267.20 469.30,267.20 469.80,267.20 470.30,267.20 470.80,267.20 471.30,267.20 471.80,267.20 472.30,267.20 472.80,267.20 473.30,267.20 473.80,267.20 474.30,267.20 474.80,267.20 475.30,267.20 475.80,267.20 476.30,267.20 476.80,267.20 477.30,267.20 477.80,267.20 478.30,267.20 478.80,267.20 479.30,267.20 479.80,267.20 480.30,267.20 480.80,267.20 481.30,267.20 481.80,267.20 482.30,267.20 482.80,267.20 483.30,267.20 483.80,267.20 484.30,267.20 484.80,267.20 485.30,267.20 485.80,267.20 486.30,267.20 486.80,267.20 487.30,267.20 487.80,267.20 488.30,267.20 488.80,267.20 489.30,267.20 489.80,267.20 490.30,267.20 490.80,267.20 491.30,267.20 491.80,267.20 492.30,267.20 492.80,267.20 493.30,267.20 493.80,267.20 494.30,267.20 494.80,267.20 495.30,267.20 495.80,267.20 496.30,267.20 496.80,267.20 497.30,267.20 497.80,267.20 498.30,267.20 498.80,267.20 499.30,267.20 499.80,267.20 500.30,267.20 500.80,267.20 501.30,267.20 501.80,267.20 502.30,267.20 502.80,267.20 503.30,267.20 503.80,267.20 504.30,267.20 504.80,267.20 505.30,267.20 505.80,267.20 506.30,267.20 506.80,267.20 507.30,267.20 507.80,267.20 508.30,267.20 508.80,267.20 509.30,267.20 509.80,267.19 510.30,267.19 510.80,267.18 511.30,267.16 511.80,267.13 512.30,267.07 512.80,266.99 513.30,266.86 513.80,266.67 514.30,266.39 514.80,265.99 515.30,265.45 515.80,264.74 516.30,263.84 516.80,262.72 517.30,261.40 517.80,259.90 518.30,258.26 518.80,256.55 519.30,254.86 519.80,253.29 520.30,251.95 520.80,250.95 521.30,250.35 521.80,250.21 522.30,250.54 522.80,251.31 523.30,252.45 523.80,253.89 524.30,255.52 524.80,257.23 525.30,258.93 525.80,260.52 526.30,261.95 526.80,263.19 527.30,264.22 527.80,265.05 528.30,265.69 528.80,266.17 529.30,266.51 529.80,266.76 530.30,266.92 530.80,267.03 531.30,267.09 531.80,267.13 532.30,267.14 532.80,267.14 533.30,267.11 533.80,267.07 534.30,266.98 534.80,266.85 535.30,266.64 535.80,266.34 536.30,265.92 536.80,265.34 537.30,264.56 537.80,263.57 538.30,262.34 538.80,260.87 539.30,259.18 539.80,257.33 540.30,255.37 540.80,253.42 541.30,251.59 541.80,249.99 542.30,248.75 542.80,247.97 543.30,247.70 543.80,247.97 544.30,248.75 544.80,249.99 545.30,251.58 545.80,253.41 546.30,255.34 546.80,257.25 547.30,259.02 547.80,260.55 548.30,261.74 548.80,262.52 549.30,262.84 549.80,262.69 550.30,262.10 550.80,261.16 551.30,260.02 551.80,258.91 552.30,258.05 552.80,257.62 553.30,257.73 553.80,258.39 554.30,259.49 554.80,260.85 555.30,262.29 555.80,263.63 556.30,264.76 556.80,265.64 557.30,266.26 557.80,266.67 558.30,266.92 558.80,267.06 559.30,267.13 559.80,267.17 560.30,267.19 560.80,267.20 561.30,267.20 561.80,267.20 562.30,267.20 562.80,267.20 563.30,267.20 563.80,267.20 564.30,267.20 564.80,267.20 565.30,267.19 565.80,267.17 566.30,267.15 566.80,267.09 567.30,266.99 567.80,266.81 568.30,266.49 568.80,265.97 569.30,265.16 569.80,263.94 570.30,262.19 570.80,259.80 571.30,256.71 571.80,252.89 572.30,248.42 572.80,243.50 573.30,238.39 573.80,233.45 574.30,229.04 574.80,225.48 575.30,222.95 575.80,221.48 576.30,220.95 576.80,221.07 577.30,221.49 577.80,221.84 578.30,221.87 578.80,221.45 579.30,220.63 579.80,219.63 580.30,218.76 580.80,218.36 581.30,218.76 581.80,220.16 582.30,222.63 582.80,226.10 583.30,230.39 583.80,235.20 584.30,240.22 584.80,245.16 585.30,249.75 585.80,253.81 586.30,257.25 586.80,260.04 587.30,262.20 587.80,263.82 588.30,264.99 588.80,265.80 589.30,266.34 589.80,266.69 590.30,266.91 590.80,267.04 591.30,267.11 591.80,267.15 592.30,267.18 592.80,267.19 593.30,267.19 593.80,267.20 594.30,267.20 594.80,267.20 595.30,267.20 595.80,267.20 596.30,267.20 596.80,267.20 597.30,267.20 597.80,267.20 598.30,267.20 598.80,267.20" fill="none" stroke="#078628" stroke-width="1.1" stroke-linejoin="round" />
<polyline points="333.50,193.93 333.80,196.51 334.10,196.09 334.40,194.77 334.70,195.53 335.00,195.83 335.30,195.61 335.60,195.59 335.90,196.45 336.20,196.95 336.50,197.75 336.80,195.29 337.10,194.33 337.40,196.48 337.70,194.94 338.00,194.17 338.30,197.99 338.60,196.69 338.90,194.86 339.20,194.90 339.50,195.99 339.80,195.67 340.10,196.07 340.40,195.19 340.70,192.57 341.00,192.55 341.30,196.80 341.60,195.67 341.90,192.03 342.20,195.81 342.50,195.77 342.80,196.40 343.10,195.32 343.40,195.79 343.70,194.03 344.00,192.85 344.30,194.91 344.60,195.45 344.90,194.73 345.20,192.89 345.50,194.51 345.80,194.17 346.10,196.29 346.40,193.40 346.70,193.67 347.00,194.24 347.30,195.41 347.60,196.88 347.90,195.85 348.20,193.03 348.50,193.64 348.80,197.50 349.10,195.44 349.40,194.82 349.70,195.78 350.00,196.08 350.30,197.68 350.60,195.41 350.90,194.04 351.20,193.67 351.50,196.57 351.80,195.11 352.10,195.38 352.40,195.84 352.70,193.60 353.00,197.55 353.30,194.72 353.60,194.79 353.90,194.69 354.20,195.30 354.50,194.56 354.80,194.56 355.10,196.02 355.40,197.03 355.70,196.15 356.00,193.28 356.30,194.48 356.60,197.14 356.90,195.03 357.20,195.23 357.50,194.70 357.80,197.31 358.10,194.35 358.40,194.33 358.70,196.55 359.00,192.64 359.30,194.31 359.60,198.51 359.90,194.96 360.20,195.54 360.50,191.98 360.80,194.73 361.10,193.42 361.40,193.82 361.70,193.69 362.00,195.00 362.30,194.42 362.60,196.32 362.90,191.42 363.20,193.79 363.50,195.85 363.80,195.31 364.10,196.85 364.40,194.02 364.70,196.21 365.00,195.48 365.30,192.81 365.60,192.03 365.90,197.50 366.20,196.32 366.50,194.83 366.80,193.46 367.10,191.90 367.40,194.05 367.70,194.72 368.00,196.93 368.30,194.04 368.60,194.35 368.90,194.34 369.20,196.07 369.50,196.83 369.80,197.28 370.10,194.49 370.40,195.57 370.70,192.96 371.00,193.40 371.30,193.88 371.60,195.63 371.90,191.12 372.20,194.46 372.50,197.28 372.80,195.93 373.10,196.45 373.40,193.47 373.70,194.79 374.00,192.91 374.30,196.69 374.60,193.70 374.90,193.62 375.20,192.73 375.50,194.65 375.80,196.47 376.10,194.18 376.40,194.03 376.70,193.47 377.00,195.87 377.30,194.32 377.60,194.89 377.90,194.21 378.20,194.34 378.50,195.16 378.80,195.09 379.10,191.91 379.40,194.01 379.70,193.73 380.00,194.73 380.30,195.81 380.60,192.89 380.90,192.87 381.20,191.75 381.50,192.90 381.80,195.54 382.10,192.77 382.40,195.62 382.70,193.71 383.00,193.30 383.30,193.72 383.60,192.74 383.90,194.01 384.20,193.43 384.50,190.59 384.80,192.15 385.10,194.02 385.40,192.79 385.70,189.92 386.00,194.64 386.30,195.19 386.60,191.19 386.90,192.98 387.20,194.12 387.50,193.57 387.80,193.77 388.10,190.57 388.40,194.25 388.70,192.20 389.00,191.87 389.30,193.32 389.60,194.04 389.90,193.83 390.20,191.39 390.50,192.98 390.80,190.16 391.10,193.60 391.40,191.07 391.70,191.05 392.00,193.35 392.30,192.54 392.60,190.96 392.90,193.06 393.20,194.70 393.50,189.84 393.80,192.19 394.10,192.09 394.40,192.23 394.70,192.04 395.00,193.32 395.30,192.88 395.60,191.91 395.90,193.12 396.20,191.01 396.50,194.23 396.80,191.56 397.10,191.14 397.40,192.27 397.70,189.91 398.00,189.61 398.30,190.19 398.60,193.32 398.90,192.13 399.20,190.16 399.50,190.92 399.80,191.03 400.10,189.92 400.40,190.20 400.70,189.32 401.00,188.59 401.30,189.38 401.60,192.45 401.90,191.32 402.20,190.00 402.50,190.78 402.80,188.44 403.10,190.65 403.40,189.76 403.70,189.18 404.00,190.45 404.30,189.52 404.60,193.06 404.90,188.01 405.20,189.14 405.50,189.88 405.80,189.13 406.10,192.03 406.40,189.41 406.70,185.98 407.00,187.75 407.30,184.80 407.60,188.82 407.90,188.01 408.20,189.64 408.50,190.06 408.80,186.91 409.10,188.52 409.40,188.23 409.70,190.97 410.00,188.29 410.30,187.28 410.60,187.02 410.90,188.46 411.20,184.34 411.50,185.59 411.80,185.30 411.30,183.85 411.85,178.00 412.15,178.00 412.70,183.85 412.10,184.31 412.40,187.97 412.70,183.32 413.00,189.32 413.30,183.93 413.60,184.64 413.90,190.59 414.20,183.38 414.50,184.81 414.80,185.40 415.10,181.04 415.40,184.60 415.70,185.56 416.00,186.50 416.30,184.62 416.60,186.17 416.90,185.52 417.20,182.03 417.50,186.39 417.80,185.38 417.30,179.10 417.85,170.00 418.15,170.00 418.70,179.10 418.10,183.79 418.40,183.37 418.70,183.82 419.00,183.91 419.30,182.72 419.60,181.25 419.90,184.82 420.20,183.20 420.50,183.94 420.80,185.49 421.10,180.58 421.40,183.59 420.90,177.40 421.45,168.00 421.75,168.00 422.30,177.40 421.70,182.11 422.00,182.85 422.30,180.66 422.60,184.92 422.90,178.91 423.20,181.05 423.50,182.01 423.80,182.09 423.30,178.13 423.85,172.00 424.15,172.00 424.70,178.13 424.10,181.68 424.40,177.51 424.70,177.79 425.00,175.85 425.30,179.58 425.60,184.59 425.90,180.03 426.20,184.01 425.70,174.87 426.25,164.00 426.55,164.00 427.10,174.87 426.50,182.99 426.80,179.11 427.10,174.97 427.40,175.55 427.70,178.57 428.00,180.52 428.30,184.07 428.60,179.17 428.90,179.25 428.30,169.63 428.85,150.00 429.15,150.00 429.70,169.63 429.20,182.05 429.50,181.22 429.80,180.20 430.10,183.41 430.40,179.48 430.70,180.24 431.00,177.86 431.30,182.07 431.60,176.18 431.90,181.88 431.30,176.98 431.85,172.00 432.15,172.00 432.70,176.98 432.20,177.43 432.50,182.63 432.80,177.80 433.10,183.13 433.40,184.08 433.70,177.45 434.00,185.14 434.30,176.69 433.80,176.01 434.35,170.00 434.65,170.00 435.20,176.01 434.60,178.40 434.90,176.60 435.20,178.81 435.50,179.81 435.80,179.42 436.10,184.03 436.40,181.95 436.70,178.67 436.30,173.40 436.85,163.00 437.15,163.00 437.70,173.40 437.00,179.47 437.30,175.89 437.60,181.24 437.90,175.02 438.20,174.53 438.50,175.04 438.80,184.41 439.10,180.58 439.40,179.12 439.70,175.11 439.30,176.55 439.85,172.00 440.15,172.00 440.70,176.55 440.00,179.23 440.30,174.95 440.60,181.46 440.90,179.15 441.20,179.23 441.50,176.32 441.80,181.82 442.10,179.33 442.40,181.21 442.70,177.68 443.00,177.25 443.30,185.96 443.60,179.22 443.90,179.53 443.30,177.77 443.85,174.00 444.15,174.00 444.70,177.77 444.20,180.49 444.50,181.16 444.80,182.54 445.10,177.45 445.40,181.32 445.70,181.95 446.00,181.17 446.30,176.18 446.60,182.42 446.90,182.86 446.30,177.20 446.85,172.00 447.15,172.00 447.70,177.20 447.20,182.54 447.50,176.61 447.80,183.20 448.10,179.25 448.40,178.41 448.70,179.29 449.00,177.51 449.30,180.27 449.60,179.52 449.90,178.74 450.20,183.05 449.80,177.97 450.35,174.00 450.65,174.00 451.20,177.97 450.50,179.37 450.80,182.74 451.10,178.45 451.40,179.36 451.70,181.74 452.00,178.69 452.30,177.96 452.60,174.22 452.90,185.06 453.20,183.87 453.50,182.04 453.80,183.41 453.30,173.87 453.85,161.00 454.15,161.00 454.70,173.87 454.10,185.38 454.40,185.06 454.70,179.74 455.00,184.02 455.30,182.55 455.60,180.85 455.90,184.77 456.20,183.15 456.50,182.60 456.80,181.74 456.30,177.41 456.85,170.00 457.15,170.00 457.70,177.41 457.10,181.41 457.40,181.86 457.70,181.06 458.00,182.32 458.30,184.38 458.60,180.48 458.90,185.80 459.20,182.63 459.50,182.27 459.80,186.92 460.10,183.23 460.40,182.43 460.70,179.19 461.00,185.64 461.30,188.12 461.60,180.10 461.90,183.39 461.30,178.32 461.85,170.00 462.15,170.00 462.70,178.32 462.20,185.11 462.50,185.65 462.80,179.62 463.10,184.16 463.40,183.00 463.70,185.84 464.00,184.18 464.30,185.75 464.60,180.79 464.90,180.83 464.30,181.20 464.85,176.00 465.15,176.00 465.70,181.20 465.20,185.92 465.50,179.98 465.80,185.85 466.10,183.53 466.40,188.32 466.70,186.45 467.00,187.28 467.30,184.13 467.60,186.92 467.90,185.10 467.30,182.68 467.85,178.00 468.15,178.00 468.70,182.68 468.20,185.84 468.50,188.11 468.80,187.33 469.10,184.05 469.40,183.06 469.70,183.30 470.00,187.16 470.30,187.78 470.60,181.42 470.90,183.73 471.20,188.61 471.50,188.06 471.80,183.16 471.30,184.42 471.85,180.00 472.15,180.00 472.70,184.42 472.10,186.15 472.40,185.72 472.70,188.02 473.00,184.92 473.30,187.15 473.60,184.33 473.90,187.75 474.20,188.37 474.50,188.32 474.80,185.28 475.10,188.59 475.40,188.22 475.70,185.97 476.00,189.62 476.30,190.51 476.60,190.58 476.90,187.31 476.30,186.77 476.85,183.00 477.15,183.00 477.70,186.77 477.20,191.04 477.50,188.81 477.80,190.42 478.10,190.88 478.40,191.55 478.70,188.99 479.00,189.12 479.30,192.31 479.60,192.08 479.90,189.68 480.20,194.18 480.50,193.40 480.80,189.76 481.10,190.87 481.40,191.06 481.70,191.39 482.00,188.95 482.30,191.52 482.60,190.95 482.90,190.58 482.30,188.49 482.85,184.00 483.15,184.00 483.70,188.49 483.20,192.29 483.50,193.84 483.80,191.79 484.10,192.62 484.40,191.85 484.70,190.45 485.00,188.66 485.30,191.92 485.60,190.40 485.90,192.98 486.20,194.06 486.50,192.96 486.80,189.27 487.10,192.02 487.40,190.36 487.70,191.50 488.00,188.54 488.30,191.74 488.60,191.91 488.90,192.89 489.20,192.33 489.50,194.36 489.80,193.04 490.10,189.68 490.40,196.45 490.70,192.90 491.00,191.18 491.30,191.46 491.60,192.33 491.90,195.21 492.20,191.75 492.50,190.50 492.80,196.47 493.10,194.05 493.40,191.65 493.70,193.97 494.00,193.25 494.30,194.83 494.60,192.07 494.90,189.80 495.20,193.82 495.50,191.85 495.80,194.48 496.10,193.82 496.40,196.36 496.70,193.12 497.00,191.07 497.30,195.71 497.60,196.84 497.90,192.91 498.20,193.87 498.50,194.10 498.80,194.78 499.10,195.26 499.40,195.63 499.70,194.00 500.00,191.21 500.30,198.20 500.60,193.03 500.90,191.45 501.20,191.53 501.50,195.83 501.80,192.87 502.10,195.26 502.40,192.05 502.70,194.12 503.00,190.74 503.30,195.79 503.60,192.82 503.90,194.56 504.20,194.31 504.50,193.35 504.80,191.63 505.10,194.63 505.40,193.08 505.70,196.30 506.00,189.80 506.30,193.22 506.60,194.10 506.90,193.72 507.20,193.32 507.50,194.91 507.80,190.84 508.10,191.16 508.40,196.67 508.70,191.60 509.00,196.34 509.30,193.21 509.60,196.77 509.90,195.26 510.20,195.05 510.50,191.01 510.80,196.29 511.10,194.38 511.40,193.25 511.70,190.63 512.00,194.86 512.30,195.98 512.60,193.75 512.90,195.67 513.20,196.68 513.50,194.86 513.80,196.27 514.10,193.74 514.40,194.62 514.70,195.84 515.00,194.26 515.30,196.46 515.60,194.74 515.90,193.92 516.20,191.09 516.50,191.47 516.80,194.00 517.10,195.05 517.40,192.84 517.70,193.13 518.00,193.35 518.30,191.45 518.60,189.80 518.90,192.65 519.20,196.39 519.50,197.99 519.80,198.20 520.10,195.03 520.40,193.58 520.70,189.76 521.00,193.26 521.30,190.24 521.60,190.08 521.90,189.13 522.20,188.32 522.50,185.86 522.80,191.38 523.10,187.05 523.40,187.91 523.70,188.74 524.00,190.77 524.30,191.41 524.60,193.43 524.90,191.11 525.20,194.79 525.50,189.37 525.80,192.39 526.10,193.93 526.40,194.07 526.70,192.48 527.00,192.13 527.30,195.91 527.60,194.33 527.90,197.36 528.20,198.04 528.50,190.78 528.80,192.60 529.10,192.12 529.40,191.94 529.70,193.99 530.00,193.38 530.30,192.19 530.60,195.84 530.90,191.80 531.20,197.04 531.50,192.77 531.80,196.33 532.10,191.43 532.40,193.07 532.70,196.46 533.00,189.99 533.30,195.09 533.60,193.26 533.90,192.47 534.20,193.20 534.50,193.87 534.80,190.94 535.10,191.18 535.40,193.53 535.70,192.50 536.00,194.18 536.30,190.60 536.60,194.00 536.90,194.41 537.20,193.85 537.50,192.40 537.80,196.13 538.10,189.44 538.40,193.34 538.70,192.20 539.00,193.74 539.30,192.97 539.60,193.46 539.90,191.01 540.20,192.96 540.50,190.58 540.80,194.04 541.10,190.99 541.40,191.29 541.70,191.59 542.00,190.82 542.30,190.67 542.60,189.88 542.90,191.69 543.20,187.64 543.50,190.07 543.80,190.80 544.10,190.41 544.40,190.18 544.70,191.28 545.00,190.51 545.30,190.51 545.60,188.39 545.90,189.53 546.20,188.07 546.50,189.94 546.80,190.04 547.10,191.98 547.40,189.48 547.70,192.30 548.00,191.41 548.30,191.73 548.60,188.90 548.90,189.91 549.20,189.80 549.50,191.22 549.80,191.87 550.10,192.93 550.40,191.14 550.70,192.58 551.00,190.66 551.30,190.19 551.60,189.74 551.90,193.11 552.20,190.69 552.50,190.77 552.80,187.91 553.10,189.18 553.40,190.13 553.70,188.67 554.00,189.16 554.30,190.78 554.60,191.13 554.90,192.31 555.20,190.47 555.50,195.30 555.80,188.32 556.10,194.96 556.40,192.50 556.70,189.30 557.00,194.36 557.30,191.68 557.60,190.10 557.90,191.80 558.20,190.86 558.50,193.67 558.80,190.37 559.10,193.81 559.40,191.62 559.70,191.52 560.00,190.57 560.30,191.99 560.60,192.62 560.90,191.40 561.20,188.04 561.50,191.74 561.80,192.68 562.10,193.49 562.40,193.06 562.70,192.46 563.00,191.08 563.30,189.19 563.60,193.53 563.90,192.55 564.20,192.37 564.50,195.40 564.80,191.81 565.10,192.96 565.40,192.17 565.70,191.88 566.00,188.75 566.30,187.14 566.60,187.68 566.90,186.69 567.20,183.59 567.50,182.69 567.80,179.58 568.10,184.61 568.40,183.37 568.70,180.42 569.00,175.49 569.30,180.08 569.60,175.07 569.90,173.99 570.20,170.93 570.50,173.50 570.80,169.68 571.10,171.04 571.40,168.81 571.70,164.56 572.00,169.45 572.30,161.46 572.60,159.98 572.90,162.80 573.20,159.06 573.50,157.75 573.80,154.58 574.10,155.64 574.40,149.79 574.70,147.52 575.00,146.20 575.30,152.61 575.60,145.21 575.90,144.79 576.20,142.89 576.50,143.61 576.80,143.90 577.10,140.01 577.40,139.32 577.70,146.52 578.00,144.47 578.30,139.82 578.60,144.13 578.90,148.44 579.20,144.73 579.50,144.27 579.80,146.33 580.10,144.78 580.40,152.92 580.70,143.94 581.00,144.48 581.30,155.38 581.60,148.94 581.90,159.67 582.20,150.94 582.50,161.14 582.80,157.62 583.10,160.72 583.40,163.29 583.70,167.99 584.00,166.84 584.30,169.40 584.60,174.24 584.90,174.76 585.20,173.67 585.50,178.96 585.80,182.17 586.10,182.09 586.40,185.09 586.70,183.51 587.00,185.80 587.30,187.07 587.60,188.37 587.90,188.75 588.20,187.20 588.50,188.36 588.80,189.41 589.10,186.57 589.40,185.68 589.70,188.22 590.00,188.03 590.30,190.59 590.60,183.78 590.90,187.40 591.20,190.18 591.50,188.31 591.80,184.33 592.10,188.15 592.40,187.83 592.70,189.90 593.00,189.18 593.30,189.64 593.60,192.74 593.90,189.39 594.20,191.77 594.50,192.81 594.80,193.61 595.10,191.29 595.40,192.63 595.70,190.99 596.00,192.68 596.30,194.48 596.60,193.47 596.90,193.29 597.20,192.96 597.50,194.57 597.80,192.82 598.10,188.61 598.40,192.68 598.70,197.15" fill="none" stroke="#000" stroke-width="0.8" stroke-linejoin="round" />
<polyline points="333.30,196.20 333.80,196.20 334.30,196.20 334.80,196.20 335.30,196.20 335.80,196.20 336.30,196.20 336.80,196.20 337.30,196.20 337.80,196.20 338.30,196.20 338.80,196.20 339.30,196.20 339.80,196.20 340.30,196.20 340.80,196.20 341.30,196.20 341.80,196.20 342.30,196.20 342.80,196.20 343.30,196.20 343.80,196.20 344.30,196.20 344.80,196.20 345.30,196.20 345.80,196.20 346.30,196.19 346.80,196.19 347.30,196.19 347.80,196.19 348.30,196.19 348.80,196.19 349.30,196.19 349.80,196.19 350.30,196.19 350.80,196.19 351.30,196.19 351.80,196.19 352.30,196.19 352.80,196.18 353.30,196.18 353.80,196.18 354.30,196.18 354.80,196.18 355.30,196.18 355.80,196.17 356.30,196.17 356.80,196.17 357.30,196.17 357.80,196.16 358.30,196.16 358.80,196.16 359.30,196.15 359.80,196.15 360.30,196.15 360.80,196.14 361.30,196.14 361.80,196.13 362.30,196.13 362.80,196.12 363.30,196.11 363.80,196.11 364.30,196.10 364.80,196.09 365.30,196.08 365.80,196.07 366.30,196.07 366.80,196.06 367.30,196.04 367.80,196.03 368.30,196.02 368.80,196.01 369.30,195.99 369.80,195.98 370.30,195.96 370.80,195.95 371.30,195.93 371.80,195.91 372.30,195.89 372.80,195.87 373.30,195.85 373.80,195.83 374.30,195.80 374.80,195.77 375.30,195.75 375.80,195.72 376.30,195.69 376.80,195.65 377.30,195.62 377.80,195.58 378.30,195.55 378.80,195.51 379.30,195.46 379.80,195.42 380.30,195.37 380.80,195.32 381.30,195.27 381.80,195.22 382.30,195.16 382.80,195.10 383.30,195.04 383.80,194.98 384.30,194.91 384.80,194.84 385.30,194.77 385.80,194.69 386.30,194.61 386.80,194.53 387.30,194.44 387.80,194.35 388.30,194.26 388.80,194.16 389.30,194.06 389.80,193.95 390.30,193.84 390.80,193.73 391.30,193.61 391.80,193.49 392.30,193.36 392.80,193.23 393.30,193.10 393.80,192.96 394.30,192.82 394.80,192.67 395.30,192.51 395.80,192.36 396.30,192.20 396.80,192.03 397.30,191.86 397.80,191.68 398.30,191.50 398.80,191.32 399.30,191.13 399.80,190.93 400.30,190.73 400.80,190.53 401.30,190.32 401.80,190.11 402.30,189.89 402.80,189.67 403.30,189.44 403.80,189.21 404.30,188.98 404.80,188.74 405.30,188.49 405.80,188.25 406.30,188.00 406.80,187.75 407.30,187.49 407.80,187.23 408.30,186.97 408.80,186.70 409.30,186.43 409.80,186.16 410.30,185.89 410.80,185.61 411.30,185.34 411.80,185.06 412.30,184.78 412.80,184.50 413.30,184.22 413.80,183.94 414.30,183.66 414.80,183.38 415.30,183.10 415.80,182.82 416.30,182.54 416.80,182.26 417.30,181.99 417.80,181.71 418.30,181.44 418.80,181.17 419.30,180.91 419.80,180.64 420.30,180.39 420.80,180.13 421.30,179.88 421.80,179.64 422.30,179.40 422.80,179.16 423.30,178.93 423.80,178.71 424.30,178.49 424.80,178.28 425.30,178.08 425.80,177.88 426.30,177.69 426.80,177.51 427.30,177.33 427.80,177.17 428.30,177.01 428.80,176.86 429.30,176.72 429.80,176.59 430.30,176.47 430.80,176.36 431.30,176.26 431.80,176.17 432.30,176.09 432.80,176.01 433.30,175.95 433.80,175.90 434.30,175.86 434.80,175.83 435.30,175.81 435.80,175.80 436.30,175.80 436.80,175.81 437.30,175.82 437.80,175.84 438.30,175.86 438.80,175.89 439.30,175.93 439.80,175.97 440.30,176.02 440.80,176.08 441.30,176.14 441.80,176.20 442.30,176.28 442.80,176.35 443.30,176.44 443.80,176.52 444.30,176.62 444.80,176.72 445.30,176.82 445.80,176.93 446.30,177.05 446.80,177.17 447.30,177.29 447.80,177.42 448.30,177.55 448.80,177.69 449.30,177.84 449.80,177.98 450.30,178.14 450.80,178.29 451.30,178.45 451.80,178.61 452.30,178.78 452.80,178.95 453.30,179.13 453.80,179.30 454.30,179.48 454.80,179.67 455.30,179.85 455.80,180.04 456.30,180.23 456.80,180.43 457.30,180.62 457.80,180.82 458.30,181.02 458.80,181.22 459.30,181.43 459.80,181.63 460.30,181.84 460.80,182.05 461.30,182.26 461.80,182.47 462.30,182.68 462.80,182.89 463.30,183.10 463.80,183.32 464.30,183.53 464.80,183.74 465.30,183.95 465.80,184.17 466.30,184.38 466.80,184.59 467.30,184.81 467.80,185.02 468.30,185.23 468.80,185.44 469.30,185.65 469.80,185.86 470.30,186.05 470.80,186.23 471.30,186.40 471.80,186.58 472.30,186.75 472.80,186.93 473.30,187.10 473.80,187.27 474.30,187.43 474.80,187.60 475.30,187.76 475.80,187.93 476.30,188.09 476.80,188.24 477.30,188.40 477.80,188.55 478.30,188.70 478.80,188.85 479.30,189.00 479.80,189.14 480.30,189.28 480.80,189.42 481.30,189.56 481.80,189.69 482.30,189.82 482.80,189.95 483.30,190.07 483.80,190.20 484.30,190.32 484.80,190.43 485.30,190.55 485.80,190.66 486.30,190.77 486.80,190.88 487.30,190.98 487.80,191.08 488.30,191.18 488.80,191.28 489.30,191.37 489.80,191.46 490.30,191.55 490.80,191.63 491.30,191.72 491.80,191.80 492.30,191.87 492.80,191.95 493.30,192.02 493.80,192.09 494.30,192.16 494.80,192.22 495.30,192.29 495.80,192.35 496.30,192.41 496.80,192.46 497.30,192.51 497.80,192.56 498.30,192.61 498.80,192.66 499.30,192.70 499.80,192.75 500.30,192.79 500.80,192.83 501.30,192.86 501.80,192.90 502.30,192.93 502.80,192.96 503.30,192.99 503.80,193.01 504.30,193.04 504.80,193.06 505.30,193.08 505.80,193.10 506.30,193.12 506.80,193.14 507.30,193.16 507.80,193.17 508.30,193.18 508.80,193.19 509.30,193.20 509.80,193.21 510.30,193.23 510.80,193.27 511.30,193.30 511.80,193.33 512.30,193.36 512.80,193.39 513.30,193.41 513.80,193.44 514.30,193.46 514.80,193.48 515.30,193.49 515.80,193.49 516.30,193.47 516.80,193.40 517.30,193.27 517.80,193.04 518.30,192.67 518.80,192.12 519.30,191.36 519.80,190.39 520.30,189.23 520.80,187.95 521.30,186.68 521.80,185.56 522.30,184.73 522.80,184.31 523.30,184.37 523.80,184.90 524.30,185.82 524.80,187.01 525.30,188.32 525.80,189.60 526.30,190.75 526.80,191.71 527.30,192.45 527.80,192.98 528.30,193.35 528.80,193.58 529.30,193.72 529.80,193.80 530.30,193.85 530.80,193.87 531.30,193.88 531.80,193.88 532.30,193.88 532.80,193.87 533.30,193.86 533.80,193.85 534.30,193.83 534.80,193.81 535.30,193.78 535.80,193.74 536.30,193.70 536.80,193.65 537.30,193.59 537.80,193.51 538.30,193.43 538.80,193.33 539.30,193.22 539.80,193.09 540.30,192.95 540.80,192.79 541.30,192.62 541.80,192.43 542.30,192.23 542.80,192.01 543.30,191.78 543.80,191.55 544.30,191.30 544.80,191.05 545.30,190.80 545.80,190.55 546.30,190.31 546.80,190.07 547.30,189.85 547.80,189.65 548.30,189.47 548.80,189.31 549.30,189.19 549.80,189.09 550.30,189.02 550.80,188.99 551.30,189.00 551.80,189.04 552.30,189.11 552.80,189.21 553.30,189.34 553.80,189.50 554.30,189.69 554.80,189.89 555.30,190.11 555.80,190.34 556.30,190.57 556.80,190.81 557.30,191.04 557.80,191.26 558.30,191.47 558.80,191.66 559.30,191.83 559.80,191.96 560.30,192.06 560.80,192.11 561.30,192.11 561.80,192.06 562.30,191.94 562.80,191.74 563.30,191.45 563.80,191.07 564.30,190.57 564.80,189.96 565.30,189.20 565.80,188.30 566.30,187.24 566.80,186.00 567.30,184.58 567.80,182.96 568.30,181.14 568.80,179.12 569.30,176.90 569.80,174.48 570.30,171.89 570.80,169.12 571.30,166.22 571.80,163.20 572.30,160.10 572.80,156.97 573.30,153.85 573.80,150.79 574.30,147.84 574.80,145.04 575.30,142.47 575.80,140.16 576.30,138.16 576.80,136.52 577.30,135.27 577.80,134.43 578.30,134.03 578.80,134.15 579.30,135.07 579.80,136.79 580.30,139.23 580.80,142.29 581.30,145.84 581.80,149.74 582.30,153.84 582.80,157.99 583.30,162.04 583.80,165.87 584.30,169.36 584.80,172.44 585.30,175.06 585.80,177.20 586.30,178.88 586.80,180.15 587.30,181.08 587.80,181.76 588.30,182.30 588.80,182.80 589.30,183.32 589.80,183.94 590.30,184.68 590.80,185.54 591.30,186.51 591.80,187.54 592.30,188.57 592.80,189.57 593.30,190.49 593.80,191.31 594.30,191.99 594.80,192.55 595.30,192.99 595.80,193.31 596.30,193.55 596.80,193.71 597.30,193.82 597.80,193.89 598.30,193.94 598.80,193.97" fill="none" stroke="#078628" stroke-width="1.1" stroke-linejoin="round" />
<polyline points="333.50,192.81 333.80,194.38 334.10,193.95 334.40,193.54 334.70,193.16 335.00,193.08 335.30,192.87 335.60,193.59 335.90,192.26 336.20,194.84 336.50,194.64 336.80,193.37 337.10,194.41 337.40,194.60 337.70,192.93 338.00,192.18 338.30,194.10 338.60,191.44 338.90,194.10 339.20,193.56 339.50,192.17 339.80,190.41 340.10,193.43 340.40,193.81 340.70,193.48 341.00,190.20 341.30,193.43 341.60,193.29 341.90,193.01 342.20,191.95 342.50,191.14 342.80,194.60 343.10,192.95 343.40,191.24 343.70,194.31 344.00,191.56 344.30,193.64 344.60,191.40 344.90,192.65 345.20,192.77 345.50,195.23 345.80,191.58 346.10,192.00 346.40,194.35 346.70,194.40 347.00,193.15 347.30,192.29 347.60,192.30 347.90,191.04 348.20,194.17 348.50,193.82 348.80,194.04 349.10,194.01 349.40,193.61 349.70,194.22 350.00,191.89 350.30,195.33 350.60,193.43 350.90,192.21 351.20,191.78 351.50,192.76 351.80,193.99 352.10,193.69 352.40,194.53 352.70,195.75 353.00,193.89 353.30,194.34 353.60,194.01 353.90,191.99 354.20,192.48 354.50,192.77 354.80,194.27 355.10,191.47 355.40,195.80 355.70,192.11 356.00,191.85 356.30,192.27 356.60,191.80 356.90,193.15 357.20,193.21 357.50,195.27 357.80,192.57 358.10,194.36 358.40,193.93 358.70,193.56 359.00,190.52 359.30,193.59 359.60,193.25 359.90,191.73 360.20,194.02 360.50,194.61 360.80,193.92 361.10,193.04 361.40,191.69 361.70,193.69 362.00,192.03 362.30,193.59 362.60,191.98 362.90,192.05 363.20,193.67 363.50,192.38 363.80,190.59 364.10,194.44 364.40,193.70 364.70,193.94 365.00,191.42 365.30,193.11 365.60,194.14 365.90,193.63 366.20,192.45 366.50,194.15 366.80,192.66 367.10,191.13 367.40,192.76 367.70,192.33 368.00,191.54 368.30,194.16 368.60,191.73 368.90,194.51 369.20,192.12 369.50,192.65 369.80,192.78 370.10,193.71 370.40,192.45 370.70,192.92 371.00,193.18 371.30,191.90 371.60,191.88 371.90,191.36 372.20,190.76 372.50,194.52 372.80,191.67 373.10,193.00 373.40,191.32 373.70,194.20 374.00,192.87 374.30,193.48 374.60,192.04 374.90,193.27 375.20,191.04 375.50,190.20 375.80,193.34 376.10,192.83 376.40,192.15 376.70,191.49 377.00,191.13 377.30,190.42 377.60,191.09 377.90,191.65 378.20,192.56 378.50,191.23 378.80,189.45 379.10,189.44 379.40,189.99 379.70,189.73 380.00,191.85 380.30,192.37 380.60,191.91 380.90,189.98 381.20,189.30 381.50,191.73 381.80,187.84 382.10,190.03 382.40,187.72 382.70,189.91 383.00,189.60 383.30,191.53 383.60,188.95 383.90,189.75 384.20,189.68 384.50,189.10 384.80,189.60 385.10,187.57 385.40,188.66 385.70,189.68 386.00,189.96 386.30,190.82 386.60,190.72 386.90,189.83 387.20,189.24 387.50,188.57 387.80,190.01 388.10,187.81 388.40,189.93 388.70,188.30 389.00,189.18 389.30,190.63 389.60,187.48 389.90,189.52 390.20,188.60 390.50,188.07 390.80,188.69 391.10,191.09 391.40,190.36 391.70,188.03 392.00,187.58 392.30,188.89 392.60,186.29 392.90,188.01 393.20,188.64 393.50,189.64 393.80,187.60 394.10,187.70 394.40,188.73 394.70,185.90 395.00,187.95 395.30,188.81 395.60,187.89 395.90,190.83 396.20,190.60 396.50,186.34 396.80,187.73 397.10,187.51 397.40,186.73 397.70,185.93 398.00,189.29 398.30,187.57 398.60,187.53 398.90,189.89 399.20,188.16 399.50,185.92 399.80,186.43 400.10,185.60 400.40,187.44 400.70,186.74 401.00,188.29 401.30,186.76 401.60,188.10 401.90,189.54 402.20,186.39 402.50,186.79 402.80,186.98 403.10,188.99 403.40,186.01 403.70,184.95 404.00,184.54 404.30,186.91 404.60,185.17 404.90,185.89 405.20,188.15 405.50,186.02 405.80,186.98 406.10,186.88 406.40,187.03 406.70,186.03 407.00,185.38 407.30,189.07 407.60,186.16 407.90,186.20 408.20,186.81 408.50,187.38 408.80,184.15 409.10,184.75 409.40,187.58 409.70,187.25 410.00,185.51 410.30,184.24 410.60,186.18 410.90,186.45 411.20,183.65 411.50,185.67 411.80,184.75 412.10,185.10 412.40,184.74 412.70,185.14 413.00,183.63 413.30,184.41 413.60,183.91 413.90,184.87 414.20,183.40 414.50,182.35 414.80,182.06 415.10,182.93 415.40,182.44 415.70,182.18 416.00,181.95 416.30,182.39 416.60,183.91 416.90,180.54 417.20,184.67 417.50,184.79 417.80,183.22 418.10,183.25 418.40,183.66 418.70,184.44 419.00,184.68 419.30,186.15 419.60,187.67 419.90,184.55 420.20,186.56 420.50,187.37 420.80,185.29 421.10,187.74 421.40,188.58 421.70,188.38 422.00,187.12 422.30,188.40 422.60,187.07 422.90,186.33 423.20,187.08 423.50,186.08 423.80,186.73 424.10,184.40 424.40,183.57 424.70,185.32 425.00,184.04 425.30,185.98 425.60,183.75 425.90,183.22 426.20,184.88 426.50,181.90 426.80,181.67 427.10,181.97 427.40,182.20 427.70,181.86 428.00,183.32 428.30,180.84 428.60,184.35 428.90,183.32 429.20,185.48 429.50,185.47 429.80,187.66 430.10,187.29 430.40,188.34 430.70,189.46 431.00,189.56 431.30,187.31 431.60,189.69 431.90,190.39 432.20,186.81 432.50,188.71 432.80,186.79 433.10,187.77 433.40,187.98 433.70,187.36 434.00,186.73 434.30,186.72 434.60,189.97 434.90,188.03 435.20,185.89 435.50,187.22 435.80,189.21 436.10,188.47 436.40,185.51 436.70,186.26 437.00,188.38 437.30,187.50 437.60,188.02 437.90,189.46 438.20,187.42 438.50,189.29 438.80,190.02 439.10,189.14 439.40,188.21 439.70,189.69 440.00,190.36 440.30,190.28 440.60,190.57 440.90,188.03 441.20,188.29 441.50,186.42 441.80,190.24 442.10,188.84 442.40,190.89 442.70,186.73 443.00,190.81 443.30,189.54 443.60,189.77 443.90,188.34 444.20,190.34 444.50,189.86 444.80,188.25 445.10,190.67 445.40,189.38 445.70,188.41 446.00,188.21 446.30,191.53 446.60,188.44 446.90,189.14 447.20,188.72 447.50,191.50 447.80,188.80 448.10,187.10 448.40,190.85 448.70,191.97 449.00,187.45 449.30,192.33 449.60,188.63 449.90,188.46 450.20,190.09 450.50,189.73 450.80,189.38 451.10,191.51 451.40,188.63 451.70,189.95 452.00,190.87 452.30,187.82 452.60,190.60 452.90,190.95 453.20,188.19 453.50,189.68 453.80,188.29 454.10,187.74 454.40,189.06 454.70,189.80 455.00,188.69 455.30,188.62 455.60,187.13 455.90,187.23 456.20,191.10 456.50,189.54 456.80,188.20 457.10,187.93 457.40,190.19 457.70,189.28 458.00,189.29 458.30,189.93 458.60,189.74 458.90,187.89 459.20,188.43 459.50,189.14 459.80,187.03 460.10,187.78 460.40,187.49 460.70,187.73 461.00,187.16 461.30,188.54 461.60,188.00 461.90,189.16 462.20,188.69 462.50,189.31 462.80,189.88 463.10,189.99 463.40,188.94 463.70,190.72 464.00,190.80 464.30,190.72 464.60,190.96 464.90,193.72 465.20,193.98 465.50,193.09 465.80,194.92 466.10,195.86 466.40,193.71 466.70,193.78 467.00,195.16 467.30,195.29 467.60,195.56 467.90,194.84 468.20,195.03 468.50,195.63 468.80,196.18 469.10,193.37 469.40,194.71 469.70,193.22 470.00,194.28 470.30,196.15 470.60,194.67 470.90,194.78 471.20,193.62 471.50,195.12 471.80,193.19 472.10,196.48 472.40,192.21 472.70,195.35 473.00,196.89 473.30,192.79 473.60,192.56 473.90,196.63 474.20,195.09 474.50,194.33 474.80,192.02 475.10,194.13 475.40,195.37 475.70,193.65 476.00,193.38 476.30,192.08 476.60,193.59 476.90,191.43 477.20,196.92 477.50,195.69 477.80,192.92 478.10,194.27 478.40,193.94 478.70,192.22 479.00,192.25 479.30,193.17 479.60,195.41 479.90,195.66 480.20,195.17 480.50,194.62 480.80,196.80 481.10,193.70 481.40,193.75 481.70,193.39 482.00,193.87 482.30,193.19 482.60,195.59 482.90,195.95 483.20,195.13 483.50,193.32 483.80,192.33 484.10,193.75 484.40,194.52 484.70,192.25 485.00,193.64 485.30,195.66 485.60,193.40 485.90,193.97 486.20,192.66 486.50,194.19 486.80,195.48 487.10,195.39 487.40,193.38 487.70,195.60 488.00,194.58 488.30,194.86 488.60,192.91 488.90,193.71 489.20,193.35 489.50,193.32 489.80,192.68 490.10,194.41 490.40,192.66 490.70,192.78 491.00,194.43 491.30,196.80 491.60,191.61 491.90,193.11 492.20,193.86 492.50,193.91 492.80,193.08 493.10,194.43 493.40,193.64 493.70,191.86 494.00,195.58 494.30,196.21 494.60,194.50 494.90,192.50 495.20,192.86 495.50,195.81 495.80,194.76 496.10,194.23 496.40,193.92 496.70,194.23 497.00,196.23 497.30,194.46 497.60,192.47 497.90,195.45 498.20,193.41 498.50,194.30 498.80,196.13 499.10,193.77 499.40,194.82 499.70,193.89 500.00,194.70 500.30,194.64 500.60,196.01 500.90,193.95 501.20,194.02 501.50,194.66 501.80,193.77 502.10,193.90 502.40,195.42 502.70,192.31 503.00,196.15 503.30,195.00 503.60,191.75 503.90,193.56 504.20,194.06 504.50,193.98 504.80,194.69 505.10,195.20 505.40,194.34 505.70,193.94 506.00,194.84 506.30,194.82 506.60,194.20 506.90,195.07 507.20,193.85 507.50,193.66 507.80,192.83 508.10,193.40 508.40,195.08 508.70,192.79 509.00,194.27 509.30,194.47 509.60,193.77 509.90,194.94 510.20,192.35 510.50,195.10 510.80,192.20 511.10,194.33 511.40,193.62 511.70,193.07 512.00,195.37 512.30,194.12 512.60,193.87 512.90,193.53 513.20,194.64 513.50,193.69 513.80,196.08 514.10,191.64 514.40,191.81 514.70,193.65 515.00,193.81 515.30,193.98 515.60,195.12 515.90,195.68 516.20,195.26 516.50,196.57 516.80,193.72 517.10,196.21 517.40,194.19 517.70,194.80 518.00,193.73 518.30,194.05 518.60,194.79 518.90,191.95 519.20,195.29 519.50,194.28 519.80,193.46 520.10,195.53 520.40,195.41 520.70,195.33 521.00,192.27 521.30,193.33 521.60,195.09 521.90,195.62 522.20,190.85 522.50,192.18 522.80,194.37 523.10,194.52 523.40,190.72 523.70,193.84 524.00,193.68 524.30,192.83 524.60,193.89 524.90,193.88 525.20,192.83 525.50,192.34 525.80,193.67 526.10,193.27 526.40,191.16 526.70,192.20 527.00,193.43 527.30,192.80 527.60,192.11 527.90,193.12 528.20,192.19 528.50,192.72 528.80,192.39 529.10,193.28 529.40,191.64 529.70,195.11 530.00,192.73 530.30,191.19 530.60,191.69 530.90,193.49 531.20,193.73 531.50,191.34 531.80,191.98 532.10,192.30 532.40,193.44 532.70,190.49 533.00,191.37 533.30,192.56 533.60,190.60 533.90,192.71 534.20,192.25 534.50,191.84 534.80,191.16 535.10,191.41 535.40,192.62 535.70,192.66 536.00,192.50 536.30,190.53 536.60,189.56 536.90,192.15 537.20,193.81 537.50,191.30 537.80,190.18 538.10,189.57 538.40,190.87 538.70,190.99 539.00,190.99 539.30,191.38 539.60,190.99 539.90,192.68 540.20,190.09 540.50,190.79 540.80,190.58 541.10,190.66 541.40,191.70 541.70,190.20 542.00,192.97 542.30,191.81 542.60,189.14 542.90,190.87 543.20,190.95 543.50,189.63 543.80,190.58 544.10,189.00 544.40,190.68 544.70,190.25 545.00,190.65 545.30,189.50 545.60,191.27 545.90,189.06 546.20,189.30 546.50,189.33 546.80,190.57 547.10,190.32 547.40,189.49 547.70,189.89 548.00,190.31 548.30,189.68 548.60,189.07 548.90,189.45 549.20,189.95 549.50,188.67 549.80,190.97 550.10,188.70 550.40,189.26 550.70,190.22 551.00,188.52 551.30,188.52 551.60,187.36 551.90,190.91 552.20,190.88 552.50,189.84 552.80,188.09 553.10,189.09 553.40,188.43 553.70,189.30 554.00,188.28 554.30,189.15 554.60,189.57 554.90,190.93 555.20,189.50 555.50,191.03 555.80,188.77 556.10,191.95 556.40,192.11 556.70,190.58 557.00,187.34 557.30,188.95 557.60,190.86 557.90,190.00 558.20,189.66 558.50,190.71 558.80,193.14 559.10,191.52 559.40,192.34 559.70,194.00 560.00,193.69 560.30,193.75 560.60,194.98 560.90,194.21 561.20,192.10 561.50,195.85 561.80,194.36 562.10,194.89 562.40,195.38 562.70,195.96 563.00,193.38 563.30,194.55 563.60,194.39 563.90,195.42 564.20,193.67 564.50,194.49 564.80,191.50 565.10,193.28 565.40,193.51 565.70,193.64 566.00,192.79 566.30,194.36 566.60,192.73 566.90,193.42 567.20,195.62 567.50,192.94 567.80,193.08 568.10,193.73 568.40,191.72 568.70,191.20 569.00,194.41 569.30,192.31 569.60,194.79 569.90,192.46 570.20,193.08 570.50,193.54 570.80,191.75 571.10,193.22 571.40,193.07 571.70,192.58 572.00,193.03 572.30,191.46 572.60,191.66 572.90,193.83 573.20,191.58 573.50,191.69 573.80,190.10 574.10,191.14 574.40,190.34 574.70,190.25 575.00,188.06 575.30,191.73 575.60,187.95 575.90,189.51 576.20,191.17 576.50,189.20 576.80,187.73 577.10,187.08 577.40,188.44 577.70,187.10 578.00,187.85 578.30,187.93 578.60,185.92 578.90,186.75 579.20,186.56 579.50,187.14 579.80,187.58 580.10,185.18 580.40,182.70 580.70,182.01 581.00,183.76 581.30,184.20 581.60,184.98 581.90,185.05 582.20,186.64 582.50,187.36 582.80,189.30 583.10,188.22 583.40,188.83 583.70,189.74 584.00,189.71 584.30,190.14 584.60,191.14 584.90,190.39 585.20,192.62 585.50,191.40 585.80,190.56 586.10,194.84 586.40,192.03 586.70,192.61 587.00,193.19 587.30,191.98 587.60,192.82 587.90,193.83 588.20,193.95 588.50,193.62 588.80,195.66 589.10,191.51 589.40,193.43 589.70,191.66 590.00,194.27 590.30,192.42 590.60,195.57 590.90,194.60 591.20,195.13 591.50,192.35 591.80,194.34 592.10,193.08 592.40,192.59 592.70,193.98 593.00,194.41 593.30,192.19 593.60,192.18 593.90,193.45 594.20,193.09 594.50,194.27 594.80,192.97 595.10,193.85 595.40,191.44 595.70,194.18 596.00,194.55 596.30,191.95 596.60,192.90 596.90,192.36 597.20,194.68 597.50,192.45 597.80,194.41 598.10,192.78 598.40,194.33 598.70,193.53" fill="none" stroke="#c01c1c" stroke-width="1.0" stroke-linejoin="round" />
</g>
<line x1="31.0" y1="1.0" x2="297.5" y2="1.0" stroke="#555" stroke-width="1.2"/>
<line x1="31.0" y1="126.3" x2="297.5" y2="126.3" stroke="#000" stroke-width="1.2"/>
<line x1="31.0" y1="1.0" x2="31.0" y2="126.3" stroke="#000" stroke-width="1.0"/>
<line x1="297.5" y1="1.0" x2="297.5" y2="126.3" stroke="#000" stroke-width="1.0"/>
<line x1="31.0" y1="142.0" x2="297.5" y2="142.0" stroke="#000" stroke-width="1.2"/>
<line x1="31.0" y1="267.3" x2="297.5" y2="267.3" stroke="#000" stroke-width="1.2"/>
<line x1="31.0" y1="142.0" x2="31.0" y2="267.3" stroke="#000" stroke-width="1.0"/>
<line x1="297.5" y1="142.0" x2="297.5" y2="267.3" stroke="#000" stroke-width="1.0"/>
<line x1="333.3" y1="1.0" x2="598.8" y2="1.0" stroke="#555" stroke-width="1.2"/>
<line x1="333.3" y1="126.3" x2="598.8" y2="126.3" stroke="#000" stroke-width="1.2"/>
<line x1="333.3" y1="1.0" x2="333.3" y2="126.3" stroke="#000" stroke-width="1.0"/>
<line x1="598.8" y1="1.0" x2="598.8" y2="126.3" stroke="#000" stroke-width="1.0"/>
<line x1="333.3" y1="142.0" x2="598.8" y2="142.0" stroke="#000" stroke-width="1.2"/>
<line x1="333.3" y1="267.3" x2="598.8" y2="267.3" stroke="#000" stroke-width="1.2"/>
<line x1="333.3" y1="142.0" x2="333.3" y2="267.3" stroke="#000" stroke-width="1.0"/>
<line x1="598.8" y1="142.0" x2="598.8" y2="267.3" stroke="#000" stroke-width="1.0"/>
<text x="68" y="15.5" font-family="Liberation Serif" font-weight="bold" font-size="7.6" fill="#000" textLength="50.5" lengthAdjust="spacingAndGlyphs">G&#8722;0.02&#8722;0.07</text>
<text x="68" y="23.5" font-family="Liberation Serif" font-weight="bold" font-size="7.6" fill="#000" textLength="39" lengthAdjust="spacingAndGlyphs">HF J=1&#8722;0</text>
<text x="67.8" y="32.8" font-family="Liberation Serif" font-weight="bold" font-size="7.6" fill="#078628" textLength="65.8" lengthAdjust="spacing">para&#8722;H<tspan font-size="4.6" dy="1.2">2</tspan><tspan dy="-1.2">O 1</tspan><tspan font-size="4.6" dy="1.2">11</tspan><tspan dy="-1.2">&#8722;0</tspan><tspan font-size="4.6" dy="1.2">00</tspan></text>
<text x="68" y="156.5" font-family="Liberation Serif" font-weight="bold" font-size="7.6" fill="#000" textLength="50.5" lengthAdjust="spacingAndGlyphs">G&#8722;0.13&#8722;0.08</text>
<text x="68" y="164.5" font-family="Liberation Serif" font-weight="bold" font-size="7.6" fill="#000" textLength="39" lengthAdjust="spacingAndGlyphs">HF J=1&#8722;0</text>
<text x="67.8" y="173.8" font-family="Liberation Serif" font-weight="bold" font-size="7.6" fill="#078628" textLength="65.8" lengthAdjust="spacing">para&#8722;H<tspan font-size="4.6" dy="1.2">2</tspan><tspan dy="-1.2">O 1</tspan><tspan font-size="4.6" dy="1.2">11</tspan><tspan dy="-1.2">&#8722;0</tspan><tspan font-size="4.6" dy="1.2">00</tspan></text>
<text x="341.3" y="12.0" font-family="Liberation Serif" font-weight="bold" font-size="7.6" fill="#000" textLength="10.9" lengthAdjust="spacingAndGlyphs">HF</text>
<text x="341.3" y="19.2" font-family="Liberation Serif" font-weight="bold" font-size="7.6" fill="#078628" textLength="82.2" lengthAdjust="spacingAndGlyphs">Multi&#8722;Gaussian fits</text>
<text x="341.3" y="25.9" font-family="Liberation Serif" font-weight="bold" font-size="7.6" fill="#c01c1c" textLength="10.9" lengthAdjust="spacingAndGlyphs">CH</text>
<text x="341.8" y="67.2" font-family="Liberation Serif" font-weight="bold" font-size="7.6" textLength="36.8" lengthAdjust="spacing">para&#8722;H<tspan font-size="4.6" dy="1.2">2</tspan><tspan dy="-1.2">O</tspan></text>
<text x="450.2" y="13.5" font-family="Liberation Sans" font-size="10.2" stroke="#000" stroke-width="0.25" textLength="65.9" lengthAdjust="spacing">G&#8722;0.02&#8722;0.07</text>
<text x="341.3" y="153.0" font-family="Liberation Serif" font-weight="bold" font-size="7.6" fill="#000" textLength="10.9" lengthAdjust="spacingAndGlyphs">HF</text>
<text x="341.3" y="160.2" font-family="Liberation Serif" font-weight="bold" font-size="7.6" fill="#078628" textLength="78.2" lengthAdjust="spacingAndGlyphs">Multi&#8722;Gaussian fit</text>
<text x="341.3" y="166.9" font-family="Liberation Serif" font-weight="bold" font-size="7.6" fill="#c01c1c" textLength="10.9" lengthAdjust="spacingAndGlyphs">CH</text>
<text x="341.8" y="208.2" font-family="Liberation Serif" font-weight="bold" font-size="7.6" textLength="36.8" lengthAdjust="spacing">para&#8722;H<tspan font-size="4.6" dy="1.2">2</tspan><tspan dy="-1.2">O</tspan></text>
<text x="450.2" y="154.5" font-family="Liberation Sans" font-size="10.2" stroke="#000" stroke-width="0.25" textLength="65.9" lengthAdjust="spacing">G&#8722;0.13&#8722;0.08</text>
<text x="142" y="290.4" font-family="Liberation Serif" font-weight="bold" font-size="8.4" textLength="54" lengthAdjust="spacing">V<tspan font-size="4.6" dy="1">LSR</tspan><tspan dy="-1"> (km s</tspan><tspan font-size="5.2" dy="-3.2">&#8722;1</tspan><tspan dy="3.2">)</tspan></text>
<text x="433.3" y="290.4" font-family="Liberation Serif" font-weight="bold" font-size="8.4" textLength="54" lengthAdjust="spacing">V<tspan font-size="4.6" dy="1">LSR</tspan><tspan dy="-1"> (km s</tspan><tspan font-size="5.2" dy="-3.2">&#8722;1</tspan><tspan dy="3.2">)</tspan></text></svg>
</body></html>
